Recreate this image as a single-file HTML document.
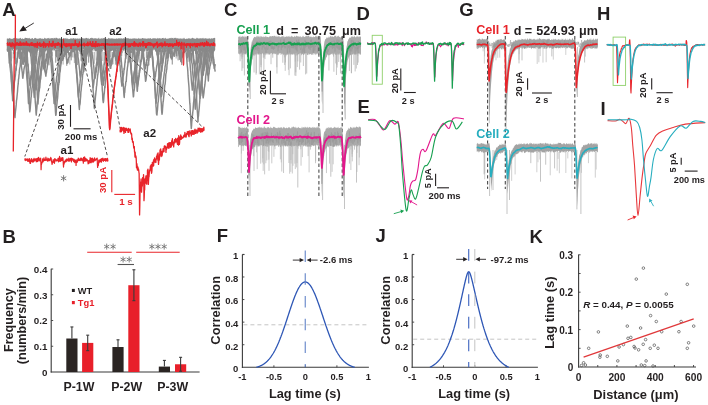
<!DOCTYPE html>
<html><head><meta charset="utf-8"><style>
html,body{margin:0;padding:0;background:#fff;}
body{width:708px;height:405px;overflow:hidden;}
svg{display:block;font-family:"Liberation Sans",sans-serif;will-change:transform;filter:blur(0.3px);}
</style></head><body>
<svg width="708" height="405" viewBox="0 0 708 405">
<rect width="708" height="405" fill="#ffffff"/>
<line x1="136.77" y1="52" x2="136.77" y2="64.77" stroke="#9a9a9a" stroke-width="0.8" />
<line x1="167.79" y1="52" x2="167.79" y2="56.7" stroke="#9a9a9a" stroke-width="0.8" />
<line x1="69.83" y1="52" x2="69.83" y2="64.48" stroke="#9a9a9a" stroke-width="0.8" />
<line x1="9.08" y1="52" x2="9.08" y2="63.85" stroke="#9a9a9a" stroke-width="0.8" />
<line x1="172.2" y1="52" x2="172.2" y2="59.62" stroke="#9a9a9a" stroke-width="0.8" />
<line x1="70.42" y1="52" x2="70.42" y2="57.34" stroke="#9a9a9a" stroke-width="0.8" />
<line x1="60.5" y1="52" x2="60.5" y2="59.34" stroke="#9a9a9a" stroke-width="0.8" />
<line x1="111.94" y1="52" x2="111.94" y2="60.64" stroke="#9a9a9a" stroke-width="0.8" />
<line x1="213.07" y1="52" x2="213.07" y2="63.51" stroke="#9a9a9a" stroke-width="0.8" />
<line x1="136.17" y1="52" x2="136.17" y2="65.87" stroke="#9a9a9a" stroke-width="0.8" />
<line x1="52.35" y1="52" x2="52.35" y2="55.92" stroke="#9a9a9a" stroke-width="0.8" />
<line x1="134.18" y1="52" x2="134.18" y2="54.53" stroke="#9a9a9a" stroke-width="0.8" />
<line x1="15.35" y1="52" x2="15.35" y2="60.18" stroke="#9a9a9a" stroke-width="0.8" />
<line x1="104.04" y1="52" x2="104.04" y2="65.01" stroke="#9a9a9a" stroke-width="0.8" />
<line x1="137.62" y1="52" x2="137.62" y2="60.17" stroke="#9a9a9a" stroke-width="0.8" />
<line x1="110.36" y1="52" x2="110.36" y2="56.97" stroke="#9a9a9a" stroke-width="0.8" />
<line x1="10.43" y1="52" x2="10.43" y2="56.31" stroke="#9a9a9a" stroke-width="0.8" />
<line x1="150.56" y1="52" x2="150.56" y2="56.41" stroke="#9a9a9a" stroke-width="0.8" />
<line x1="84.12" y1="52" x2="84.12" y2="54.04" stroke="#9a9a9a" stroke-width="0.8" />
<line x1="178.99" y1="52" x2="178.99" y2="55.85" stroke="#9a9a9a" stroke-width="0.8" />
<line x1="63.13" y1="52" x2="63.13" y2="64.56" stroke="#9a9a9a" stroke-width="0.8" />
<line x1="113.02" y1="52" x2="113.02" y2="64.17" stroke="#9a9a9a" stroke-width="0.8" />
<line x1="139.78" y1="52" x2="139.78" y2="62.9" stroke="#9a9a9a" stroke-width="0.8" />
<line x1="26.85" y1="52" x2="26.85" y2="60.49" stroke="#9a9a9a" stroke-width="0.8" />
<line x1="112.6" y1="52" x2="112.6" y2="64.46" stroke="#9a9a9a" stroke-width="0.8" />
<line x1="82.42" y1="52" x2="82.42" y2="61.18" stroke="#9a9a9a" stroke-width="0.8" />
<line x1="20.21" y1="52" x2="20.21" y2="58.65" stroke="#9a9a9a" stroke-width="0.8" />
<line x1="74.55" y1="52" x2="74.55" y2="55.8" stroke="#9a9a9a" stroke-width="0.8" />
<line x1="176.17" y1="52" x2="176.17" y2="58.55" stroke="#9a9a9a" stroke-width="0.8" />
<line x1="209.62" y1="52" x2="209.62" y2="61.08" stroke="#9a9a9a" stroke-width="0.8" />
<line x1="132.64" y1="52" x2="132.64" y2="61.66" stroke="#9a9a9a" stroke-width="0.8" />
<line x1="147.35" y1="52" x2="147.35" y2="55.81" stroke="#9a9a9a" stroke-width="0.8" />
<line x1="98.7" y1="52" x2="98.7" y2="56.87" stroke="#9a9a9a" stroke-width="0.8" />
<line x1="90.91" y1="52" x2="90.91" y2="55.16" stroke="#9a9a9a" stroke-width="0.8" />
<line x1="207.37" y1="52" x2="207.37" y2="56.58" stroke="#9a9a9a" stroke-width="0.8" />
<line x1="146.38" y1="52" x2="146.38" y2="57.61" stroke="#9a9a9a" stroke-width="0.8" />
<line x1="188.06" y1="52" x2="188.06" y2="61.95" stroke="#9a9a9a" stroke-width="0.8" />
<line x1="35.11" y1="52" x2="35.11" y2="64.14" stroke="#9a9a9a" stroke-width="0.8" />
<line x1="202.66" y1="52" x2="202.66" y2="64.85" stroke="#9a9a9a" stroke-width="0.8" />
<line x1="125.36" y1="52" x2="125.36" y2="55.75" stroke="#9a9a9a" stroke-width="0.8" />
<line x1="47.65" y1="52" x2="47.65" y2="65.13" stroke="#9a9a9a" stroke-width="0.8" />
<line x1="121.78" y1="52" x2="121.78" y2="56.17" stroke="#9a9a9a" stroke-width="0.8" />
<line x1="190.12" y1="52" x2="190.12" y2="61.7" stroke="#9a9a9a" stroke-width="0.8" />
<line x1="125.36" y1="52" x2="125.36" y2="58.52" stroke="#9a9a9a" stroke-width="0.8" />
<line x1="92.66" y1="52" x2="92.66" y2="56.87" stroke="#9a9a9a" stroke-width="0.8" />
<line x1="15.84" y1="52" x2="15.84" y2="64.51" stroke="#9a9a9a" stroke-width="0.8" />
<line x1="104.35" y1="52" x2="104.35" y2="60.57" stroke="#9a9a9a" stroke-width="0.8" />
<line x1="74.37" y1="52" x2="74.37" y2="63.02" stroke="#9a9a9a" stroke-width="0.8" />
<line x1="13.19" y1="52" x2="13.19" y2="58.47" stroke="#9a9a9a" stroke-width="0.8" />
<line x1="14.25" y1="52" x2="14.25" y2="55.47" stroke="#9a9a9a" stroke-width="0.8" />
<line x1="207.23" y1="52" x2="207.23" y2="61.89" stroke="#9a9a9a" stroke-width="0.8" />
<line x1="96.21" y1="52" x2="96.21" y2="60.28" stroke="#9a9a9a" stroke-width="0.8" />
<line x1="187.8" y1="52" x2="187.8" y2="58.13" stroke="#9a9a9a" stroke-width="0.8" />
<line x1="129.6" y1="52" x2="129.6" y2="62.2" stroke="#9a9a9a" stroke-width="0.8" />
<line x1="81.22" y1="52" x2="81.22" y2="60.23" stroke="#9a9a9a" stroke-width="0.8" />
<line x1="165.64" y1="52" x2="165.64" y2="64.91" stroke="#9a9a9a" stroke-width="0.8" />
<line x1="39.12" y1="52" x2="39.12" y2="65.2" stroke="#9a9a9a" stroke-width="0.8" />
<line x1="9.07" y1="52" x2="9.07" y2="63.04" stroke="#9a9a9a" stroke-width="0.8" />
<line x1="174.97" y1="52" x2="174.97" y2="55.64" stroke="#9a9a9a" stroke-width="0.8" />
<line x1="94.29" y1="52" x2="94.29" y2="63.78" stroke="#9a9a9a" stroke-width="0.8" />
<line x1="10.94" y1="52" x2="10.94" y2="61.54" stroke="#9a9a9a" stroke-width="0.8" />
<line x1="171.36" y1="52" x2="171.36" y2="60.16" stroke="#9a9a9a" stroke-width="0.8" />
<line x1="157.52" y1="52" x2="157.52" y2="56.72" stroke="#9a9a9a" stroke-width="0.8" />
<line x1="48.9" y1="52" x2="48.9" y2="58.36" stroke="#9a9a9a" stroke-width="0.8" />
<line x1="44.96" y1="52" x2="44.96" y2="58.15" stroke="#9a9a9a" stroke-width="0.8" />
<line x1="203.31" y1="52" x2="203.31" y2="60.88" stroke="#9a9a9a" stroke-width="0.8" />
<line x1="78.05" y1="52" x2="78.05" y2="57.26" stroke="#9a9a9a" stroke-width="0.8" />
<line x1="204.12" y1="52" x2="204.12" y2="59.33" stroke="#9a9a9a" stroke-width="0.8" />
<line x1="209.96" y1="52" x2="209.96" y2="60.19" stroke="#9a9a9a" stroke-width="0.8" />
<line x1="115.36" y1="52" x2="115.36" y2="64.76" stroke="#9a9a9a" stroke-width="0.8" />
<polygon points="6.8,38.79 7.2,38.53 7.6,38.28 8,39.01 8.4,38.26 8.8,39.08 9.2,37.71 9.6,38.29 10,38.43 10.4,39.12 10.8,38 11.2,38.89 11.6,38.68 12,38.75 12.4,38.61 12.8,39.15 13.2,38.13 13.6,38.24 14,37.92 14.4,37.68 14.8,37.94 15.2,39.06 15.6,38.94 16,37.78 16.4,38.57 16.8,38.37 17.2,38.55 17.6,38.65 18,38.09 18.4,39.14 18.8,38.35 19.2,38.6 19.6,38.62 20,37.89 20.4,37.7 20.8,38.26 21.2,38.82 21.6,38.9 22,38.77 22.4,37.78 22.8,39.06 23.2,38.88 23.6,39 24,38.44 24.4,39.07 24.8,37.67 25.2,37.65 25.6,37.63 26,38 26.4,38 26.8,37.9 27.2,38.51 27.6,37.66 28,38.54 28.4,37.87 28.8,38.68 29.2,37.63 29.6,38.1 30,39.1 30.4,38.46 30.8,38.9 31.2,38.65 31.6,38.58 32,37.91 32.4,38.52 32.8,37.66 33.2,38.88 33.6,39.14 34,38.97 34.4,37.68 34.8,38.14 35.2,38.11 35.6,37.78 36,38.6 36.4,38.88 36.8,38.1 37.2,38.98 37.6,38.88 38,37.81 38.4,38.83 38.8,39.01 39.2,37.92 39.6,38.52 40,38.62 40.4,38.57 40.8,37.75 41.2,38.66 41.6,38.61 42,38.92 42.4,38.89 42.8,38.12 43.2,38.76 43.6,38.99 44,39.03 44.4,37.86 44.8,37.64 45.2,38.64 45.6,37.94 46,38.5 46.4,39.11 46.8,38.21 47.2,38 47.6,38.33 48,38.65 48.4,37.76 48.8,38.21 49.2,37.81 49.6,38.66 50,38.93 50.4,38.2 50.8,38.19 51.2,38.46 51.6,37.94 52,38 52.4,38.13 52.8,38.33 53.2,37.73 53.6,38.8 54,38.53 54.4,38.08 54.8,37.72 55.2,38.82 55.6,37.81 56,37.81 56.4,37.81 56.8,37.73 57.2,39.05 57.6,38.03 58,38.09 58.4,38.93 58.8,38.59 59.2,37.9 59.6,38.3 60,39.01 60.4,38.2 60.8,38.74 61.2,37.75 61.6,38.76 62,38.84 62.4,38.92 62.8,38.68 63.2,38.19 63.6,37.7 64,38.43 64.4,38.81 64.8,37.91 65.2,38.03 65.6,38.46 66,38.8 66.4,39.03 66.8,37.8 67.2,37.89 67.6,38.88 68,38.63 68.4,38.75 68.8,39.19 69.2,39.1 69.6,38.95 70,38.84 70.4,38.23 70.8,38.63 71.2,37.9 71.6,38.82 72,38.81 72.4,38.75 72.8,38.31 73.2,38.21 73.6,38.27 74,37.65 74.4,38.95 74.8,38.47 75.2,38.22 75.6,38.48 76,38.75 76.4,38.21 76.8,38.93 77.2,39.07 77.6,38.22 78,37.82 78.4,38.82 78.8,39.19 79.2,37.84 79.6,38.74 80,38.92 80.4,39.07 80.8,37.8 81.2,37.75 81.6,39.18 82,37.79 82.4,37.88 82.8,38.52 83.2,38.31 83.6,38.8 84,37.9 84.4,39.06 84.8,37.95 85.2,38.83 85.6,37.71 86,38.36 86.4,37.65 86.8,38.1 87.2,38.1 87.6,38.75 88,38.33 88.4,37.69 88.8,39.19 89.2,39.02 89.6,39.07 90,37.99 90.4,38.23 90.8,37.96 91.2,37.8 91.6,37.65 92,38.41 92.4,37.8 92.8,37.88 93.2,38.98 93.6,38.37 94,37.89 94.4,38.67 94.8,38.03 95.2,38.44 95.6,38.05 96,38.43 96.4,38.61 96.8,38.46 97.2,38.23 97.6,38.87 98,39 98.4,37.89 98.8,37.82 99.2,37.78 99.6,39.17 100,39.11 100.4,37.97 100.8,39.15 101.2,37.93 101.6,38.41 102,38.4 102.4,39.06 102.8,37.66 103.2,38.1 103.6,38.56 104,37.71 104.4,37.98 104.8,38.34 105.2,39.01 105.6,38.82 106,38.93 106.4,38.82 106.8,38.73 107.2,38.96 107.6,38.69 108,38.78 108.4,38.08 108.8,37.87 109.2,38.81 109.6,37.87 110,39.07 110.4,38.55 110.8,38.13 111.2,39.1 111.6,37.85 112,38.42 112.4,37.75 112.8,39.14 113.2,38.52 113.6,38.89 114,38.05 114.4,38.88 114.8,38.72 115.2,38.63 115.6,39.12 116,38.29 116.4,38.26 116.8,38.71 117.2,38.94 117.6,38.14 118,38.67 118.4,37.93 118.8,38.48 119.2,38.83 119.6,37.7 120,38.76 120.4,37.62 120.8,39.13 121.2,38.35 121.6,38.25 122,38.75 122.4,38.44 122.8,38.77 123.2,37.74 123.6,38.5 124,38.49 124.4,39.09 124.8,37.66 125.2,38.32 125.6,38.61 126,38.48 126.4,37.72 126.8,38.55 127.2,37.96 127.6,37.91 128,39.01 128.4,37.92 128.8,38.33 129.2,38.8 129.6,38.73 130,38.49 130.4,38.89 130.8,38.35 131.2,38.59 131.6,38.91 132,38.68 132.4,38.63 132.8,38.25 133.2,38.49 133.6,38.23 134,38.79 134.4,38.21 134.8,38.35 135.2,38.81 135.6,38.41 136,38.14 136.4,38.92 136.8,38.21 137.2,38.95 137.6,38.86 138,38.32 138.4,38.74 138.8,37.66 139.2,38.22 139.6,38.98 140,38.53 140.4,38.49 140.8,38.66 141.2,38.68 141.6,38.53 142,38.27 142.4,37.89 142.8,38.07 143.2,38.07 143.6,38.29 144,39.2 144.4,38.16 144.8,38.32 145.2,38.19 145.6,38.53 146,39.12 146.4,39.02 146.8,38.2 147.2,38.03 147.6,39.02 148,38.39 148.4,38.7 148.8,37.72 149.2,38.99 149.6,38.1 150,38.39 150.4,37.92 150.8,38.27 151.2,38.92 151.6,38.92 152,38.36 152.4,38.83 152.8,38.33 153.2,38.2 153.6,38.47 154,37.92 154.4,38.11 154.8,38.73 155.2,38.83 155.6,37.69 156,38.77 156.4,38.91 156.8,38.31 157.2,37.7 157.6,38.69 158,37.99 158.4,38.63 158.8,38.2 159.2,38.62 159.6,38.01 160,38.36 160.4,38.44 160.8,38.61 161.2,37.93 161.6,39.14 162,38.06 162.4,38.09 162.8,38.01 163.2,37.71 163.6,38.28 164,38.83 164.4,38.74 164.8,37.91 165.2,37.82 165.6,38.11 166,38.83 166.4,38.38 166.8,39.08 167.2,38.65 167.6,38.59 168,38.83 168.4,38.8 168.8,38.15 169.2,38.01 169.6,38.3 170,38.38 170.4,37.83 170.8,38.31 171.2,38.62 171.6,37.82 172,37.82 172.4,37.88 172.8,38.05 173.2,39.14 173.6,37.64 174,37.89 174.4,37.86 174.8,38.36 175.2,37.62 175.6,38.33 176,37.86 176.4,38.03 176.8,38.87 177.2,37.89 177.6,38.59 178,38.25 178.4,38.27 178.8,38.91 179.2,37.86 179.6,39.08 180,39.03 180.4,38.67 180.8,37.68 181.2,38.66 181.6,38.56 182,38.84 182.4,37.94 182.8,39.13 183.2,39.02 183.6,37.78 184,38.1 184.4,37.65 184.8,38.93 185.2,39.06 185.6,39.18 186,38.58 186.4,38.67 186.8,38.69 187.2,38.51 187.6,39.12 188,38.57 188.4,38.14 188.8,38.42 189.2,37.63 189.6,38.76 190,38.71 190.4,38.27 190.8,38.96 191.2,38.81 191.6,38.14 192,37.72 192.4,37.81 192.8,37.89 193.2,38.09 193.6,38.32 194,39.08 194.4,38.05 194.8,39.04 195.2,38.69 195.6,38.97 196,38.25 196.4,37.61 196.8,38.86 197.2,37.99 197.6,37.83 198,38.88 198.4,38.7 198.8,37.94 199.2,38.03 199.6,39.1 200,38.03 200.4,38.72 200.8,37.81 201.2,38.9 201.6,37.79 202,38.43 202.4,37.66 202.8,38.48 203.2,38.95 203.6,37.74 204,38.04 204.4,38.82 204.8,38.57 205.2,38.1 205.6,38.61 206,38.33 206.4,38.98 206.8,38.07 207.2,38.81 207.6,38.62 208,38.78 208.4,38.21 208.8,38.76 209.2,38.72 209.6,38.22 210,37.64 210.4,39.14 210.8,38.74 211.2,37.93 211.6,38.77 212,38.05 212.4,38.35 212.8,38.98 213.2,38.32 213.6,38.06 214,38.09 214.4,37.72 214.8,37.95 215.2,38.03 215.2,49.88 214.8,50.58 214.4,51.06 214,50.3 213.6,51.43 213.2,50.36 212.8,49.14 212.4,51.42 212,50.89 211.6,49.17 211.2,48.9 210.8,51.6 210.4,49.44 210,51.54 209.6,50.27 209.2,49.97 208.8,49.26 208.4,50.91 208,49.31 207.6,51.42 207.2,50.95 206.8,48.91 206.4,50.34 206,49.36 205.6,50.39 205.2,49.68 204.8,49.14 204.4,49.96 204,50.58 203.6,50.79 203.2,48.95 202.8,50.04 202.4,50.05 202,50.65 201.6,50.48 201.2,51.64 200.8,50.01 200.4,49.16 200,50.41 199.6,51.54 199.2,50.93 198.8,49.83 198.4,49.52 198,50.26 197.6,50.15 197.2,49.35 196.8,50.71 196.4,51.22 196,51.76 195.6,49.01 195.2,49.92 194.8,50.03 194.4,50.83 194,51 193.6,51.21 193.2,49.65 192.8,51.63 192.4,49.19 192,49.44 191.6,49.14 191.2,50.05 190.8,49.18 190.4,51.51 190,49.49 189.6,50.42 189.2,48.85 188.8,50.02 188.4,51.62 188,49.23 187.6,49.57 187.2,50.15 186.8,50.91 186.4,50.26 186,51.36 185.6,50.45 185.2,49.55 184.8,51.44 184.4,51.55 184,49.12 183.6,50.93 183.2,49.47 182.8,50.92 182.4,49.84 182,49.19 181.6,51.44 181.2,48.92 180.8,50.68 180.4,51.78 180,50.09 179.6,50.81 179.2,48.99 178.8,49.33 178.4,49.99 178,50.89 177.6,50.7 177.2,51.24 176.8,50.15 176.4,51.65 176,50.31 175.6,51.58 175.2,49.99 174.8,48.82 174.4,51.71 174,48.96 173.6,48.99 173.2,50.57 172.8,49.71 172.4,50.85 172,49.04 171.6,50.95 171.2,50.41 170.8,50.39 170.4,49.18 170,50.25 169.6,49.64 169.2,49.88 168.8,51.27 168.4,49.46 168,50.56 167.6,50.53 167.2,49.64 166.8,48.82 166.4,51.03 166,49.61 165.6,49.5 165.2,50.11 164.8,51.46 164.4,50.27 164,50.63 163.6,49.21 163.2,50.52 162.8,49.91 162.4,50.17 162,51.39 161.6,50.11 161.2,49.39 160.8,49.37 160.4,51.47 160,50.85 159.6,50.02 159.2,50.38 158.8,51.54 158.4,51.16 158,51.32 157.6,51.75 157.2,48.92 156.8,50.9 156.4,51.71 156,48.83 155.6,51.39 155.2,51.52 154.8,49.78 154.4,49.17 154,50.28 153.6,50.62 153.2,49.12 152.8,50.87 152.4,49.64 152,51.06 151.6,49.09 151.2,50.41 150.8,50.6 150.4,50.93 150,49.81 149.6,51.18 149.2,50.51 148.8,50.53 148.4,50.05 148,51.23 147.6,51.4 147.2,51.01 146.8,51.76 146.4,51.37 146,49.03 145.6,49.4 145.2,51.42 144.8,51.42 144.4,50.93 144,50.24 143.6,51.2 143.2,50.24 142.8,49.93 142.4,49.17 142,49.19 141.6,51.19 141.2,48.89 140.8,51.27 140.4,49.38 140,49.13 139.6,48.86 139.2,48.91 138.8,49.79 138.4,51.51 138,49.93 137.6,51.02 137.2,51.59 136.8,50.75 136.4,50.66 136,50.17 135.6,49.38 135.2,51.64 134.8,49.02 134.4,49.99 134,50.8 133.6,49.64 133.2,50.94 132.8,49.39 132.4,50.93 132,49.22 131.6,50.4 131.2,50.32 130.8,48.92 130.4,49.08 130,51.28 129.6,49.83 129.2,50.91 128.8,50.29 128.4,50.66 128,50.18 127.6,51.74 127.2,51.04 126.8,51.63 126.4,49.82 126,50.51 125.6,51.63 125.2,50.18 124.8,48.87 124.4,50.39 124,51.22 123.6,49.7 123.2,51.76 122.8,49.35 122.4,51.17 122,50.07 121.6,49.61 121.2,49.93 120.8,49.3 120.4,50.58 120,51.34 119.6,51.43 119.2,48.95 118.8,48.95 118.4,50.49 118,50.29 117.6,50.27 117.2,51.64 116.8,50.06 116.4,48.83 116,51.66 115.6,51.51 115.2,50.29 114.8,48.98 114.4,50.96 114,50.85 113.6,49.11 113.2,49.19 112.8,50.29 112.4,49.66 112,51.2 111.6,50.47 111.2,51.78 110.8,50.28 110.4,50.87 110,50.59 109.6,49.2 109.2,51.07 108.8,48.87 108.4,49.25 108,51.69 107.6,51.27 107.2,50.44 106.8,49.44 106.4,49.36 106,49.72 105.6,51.41 105.2,51.6 104.8,49.13 104.4,51.75 104,50.24 103.6,49.88 103.2,49.35 102.8,48.94 102.4,50.05 102,51.02 101.6,51.5 101.2,49.95 100.8,50.16 100.4,49.77 100,49.41 99.6,51.54 99.2,50.8 98.8,50.79 98.4,49.09 98,51.33 97.6,51.5 97.2,49.9 96.8,51.42 96.4,51.72 96,51.14 95.6,51.72 95.2,50.85 94.8,51.52 94.4,49.89 94,49.11 93.6,48.92 93.2,51.06 92.8,51.77 92.4,49.67 92,51.19 91.6,50.49 91.2,49.02 90.8,51.71 90.4,51.59 90,50.8 89.6,51.19 89.2,51.57 88.8,50.15 88.4,51.69 88,51.79 87.6,50.82 87.2,50.79 86.8,49.69 86.4,50 86,50.24 85.6,51.67 85.2,48.95 84.8,48.83 84.4,49.98 84,50.94 83.6,48.83 83.2,51.2 82.8,51.04 82.4,51.19 82,48.89 81.6,51.56 81.2,49.68 80.8,51.34 80.4,50.03 80,49.97 79.6,50.76 79.2,51.04 78.8,50.07 78.4,50.59 78,51.7 77.6,49.89 77.2,50.91 76.8,49.53 76.4,49.71 76,51.48 75.6,51.24 75.2,49.89 74.8,50.83 74.4,50.68 74,49.52 73.6,50.89 73.2,50.97 72.8,51.1 72.4,51.11 72,49.39 71.6,49.78 71.2,50.11 70.8,49.54 70.4,51.62 70,51.38 69.6,50.5 69.2,50.64 68.8,50.46 68.4,50.39 68,49.53 67.6,50.68 67.2,50.58 66.8,48.98 66.4,50.68 66,48.96 65.6,48.97 65.2,50.44 64.8,51 64.4,48.82 64,49.12 63.6,49.45 63.2,50.57 62.8,49.36 62.4,51.33 62,48.81 61.6,49.76 61.2,49.59 60.8,50.11 60.4,50.42 60,50.09 59.6,51.6 59.2,49.97 58.8,49.05 58.4,51.7 58,48.99 57.6,50.81 57.2,51.52 56.8,51.49 56.4,49.08 56,51.41 55.6,49.71 55.2,48.88 54.8,51.4 54.4,50.37 54,49.66 53.6,51.36 53.2,48.99 52.8,49.99 52.4,50.49 52,51.38 51.6,51.04 51.2,49.59 50.8,50.87 50.4,49.05 50,49.14 49.6,50.58 49.2,49.54 48.8,50.59 48.4,51.03 48,49.53 47.6,50.81 47.2,51.7 46.8,50.96 46.4,50.04 46,50.73 45.6,50.41 45.2,51.41 44.8,51.15 44.4,51.64 44,50.95 43.6,51.38 43.2,51.3 42.8,50.28 42.4,49.81 42,50.43 41.6,51.31 41.2,49.19 40.8,51.76 40.4,49.46 40,50.87 39.6,49.38 39.2,51.45 38.8,49.55 38.4,48.85 38,50.74 37.6,51.38 37.2,50.49 36.8,49.56 36.4,50.23 36,50.34 35.6,51.29 35.2,51.59 34.8,49.04 34.4,50.39 34,51.22 33.6,50.8 33.2,51.67 32.8,49.07 32.4,49.25 32,51.28 31.6,51.05 31.2,51.5 30.8,49.03 30.4,49.35 30,51.48 29.6,50.12 29.2,49.74 28.8,50.17 28.4,50.68 28,50.99 27.6,50.59 27.2,49.6 26.8,50.17 26.4,51.39 26,49.35 25.6,49.94 25.2,51.3 24.8,50.33 24.4,50.05 24,51.21 23.6,50.15 23.2,49.39 22.8,50.03 22.4,49.54 22,50.09 21.6,50.83 21.2,49.86 20.8,50.06 20.4,48.94 20,50.1 19.6,51.55 19.2,51.34 18.8,50.62 18.4,51.67 18,50.84 17.6,48.89 17.2,50.44 16.8,50.39 16.4,49.36 16,51.01 15.6,51.58 15.2,49.52 14.8,50.69 14.4,50.23 14,51.78 13.6,49.2 13.2,49.2 12.8,50.02 12.4,51.6 12,49.39 11.6,50.38 11.2,49.15 10.8,51.43 10.4,51.57 10,50.28 9.6,50.08 9.2,50.98 8.8,49.03 8.4,49.58 8,51.16 7.6,50.4 7.2,51.61 6.8,51.28" fill="#8a8a8a"/>
<polyline points="8.73,51.05 8.98,49.51 9.23,49.18 9.48,48.36 9.73,49.07 9.98,51.92 10.23,53.44 10.48,54.74 10.73,57.99 10.98,61.22 11.23,64.68 11.48,66.73 11.73,70.35 11.98,72.19 12.23,76.39 12.48,82.79 12.73,82.71 12.98,88.39 13.23,92.87 13.48,96.28 13.73,99.92 13.98,104.83 14.23,109.12 14.48,113.35 14.73,115.93 14.98,117.58 15.23,114.02 15.48,111.5 15.73,109.48 15.98,107.13 16.23,104.66 16.48,100.56 16.73,99.31 16.98,96.93 17.23,94.29 17.48,91.98 17.73,87.91 17.98,85.4 18.23,83.94 18.48,79.34 18.73,78.55 18.98,75.49 19.23,73.38 19.48,69.78 19.73,68.46 19.98,67.21 20.23,66.06 20.48,64.16 20.73,61.16 20.98,59.2 21.23,56.78 21.48,56.33 21.73,54.1 21.98,53.5 22.23,53.34 22.48,50.48 22.73,48.5 22.98,49.14 23.23,48.54 23.48,48.8" fill="none" stroke="#888888" stroke-width="1.45" stroke-linejoin="round" />
<polyline points="7.39,50.23 7.64,48.48 7.89,50.65 8.14,51.26 8.39,49.64 8.64,50.56 8.89,52.72 9.14,55.46 9.39,58.16 9.64,61.23 9.89,63.95 10.14,66.74 10.39,69.87 10.64,72.23 10.89,73.21 11.14,77.87 11.39,81.67 11.64,84.41 11.89,89.22 12.14,91.55 12.39,94.65 12.64,100.76 12.89,97.83 13.14,94.95 13.39,93.25 13.64,91.02 13.89,87.96 14.14,82.85 14.39,82.36 14.64,80.34 14.89,77.62 15.14,76.64 15.39,75.51 15.64,71.75 15.89,69.07 16.14,70.24 16.39,65.82 16.64,63.15 16.89,62.79 17.14,61.21 17.39,58.37 17.64,58.23 17.89,55.39 18.14,53.49 18.39,53.23 18.64,52.59 18.89,50.13 19.14,50.35 19.39,49.91 19.64,52.82 19.89,49.29 20.14,51.38" fill="none" stroke="#888888" stroke-width="1.45" stroke-linejoin="round" />
<polyline points="7.65,50.72 7.9,50.89 8.15,51.27 8.4,50.33 8.65,49.4 8.9,50.66 9.15,53.46 9.4,55.58 9.65,58.67 9.9,60.14 10.15,63.38 10.4,66.57 10.65,68.07 10.9,69.38 11.15,72.75 11.4,75.65 11.65,81.92 11.9,82.81 12.15,88.29 12.4,91.13 12.65,95.8 12.9,94.93 13.15,91.49 13.4,89.08 13.65,87.09 13.9,84.94 14.15,82.02 14.4,80.34 14.65,79.84 14.9,74.42 15.15,74.32 15.4,71.12 15.65,70.23 15.9,68.95 16.15,66.16 16.4,65.14 16.65,60.99 16.9,61.95 17.15,58.57 17.4,58.2 17.65,56.23 17.9,52.01 18.15,52.5 18.4,52.25 18.65,52.51 18.9,50.42 19.15,50.26 19.4,48.59 19.65,51.43 19.9,51.81" fill="none" stroke="#888888" stroke-width="1.45" stroke-linejoin="round" />
<polyline points="18.38,49.78 18.63,48.38 18.88,50.88 19.13,52.7 19.38,50.72 19.63,52.24 19.88,52.96 20.13,53.1 20.38,57.28 20.63,56.71 20.88,59.86 21.13,62.58 21.38,65.52 21.63,67.47 21.88,69.95 22.13,71.38 22.38,73.5 22.63,77.57 22.88,78.27 23.13,75.83 23.38,74.07 23.63,73.07 23.88,69.96 24.13,68.75 24.38,66.78 24.63,66.95 24.88,65.57 25.13,65.59 25.38,60.56 25.63,59.89 25.88,60.04 26.13,57.52 26.38,56.08 26.63,56.84 26.88,53.59 27.13,51.65 27.38,50.46 27.63,51.21 27.88,50.47 28.13,48.63 28.38,49.01 28.63,50.53 28.88,50.58" fill="none" stroke="#888888" stroke-width="1.45" stroke-linejoin="round" />
<polyline points="19.21,50.57 19.46,48.22 19.71,49.69 19.96,50.42 20.21,49.43 20.46,48.48 20.71,51.25 20.96,53.34 21.21,55.34 21.46,52.84 21.71,58.99 21.96,56.66 22.21,60.23 22.46,62.04 22.71,63.37 22.96,64.17 23.21,62.27 23.46,62.97 23.71,60.55 23.96,57.7 24.21,62.02 24.46,58.91 24.71,59.04 24.96,55.37 25.21,56.84 25.46,56.09 25.71,55.21 25.96,52.84 26.21,50.91 26.46,51.25 26.71,48.6 26.96,48.58 27.21,50.09 27.46,49.01 27.71,49.84 27.96,49.89" fill="none" stroke="#888888" stroke-width="1.45" stroke-linejoin="round" />
<polyline points="24.01,51.3 24.26,49.96 24.51,51.21 24.76,49.22 25.01,49.66 25.26,52.25 25.51,52.06 25.76,55.31 26.01,56.8 26.26,60.98 26.51,65.39 26.76,66.06 27.01,70.23 27.26,72.42 27.51,75.59 27.76,79.03 28.01,85.34 28.26,89.97 28.51,91.89 28.76,94.58 29.01,99.96 29.26,102.96 29.51,108.21 29.76,111.88 30.01,110.63 30.26,108.24 30.51,104.36 30.76,101.87 31.01,97.92 31.26,96.6 31.51,93.06 31.76,91.8 32.01,88.49 32.26,87.09 32.51,85.02 32.76,80.76 33.01,79.02 33.26,76.59 33.51,76.02 33.76,74.76 34.01,71.74 34.26,68.43 34.51,68.18 34.76,63.19 35.01,64.26 35.26,60.23 35.51,56.3 35.76,60.01 36.01,57.3 36.26,53.15 36.51,52.94 36.76,51.3 37.01,50.57 37.26,48.52 37.51,49.32 37.76,50.47 38.01,50.22" fill="none" stroke="#888888" stroke-width="1.45" stroke-linejoin="round" />
<polyline points="23.21,50.08 23.46,52.35 23.71,49.28 23.96,50.26 24.21,48.08 24.46,50.02 24.71,54.47 24.96,54.37 25.21,58.26 25.46,60.27 25.71,62.05 25.96,65.65 26.21,68.52 26.46,71.69 26.71,76.19 26.96,79.44 27.21,81.66 27.46,84.87 27.71,89.68 27.96,92.99 28.21,97.89 28.46,103.36 28.71,103.62 28.96,100.19 29.21,97.54 29.46,94.36 29.71,91.86 29.96,89.34 30.21,87.56 30.46,85.17 30.71,84.02 30.96,80.59 31.21,78.55 31.46,75.32 31.71,76.02 31.96,72.76 32.21,71.96 32.46,68.95 32.71,67.66 32.96,64 33.21,63.1 33.46,63.29 33.71,57.63 33.96,58.37 34.21,57.32 34.46,54.57 34.71,53.55 34.96,52.84 35.21,49.86 35.46,50.42 35.71,49.11 35.96,49.31 36.21,49.37" fill="none" stroke="#888888" stroke-width="1.45" stroke-linejoin="round" />
<polyline points="25.15,50.46 25.4,48.55 25.65,52.03 25.9,51.18 26.15,50.74 26.4,50.7 26.65,52.53 26.9,55.01 27.15,56.89 27.4,56.92 27.65,61.71 27.9,66.37 28.15,64.03 28.4,69.58 28.65,71.66 28.9,73.97 29.15,78.38 29.4,78.72 29.65,83.12 29.9,85.5 30.15,81.77 30.4,79.55 30.65,78.13 30.9,75.62 31.15,75.77 31.4,71.38 31.65,71.38 31.9,67.4 32.15,67.62 32.4,65.11 32.65,60.89 32.9,61.91 33.15,59.25 33.4,58.37 33.65,58.94 33.9,54.81 34.15,53.55 34.4,54.87 34.65,52.37 34.9,52.81 35.15,50.71 35.4,49.09 35.65,49.93 35.9,51.26 36.15,50.97" fill="none" stroke="#888888" stroke-width="1.45" stroke-linejoin="round" />
<polyline points="30.27,50.05 30.52,49.88 30.77,49.41 31.02,51.99 31.27,50.01 31.52,50.2 31.77,52.85 32.02,56.41 32.27,58.89 32.52,60.86 32.77,63.26 33.02,67.07 33.27,68.55 33.52,72.29 33.77,77.92 34.02,80.18 34.27,84.73 34.52,89.37 34.77,92.64 35.02,95.93 35.27,102.11 35.52,104.7 35.77,107.82 36.02,113.17 36.27,115.12 36.52,111.03 36.77,109.23 37.02,106.25 37.27,101.69 37.52,100.87 37.77,98.11 38.02,95.35 38.27,91.53 38.52,90.32 38.77,88.14 39.02,85.82 39.27,82.12 39.52,81.55 39.77,77.31 40.02,76.03 40.27,75.35 40.52,71.08 40.77,69.11 41.02,68.64 41.27,65.1 41.52,63.2 41.77,61.81 42.02,60.81 42.27,55.7 42.52,55.43 42.77,53.66 43.02,52.11 43.27,51.02 43.52,49.9 43.77,50.31 44.02,49.09 44.27,50.13 44.52,50.41" fill="none" stroke="#888888" stroke-width="1.45" stroke-linejoin="round" />
<polyline points="29.01,50.13 29.26,51.68 29.51,50.33 29.76,49.35 30.01,49.93 30.26,50.28 30.51,53.28 30.76,55.97 31.01,56.56 31.26,59.68 31.51,63.67 31.76,64.81 32.01,68.41 32.26,70.19 32.51,73.52 32.76,77.04 33.01,83.05 33.26,83.85 33.51,87.19 33.76,90.7 34.01,94.7 34.26,97.47 34.51,94.6 34.76,94.1 35.01,89.91 35.26,88.83 35.51,85.39 35.76,83.47 36.01,79.21 36.26,78.35 36.51,76.28 36.76,74.01 37.01,70.04 37.26,71.06 37.51,67.83 37.76,65.86 38.01,64.17 38.26,62.39 38.51,61.26 38.76,57.89 39.01,56.61 39.26,56.29 39.51,54.68 39.76,52.81 40.01,51.37 40.26,50.04 40.51,50.02 40.76,51.18 41.01,48.94 41.26,51.52 41.51,50.84" fill="none" stroke="#888888" stroke-width="1.45" stroke-linejoin="round" />
<polyline points="30.97,48.53 31.22,48.27 31.47,48.71 31.72,49.59 31.97,49.67 32.22,50.64 32.47,52.95 32.72,52.69 32.97,57.51 33.22,57.95 33.47,61.22 33.72,64.1 33.97,66.11 34.22,68.76 34.47,72.08 34.72,76.11 34.97,79.84 35.22,83.03 35.47,84.75 35.72,88.31 35.97,90.09 36.22,89.22 36.47,84.52 36.72,85.61 36.97,81.74 37.22,79.32 37.47,78.36 37.72,77.01 37.97,74.3 38.22,73.04 38.47,70.19 38.72,69.39 38.97,67.56 39.22,64.42 39.47,64.21 39.72,61.24 39.97,59.52 40.22,56.94 40.47,56.07 40.72,55.71 40.97,52.28 41.22,53.01 41.47,51.62 41.72,50.65 41.97,47.79 42.22,49.9 42.47,50.65 42.72,49.24" fill="none" stroke="#888888" stroke-width="1.45" stroke-linejoin="round" />
<polyline points="32.51,47.62 32.76,50.67 33.01,49.34 33.26,50.87 33.51,48.16 33.76,51.97 34.01,52.9 34.26,56.13 34.51,56.8 34.76,59.71 35.01,65.34 35.26,65.17 35.51,68.33 35.76,71.9 36.01,74.41 36.26,79.98 36.51,83.96 36.76,85.07 37.01,87.67 37.26,94.26 37.51,97.97 37.76,101.53 38.01,103.93 38.26,99.36 38.51,97.54 38.76,93.84 39.01,91.35 39.26,91.32 39.51,87.28 39.76,87.87 40.01,83.35 40.26,80.35 40.51,79.54 40.76,78.34 41.01,74.86 41.26,71.03 41.51,70.55 41.76,69.52 42.01,65.68 42.26,63.48 42.51,63.4 42.76,60.73 43.01,57.75 43.26,56.82 43.51,54.87 43.76,54.44 44.01,52.89 44.26,52.71 44.51,51.24 44.76,48.44 45.01,50.41 45.26,50.9 45.51,50.46" fill="none" stroke="#888888" stroke-width="1.45" stroke-linejoin="round" />
<polyline points="34.27,49.05 34.52,50.93 34.77,48.93 35.02,47.84 35.27,51.03 35.52,50.37 35.77,52.38 36.02,53.15 36.27,55.28 36.52,57.68 36.77,60.84 37.02,64.05 37.27,63.98 37.52,69.72 37.77,70.57 38.02,73.56 38.27,78.25 38.52,80.52 38.77,82.15 39.02,88.04 39.27,83.25 39.52,82.3 39.77,80.23 40.02,79.44 40.27,75.61 40.52,75.14 40.77,71.5 41.02,71.5 41.27,67.8 41.52,66.42 41.77,66.94 42.02,63.67 42.27,61.82 42.52,62.35 42.77,58.94 43.02,56.28 43.27,56.43 43.52,53.18 43.77,54.25 44.02,53.19 44.27,50.41 44.52,49.56 44.77,50.18 45.02,50.01 45.27,49.02 45.52,50.57" fill="none" stroke="#888888" stroke-width="1.45" stroke-linejoin="round" />
<polyline points="41.38,49.57 41.63,49.6 41.88,49.73 42.13,50.31 42.38,48.77 42.63,51.51 42.88,52.1 43.13,53.2 43.38,54.24 43.63,56.31 43.88,59.85 44.13,60.63 44.38,63.86 44.63,67.14 44.88,69.47 45.13,72.43 45.38,73.08 45.63,74.85 45.88,76.17 46.13,73.76 46.38,72.9 46.63,70.15 46.88,69.72 47.13,67.79 47.38,66.11 47.63,64.39 47.88,62.81 48.13,61.21 48.38,59.81 48.63,59.22 48.88,56.42 49.13,57.43 49.38,54.4 49.63,54.37 49.88,52.26 50.13,51.17 50.38,52.64 50.63,49.71 50.88,48.72 51.13,49.29 51.38,49.68 51.63,52.16" fill="none" stroke="#888888" stroke-width="1.45" stroke-linejoin="round" />
<polyline points="40.63,50.93 40.88,49 41.13,50.35 41.38,50.67 41.63,51.8 41.88,50.07 42.13,52.49 42.38,53.5 42.63,53.63 42.88,56.2 43.13,57.61 43.38,57.3 43.63,62.05 43.88,63.88 44.13,64.86 44.38,65.98 44.63,70.87 44.88,68.44 45.13,67.82 45.38,66.86 45.63,63.61 45.88,63.65 46.13,61.33 46.38,60.28 46.63,59.06 46.88,57.98 47.13,57.96 47.38,55.89 47.63,54.57 47.88,53.46 48.13,53.15 48.38,51.04 48.63,50.65 48.88,50.43 49.13,49.44 49.38,49.88 49.63,49.39 49.88,52 50.13,51.33" fill="none" stroke="#888888" stroke-width="1.45" stroke-linejoin="round" />
<polyline points="39.84,52.19 40.09,50.32 40.34,49.91 40.59,50.3 40.84,50.31 41.09,52.19 41.34,51.9 41.59,55.34 41.84,53.83 42.09,56.99 42.34,56.98 42.59,61.58 42.84,61.28 43.09,63.47 43.34,66.44 43.59,68.82 43.84,68.55 44.09,68.32 44.34,65.88 44.59,66.04 44.84,64.46 45.09,62.9 45.34,61.27 45.59,60.32 45.84,58.74 46.09,58.82 46.34,58.66 46.59,54.11 46.84,54.86 47.09,53.55 47.34,53.5 47.59,51.17 47.84,51.16 48.09,49.57 48.34,50.77 48.59,50.1 48.84,49.84 49.09,50.37 49.34,49.75" fill="none" stroke="#888888" stroke-width="1.45" stroke-linejoin="round" />
<polyline points="49.77,50.6 50.02,50.29 50.27,49.85 50.52,50.98 50.77,51.22 51.02,50.27 51.27,52.58 51.52,57.24 51.77,59.69 52.02,60.31 52.27,62.83 52.52,66.48 52.77,69.86 53.02,72.15 53.27,77.24 53.52,79.52 53.77,83.28 54.02,89.19 54.27,91.46 54.52,96.03 54.77,100.76 55.02,105.06 55.27,108.09 55.52,112.73 55.77,115.34 56.02,115.1 56.27,111.22 56.52,106.71 56.77,105.09 57.02,103.11 57.27,100.21 57.52,98.93 57.77,95.87 58.02,91.4 58.27,89.32 58.52,85.64 58.77,84.72 59.02,82.2 59.27,82.38 59.52,77.45 59.77,72.98 60.02,72.16 60.27,70.76 60.52,67.25 60.77,65.56 61.02,64.04 61.27,62.8 61.52,60.4 61.77,57.86 62.02,57.81 62.27,54.85 62.52,53.36 62.77,51.08 63.02,50.44 63.27,50.9 63.52,48.38 63.77,49.93 64.02,50.72 64.27,49.62" fill="none" stroke="#888888" stroke-width="1.45" stroke-linejoin="round" />
<polyline points="48.53,48.88 48.78,51.31 49.03,51.1 49.28,50.24 49.53,48.24 49.78,50.23 50.03,54.12 50.28,57.03 50.53,58.03 50.78,61.58 51.03,62.49 51.28,65.81 51.53,69.03 51.78,72.6 52.03,73.91 52.28,79.73 52.53,83.56 52.78,84.63 53.03,88.04 53.28,93.44 53.53,96.21 53.78,98.33 54.03,103.58 54.28,100.38 54.53,97.23 54.78,97.33 55.03,92.9 55.28,89.59 55.53,88.05 55.78,84.55 56.03,82.51 56.28,81.38 56.53,78.19 56.78,76.09 57.03,76.04 57.28,73.11 57.53,70.98 57.78,68.68 58.03,66.66 58.28,65.71 58.53,62.37 58.78,62.44 59.03,57.9 59.28,56.94 59.53,54.24 59.78,53.8 60.03,53.3 60.28,53.01 60.53,49.87 60.78,50.01 61.03,49.64 61.28,49.26 61.53,48.81" fill="none" stroke="#888888" stroke-width="1.45" stroke-linejoin="round" />
<polyline points="49.98,50.11 50.23,50.02 50.48,49.34 50.73,48.99 50.98,48.62 51.23,53.17 51.48,51.84 51.73,56.95 51.98,58.44 52.23,60.12 52.48,62.13 52.73,67.28 52.98,71.04 53.23,71.58 53.48,75.52 53.73,80.27 53.98,83.06 54.23,88.31 54.48,89.41 54.73,94.27 54.98,96.31 55.23,103.55 55.48,104.7 55.73,101.36 55.98,100.86 56.23,98.3 56.48,97.83 56.73,93.09 56.98,90.96 57.23,89.14 57.48,87.74 57.73,83.74 57.98,82.52 58.23,79.72 58.48,76.67 58.73,74.85 58.98,72.65 59.23,69.6 59.48,69.68 59.73,65.07 59.98,65.68 60.23,63.57 60.48,60.7 60.73,58.26 60.98,57.12 61.23,56.22 61.48,54.99 61.73,53.15 61.98,52.61 62.23,50.02 62.48,50.23 62.73,48.43 62.98,50.76 63.23,50.15" fill="none" stroke="#888888" stroke-width="1.45" stroke-linejoin="round" />
<polyline points="63.61,51.16 63.86,50.69 64.11,47.18 64.36,50.04 64.61,48.54 64.86,51.66 65.11,53.95 65.36,51.96 65.61,53.68 65.86,54.56 66.11,56.45 66.36,58.1 66.61,60.16 66.86,59.35 67.11,63.43 67.36,62.49 67.61,62.77 67.86,62.61 68.11,61.15 68.36,58.5 68.61,57.76 68.86,57.05 69.11,56.54 69.36,56.85 69.61,53.55 69.86,54.48 70.11,53.83 70.36,53.04 70.61,52.25 70.86,52.66 71.11,51.06 71.36,50.98 71.61,50.56 71.86,51.79 72.11,48.1 72.36,51.28" fill="none" stroke="#888888" stroke-width="1.45" stroke-linejoin="round" />
<polyline points="65.92,49.03 66.17,48.13 66.42,49.62 66.67,49.31 66.92,50.49 67.17,48.84 67.42,52.21 67.67,51.6 67.92,51.68 68.17,51.86 68.42,52.47 68.67,52.85 68.92,54.19 69.17,55.53 69.42,55.92 69.67,54.13 69.92,54.75 70.17,53.6 70.42,54.14 70.67,55.35 70.92,53.63 71.17,52.23 71.42,50.47 71.67,50.26 71.92,49.59 72.17,51.63 72.42,49.8 72.67,50.33 72.92,49.42 73.17,50.09 73.42,51.4 73.67,49.32 73.92,49.66" fill="none" stroke="#888888" stroke-width="1.45" stroke-linejoin="round" />
<polyline points="73.63,50.87 73.88,48.97 74.13,48.87 74.38,48.61 74.63,48.59 74.88,51.79 75.13,55.82 75.38,54.51 75.63,58.96 75.88,60.95 76.13,62.46 76.38,66.29 76.63,69.47 76.88,72.28 77.13,78.27 77.38,77.91 77.63,83.77 77.88,87.38 78.13,90.21 78.38,94.77 78.63,99.4 78.88,102.66 79.13,106.97 79.38,109.43 79.63,104.03 79.88,104.89 80.13,103.08 80.38,99.19 80.63,96.67 80.88,91.73 81.13,90.53 81.38,87.38 81.63,85.19 81.88,84.36 82.13,80.25 82.38,78.62 82.63,74.58 82.88,74.12 83.13,72.19 83.38,69.28 83.63,67.19 83.88,67.78 84.13,62.72 84.38,60.98 84.63,59.39 84.88,59.64 85.13,58.87 85.38,55.51 85.63,52.98 85.88,51.92 86.13,52.22 86.38,49.31 86.63,51.45 86.88,51.42 87.13,50.07 87.38,50.65" fill="none" stroke="#888888" stroke-width="1.45" stroke-linejoin="round" />
<polyline points="73.13,51.55 73.38,48.95 73.63,51.18 73.88,49.62 74.13,49.23 74.38,51.33 74.63,52.82 74.88,54.14 75.13,55.86 75.38,59.03 75.63,64.09 75.88,67.4 76.13,69.02 76.38,72.59 76.63,74.03 76.88,77.71 77.13,81.4 77.38,83.45 77.63,87.03 77.88,91.68 78.13,94.91 78.38,97.15 78.63,96.17 78.88,93.12 79.13,92.03 79.38,88.66 79.63,86.06 79.88,84.21 80.13,81.67 80.38,78.97 80.63,77.06 80.88,76.09 81.13,73.9 81.38,72.49 81.63,67.51 81.88,66.85 82.13,64.93 82.38,63.66 82.63,61.24 82.88,59.45 83.13,59.08 83.38,56.88 83.63,54.03 83.88,55.12 84.13,53.48 84.38,50.75 84.63,51.21 84.88,49.26 85.13,51.13 85.38,49.78 85.63,49.2" fill="none" stroke="#888888" stroke-width="1.45" stroke-linejoin="round" />
<polyline points="75.91,50.19 76.16,50.18 76.41,50.04 76.66,49.44 76.91,46.34 77.16,51.04 77.41,50.44 77.66,54.2 77.91,56.89 78.16,57.97 78.41,59.36 78.66,61.73 78.91,64.04 79.16,65.97 79.41,68.36 79.66,70.52 79.91,75.2 80.16,76.63 80.41,77.75 80.66,74.79 80.91,73.38 81.16,71.43 81.41,70.4 81.66,69.12 81.91,66.93 82.16,64.44 82.41,62.8 82.66,63.74 82.91,60.35 83.16,58.93 83.41,59.33 83.66,57.64 83.91,55.83 84.16,53.72 84.41,55.36 84.66,52.37 84.91,51.62 85.16,50.15 85.41,48.59 85.66,48.67 85.91,50.41 86.16,50.39" fill="none" stroke="#888888" stroke-width="1.45" stroke-linejoin="round" />
<polyline points="88.72,48.83 88.97,48.56 89.22,49.67 89.47,48.54 89.72,50.9 89.97,52.47 90.22,56.06 90.47,56.36 90.72,57.37 90.97,59.77 91.22,60.03 91.47,65.88 91.72,69.43 91.97,73.81 92.22,76.81 92.47,80.24 92.72,83.42 92.97,87.51 93.22,92.02 93.47,93.32 93.72,97.81 93.97,100.84 94.22,107.87 94.47,108.59 94.72,105.4 94.97,100.83 95.22,99.61 95.47,96.64 95.72,94.43 95.97,91.66 96.22,89.91 96.47,86.57 96.72,85.43 96.97,82.46 97.22,79.61 97.47,77.52 97.72,74.96 97.97,74.03 98.22,70.8 98.47,69.28 98.72,66.55 98.97,63.48 99.22,63.94 99.47,60.12 99.72,60.06 99.97,58.09 100.22,54.38 100.47,53.56 100.72,52.57 100.97,50.98 101.22,49.52 101.47,50.74 101.72,49.76 101.97,50.39 102.22,49.57" fill="none" stroke="#888888" stroke-width="1.45" stroke-linejoin="round" />
<polyline points="88.39,49.25 88.64,49.97 88.89,50.58 89.14,50.05 89.39,49.54 89.64,50.03 89.89,52.92 90.14,55.01 90.39,56.52 90.64,58.29 90.89,62.03 91.14,66.51 91.39,66.39 91.64,69.79 91.89,72.68 92.14,72.68 92.39,78.4 92.64,80.67 92.89,85.93 93.14,87.53 93.39,86.03 93.64,84.46 93.89,82.74 94.14,79.94 94.39,78.41 94.64,75.1 94.89,74.26 95.14,73.32 95.39,72.62 95.64,69.49 95.89,67.24 96.14,66.38 96.39,64.49 96.64,63.46 96.89,61.25 97.14,58.48 97.39,57.36 97.64,55.85 97.89,54.62 98.14,53.25 98.39,51.12 98.64,48.8 98.89,49.45 99.14,47.97 99.39,50.07 99.64,50 99.89,48.32" fill="none" stroke="#888888" stroke-width="1.45" stroke-linejoin="round" />
<polyline points="90.45,50.1 90.7,51.67 90.95,51.87 91.2,48.79 91.45,51.04 91.7,51.44 91.95,52.88 92.2,55.1 92.45,55.34 92.7,57.5 92.95,59.43 93.2,61.78 93.45,64.81 93.7,65.93 93.95,68.89 94.2,73.14 94.45,75.19 94.7,78.42 94.95,78.48 95.2,77.7 95.45,76.08 95.7,74.84 95.95,72.43 96.2,72.19 96.45,69.47 96.7,67.85 96.95,66.19 97.2,65.27 97.45,62.51 97.7,62.57 97.95,60.42 98.2,58.68 98.45,57.18 98.7,56.33 98.95,55.57 99.2,54.32 99.45,52.66 99.7,52.18 99.95,50.59 100.2,51.25 100.45,49.97 100.7,47.92 100.95,51.34" fill="none" stroke="#888888" stroke-width="1.45" stroke-linejoin="round" />
<polyline points="97.8,48.83 98.05,49.8 98.3,49.12 98.55,52.1 98.8,50.5 99.05,49.71 99.3,53.69 99.55,54.92 99.8,59.65 100.05,59.28 100.3,60.85 100.55,66.06 100.8,68.68 101.05,71.76 101.3,73.3 101.55,79.22 101.8,83.91 102.05,83.87 102.3,90.56 102.55,92.52 102.8,99.21 103.05,101.14 103.3,102.59 103.55,101.33 103.8,98.23 104.05,94.63 104.3,93.48 104.55,89.83 104.8,86.16 105.05,87.63 105.3,82.92 105.55,80.38 105.8,79.08 106.05,74.98 106.3,73.02 106.55,71.75 106.8,69.66 107.05,68.22 107.3,67.29 107.55,63.78 107.8,62.88 108.05,61.19 108.3,57.77 108.55,57.42 108.8,54.68 109.05,55.21 109.3,53.24 109.55,51.58 109.8,49.2 110.05,50.12 110.3,49.23 110.55,50.71 110.8,49.88" fill="none" stroke="#888888" stroke-width="1.45" stroke-linejoin="round" />
<polyline points="98.8,50.93 99.05,50.72 99.3,49.41 99.55,51.16 99.8,49.7 100.05,50.75 100.3,52.74 100.55,53.68 100.8,56 101.05,58.44 101.3,62.44 101.55,64.83 101.8,65.59 102.05,70.09 102.3,71.15 102.55,74.36 102.8,77.74 103.05,80.09 103.3,85.23 103.55,83.83 103.8,80.38 104.05,80.9 104.3,77.23 104.55,75.41 104.8,70.84 105.05,72.98 105.3,70.97 105.55,69.17 105.8,67.61 106.05,66.62 106.3,63.22 106.55,62.6 106.8,59.35 107.05,58.24 107.3,58.2 107.55,56.15 107.8,53.11 108.05,53.58 108.3,51.91 108.55,50.28 108.8,50.72 109.05,49.6 109.3,48.43 109.55,48.89 109.8,51.77" fill="none" stroke="#888888" stroke-width="1.45" stroke-linejoin="round" />
<polyline points="96.92,50.61 97.17,50.64 97.42,48.77 97.67,49.68 97.92,50.14 98.17,51.87 98.42,51.99 98.67,53.31 98.92,57.5 99.17,59.79 99.42,61.37 99.67,62.84 99.92,66.4 100.17,68.75 100.42,72.21 100.67,72.95 100.92,77.21 101.17,79.9 101.42,81.99 101.67,84.64 101.92,82.42 102.17,79.97 102.42,78.8 102.67,75.04 102.92,74.49 103.17,73.1 103.42,71.11 103.67,70.09 103.92,66.05 104.17,64.01 104.42,64.07 104.67,62.65 104.92,62.73 105.17,59.69 105.42,56.72 105.67,56.99 105.92,53.99 106.17,52.09 106.42,55.02 106.67,51.69 106.92,51.2 107.17,50.56 107.42,51.81 107.67,50.28 107.92,51.22" fill="none" stroke="#888888" stroke-width="1.45" stroke-linejoin="round" />
<polyline points="118.99,48.61 119.24,51.43 119.49,51.47 119.74,50.51 119.99,50.23 120.24,51.39 120.49,52.32 120.74,56.63 120.99,58.06 121.24,60.4 121.49,62.91 121.74,66.37 121.99,68.73 122.24,71.98 122.49,73.19 122.74,78.08 122.99,83.06 123.24,83.74 123.49,87.59 123.74,92.15 123.99,95.83 124.24,97.44 124.49,92.79 124.74,92.54 124.99,88.51 125.24,86.56 125.49,85.66 125.74,82.57 125.99,81.46 126.24,81.63 126.49,77.12 126.74,74.97 126.99,71.3 127.24,69.54 127.49,67.15 127.74,65.76 127.99,63.34 128.24,61.95 128.49,60.65 128.74,58.16 128.99,56.12 129.24,54.64 129.49,54.99 129.74,53.24 129.99,52.97 130.24,51.92 130.49,49.74 130.74,50.67 130.99,48.56 131.24,52.28 131.49,51.2" fill="none" stroke="#888888" stroke-width="1.45" stroke-linejoin="round" />
<polyline points="117.08,50.38 117.33,48.13 117.58,49.22 117.83,50.75 118.08,50.08 118.33,50.62 118.58,53.68 118.83,53.59 119.08,57.01 119.33,58.49 119.58,60.54 119.83,64.38 120.08,65.56 120.33,71.19 120.58,71.54 120.83,77.03 121.08,76.95 121.33,81.72 121.58,83.06 121.83,86.14 122.08,86.05 122.33,84.46 122.58,80.43 122.83,80.84 123.08,76.84 123.33,75.79 123.58,74.09 123.83,72.4 124.08,68.13 124.33,69.72 124.58,66.87 124.83,64.13 125.08,61.84 125.33,59.52 125.58,58.26 125.83,58.63 126.08,56.27 126.33,54.08 126.58,53.37 126.83,54.24 127.08,51.24 127.33,50.05 127.58,51.35 127.83,50.46 128.08,50.04 128.33,49.39" fill="none" stroke="#888888" stroke-width="1.45" stroke-linejoin="round" />
<polyline points="128.1,48.83 128.35,49.52 128.6,49.78 128.85,50.36 129.1,50.55 129.35,51.44 129.6,53.23 129.85,54.08 130.1,55.25 130.35,59.37 130.6,61.58 130.85,64.67 131.1,67.95 131.35,69.99 131.6,73.25 131.85,77.47 132.1,80.99 132.35,83.6 132.6,88.22 132.85,91.04 133.1,93.85 133.35,96.85 133.6,96.29 133.85,91.36 134.1,90.86 134.35,88.76 134.6,86.61 134.85,82.04 135.1,82.67 135.35,78.6 135.6,76.09 135.85,74.02 136.1,72.8 136.35,70.23 136.6,68.04 136.85,67.58 137.1,63.7 137.35,61.57 137.6,61.65 137.85,59.87 138.1,58.64 138.35,54.92 138.6,55.62 138.85,53.66 139.1,53.71 139.35,49.63 139.6,50.3 139.85,49.72 140.1,48.41 140.35,49.29 140.6,51.13" fill="none" stroke="#888888" stroke-width="1.45" stroke-linejoin="round" />
<polyline points="127.92,49.28 128.17,50.87 128.42,50.99 128.67,50.99 128.92,49.21 129.17,51.05 129.42,53.75 129.67,53.95 129.92,55.95 130.17,59.78 130.42,62.91 130.67,62.71 130.92,63.89 131.17,67.77 131.42,71.03 131.67,74.81 131.92,78.55 132.17,80.85 132.42,83.43 132.67,87.49 132.92,84.52 133.17,83.34 133.42,80.68 133.67,81.96 133.92,78.1 134.17,74.48 134.42,72.38 134.67,71.04 134.92,67.97 135.17,67.06 135.42,65.28 135.67,65.17 135.92,62.17 136.17,60.17 136.42,58.04 136.67,56.68 136.92,56.33 137.17,54.8 137.42,54.85 137.67,51.88 137.92,52.49 138.17,50.78 138.42,50 138.67,47.99 138.92,48.71 139.17,50.74" fill="none" stroke="#888888" stroke-width="1.45" stroke-linejoin="round" />
<polyline points="127.87,50.76 128.12,49.59 128.37,49.63 128.62,49.34 128.87,50.97 129.12,51.43 129.37,52.43 129.62,54.19 129.87,57.12 130.12,59.1 130.37,60.29 130.62,65.31 130.87,66.43 131.12,68.86 131.37,73.09 131.62,75.49 131.87,77.31 132.12,80.93 132.37,82.4 132.62,84.89 132.87,81.2 133.12,82.64 133.37,77.51 133.62,78.12 133.87,74.66 134.12,72.6 134.37,71.51 134.62,70.13 134.87,68.67 135.12,68.07 135.37,64.94 135.62,63.79 135.87,60.69 136.12,60.43 136.37,58.35 136.62,56.29 136.87,55.27 137.12,54 137.37,53.04 137.62,52.14 137.87,50.28 138.12,49.33 138.37,50.75 138.62,48.3 138.87,49.38 139.12,51.55" fill="none" stroke="#888888" stroke-width="1.45" stroke-linejoin="round" />
<polyline points="132.33,49.31 132.58,50.69 132.83,48.35 133.08,52.6 133.33,47.41 133.58,52.59 133.83,54.4 134.08,55.74 134.33,56.78 134.58,59.72 134.83,60.97 135.08,65.31 135.33,66.13 135.58,69.83 135.83,74.05 136.08,74.98 136.33,78.86 136.58,82.59 136.83,84.36 137.08,90.22 137.33,91.2 137.58,87.11 137.83,86.37 138.08,83.46 138.33,81.43 138.58,80.05 138.83,77.19 139.08,76.82 139.33,73.14 139.58,72.86 139.83,69.9 140.08,68.91 140.33,65.67 140.58,63.91 140.83,61.52 141.08,61.56 141.33,60.29 141.58,59.9 141.83,57.57 142.08,55.11 142.33,53.32 142.58,52.69 142.83,51.19 143.08,51.8 143.33,50.94 143.58,49.16 143.83,49.31 144.08,51.37" fill="none" stroke="#888888" stroke-width="1.45" stroke-linejoin="round" />
<polyline points="133.16,51.19 133.41,49.61 133.66,49.72 133.91,49.54 134.16,48.04 134.41,51.92 134.66,51.39 134.91,53.83 135.16,55.65 135.41,59.27 135.66,60.76 135.91,63.25 136.16,64.07 136.41,68.26 136.66,69.57 136.91,74.13 137.16,77.04 137.41,79.58 137.66,84.63 137.91,83.48 138.16,81.56 138.41,79.14 138.66,76.87 138.91,76.13 139.16,74.39 139.41,70.16 139.66,70.71 139.91,68.41 140.16,67.13 140.41,64.96 140.66,61.61 140.91,60.09 141.16,61.54 141.41,58.49 141.66,55.39 141.91,55.79 142.16,53.8 142.41,51.12 142.66,49.57 142.91,49.3 143.16,50.43 143.41,49.95 143.66,49.75 143.91,50.28 144.16,50.6" fill="none" stroke="#888888" stroke-width="1.45" stroke-linejoin="round" />
<polyline points="141.01,49.7 141.26,49.17 141.51,48.77 141.76,49.45 142.01,49.88 142.26,50.76 142.51,51.08 142.76,53.82 143.01,58.27 143.26,57.3 143.51,58.9 143.76,63.21 144.01,65.99 144.26,68.4 144.51,69.45 144.76,74.28 145.01,75.29 145.26,77.8 145.51,81.25 145.76,80.86 146.01,79.75 146.26,77.76 146.51,75.24 146.76,74.35 147.01,71.69 147.26,70.73 147.51,66.69 147.76,64.82 148.01,65.51 148.26,61.73 148.51,61.24 148.76,59.92 149.01,58.06 149.26,56.68 149.51,57.17 149.76,51.96 150.01,54.17 150.26,54.47 150.51,51.21 150.76,50.35 151.01,50.73 151.26,51.83 151.51,48.81 151.76,50.09" fill="none" stroke="#888888" stroke-width="1.45" stroke-linejoin="round" />
<polyline points="141.34,50.16 141.59,50.66 141.84,49.58 142.09,50.05 142.34,49.33 142.59,50.08 142.84,51.69 143.09,52.97 143.34,53.34 143.59,57.61 143.84,57.52 144.09,57.96 144.34,62.22 144.59,62.21 144.84,65.37 145.09,66.81 145.34,68.78 145.59,67.35 145.84,65.28 146.09,64.59 146.34,65.31 146.59,59.79 146.84,60.88 147.09,60.06 147.34,57.42 147.59,55.98 147.84,58.43 148.09,54.86 148.34,56.31 148.59,53.83 148.84,52.49 149.09,52.07 149.34,51.51 149.59,51.45 149.84,50.44 150.09,50.14 150.34,50.18 150.59,51.35" fill="none" stroke="#888888" stroke-width="1.45" stroke-linejoin="round" />
<polyline points="150.72,49 150.97,49.36 151.22,50.33 151.47,49.38 151.72,49.62 151.97,50.41 152.22,53.11 152.47,56.14 152.72,59.3 152.97,61.11 153.22,66.14 153.47,67.11 153.72,73.64 153.97,74.83 154.22,77.82 154.47,80.43 154.72,81.81 154.97,88.28 155.22,92.5 155.47,98.21 155.72,98.96 155.97,106.37 156.22,108.42 156.47,113.67 156.72,114.74 156.97,114.95 157.22,111.65 157.47,109.9 157.72,106.56 157.97,102.61 158.22,102.01 158.47,99.1 158.72,96.38 158.97,94.21 159.22,91.75 159.47,88.11 159.72,84.3 159.97,81.83 160.22,82.17 160.47,79.17 160.72,76.25 160.97,73.45 161.22,71.7 161.47,69.52 161.72,67.05 161.97,64.63 162.22,65.51 162.47,61.64 162.72,58.96 162.97,56.49 163.22,55.38 163.47,55.24 163.72,53.82 163.97,51.53 164.22,50.69 164.47,49.69 164.72,48.89 164.97,51.3 165.22,50.37" fill="none" stroke="#888888" stroke-width="1.45" stroke-linejoin="round" />
<polyline points="150.54,49.24 150.79,49.86 151.04,50.88 151.29,49.75 151.54,48.61 151.79,50.33 152.04,53.24 152.29,55.66 152.54,57.63 152.79,61.33 153.04,64.09 153.29,66.32 153.54,69.06 153.79,71.93 154.04,75.99 154.29,79.71 154.54,82.3 154.79,86.23 155.04,89.07 155.29,91.68 155.54,95.86 155.79,101.47 156.04,103.22 156.29,101.82 156.54,97.76 156.79,96.09 157.04,94.09 157.29,91.34 157.54,87.34 157.79,85.41 158.04,83.4 158.29,80 158.54,79.22 158.79,77.56 159.04,73.89 159.29,74.22 159.54,69.88 159.79,67.95 160.04,65.93 160.29,63.54 160.54,62.8 160.79,60.61 161.04,60.51 161.29,57.8 161.54,56.16 161.79,53.92 162.04,51.37 162.29,51.47 162.54,49.68 162.79,50.95 163.04,49.97 163.29,51.67 163.54,50.74" fill="none" stroke="#888888" stroke-width="1.45" stroke-linejoin="round" />
<polyline points="150.15,50.21 150.4,50.65 150.65,50.92 150.9,49.29 151.15,50.49 151.4,53.62 151.65,52.38 151.9,53.92 152.15,55.38 152.4,56.67 152.65,61.47 152.9,62.63 153.15,65.25 153.4,69.27 153.65,72.49 153.9,71.72 154.15,76.38 154.4,78.72 154.65,80.94 154.9,79.14 155.15,76.78 155.4,76.56 155.65,73.79 155.9,71.76 156.15,70.92 156.4,68.88 156.65,66.78 156.9,65.02 157.15,64.87 157.4,62.08 157.65,59.98 157.9,57.77 158.15,56.89 158.4,54.86 158.65,54.75 158.9,53.71 159.15,50.3 159.4,51.38 159.65,51.17 159.9,50.17 160.15,49.05 160.4,51.27 160.65,49.31" fill="none" stroke="#888888" stroke-width="1.45" stroke-linejoin="round" />
<polyline points="156.06,48.92 156.31,49.99 156.56,50.99 156.81,51.17 157.06,50.21 157.31,50.17 157.56,52.69 157.81,54.77 158.06,58.06 158.31,59.23 158.56,64.06 158.81,67.69 159.06,70.13 159.31,74.09 159.56,76.16 159.81,79.22 160.06,83.71 160.31,89.27 160.56,93 160.81,95.45 161.06,101.13 161.31,103.69 161.56,109.7 161.81,112.91 162.06,114.25 162.31,112.71 162.56,108.38 162.81,105.48 163.06,102.26 163.31,101.3 163.56,98.35 163.81,95.72 164.06,92.81 164.31,92.12 164.56,87.76 164.81,84.99 165.06,84.54 165.31,82.33 165.56,78.9 165.81,74.52 166.06,73.4 166.31,72.41 166.56,69.66 166.81,69.09 167.06,64.12 167.31,64.18 167.56,60.96 167.81,61.06 168.06,57.89 168.31,57.31 168.56,54.04 168.81,51.81 169.06,50.78 169.31,50.15 169.56,48.98 169.81,51.2 170.06,51.34 170.31,50.27" fill="none" stroke="#888888" stroke-width="1.45" stroke-linejoin="round" />
<polyline points="156.39,49.88 156.64,49.31 156.89,51.45 157.14,50.32 157.39,50.49 157.64,50.82 157.89,50.99 158.14,54.32 158.39,56.28 158.64,60.26 158.89,62.63 159.14,64.52 159.39,67.83 159.64,72.8 159.89,73.4 160.14,76.65 160.39,80.64 160.64,83.56 160.89,87.29 161.14,91.79 161.39,96.6 161.64,95.03 161.89,94.39 162.14,92.08 162.39,89.61 162.64,87.2 162.89,84.77 163.14,83.87 163.39,80.19 163.64,78.35 163.89,76.35 164.14,74.36 164.39,72.02 164.64,71.18 164.89,68.21 165.14,66.47 165.39,64.38 165.64,61.61 165.89,60.03 166.14,58.12 166.39,57.74 166.64,55.28 166.89,53.48 167.14,53.42 167.39,52.47 167.64,49.12 167.89,51.77 168.14,50.03 168.39,49.89 168.64,51.07 168.89,50.07" fill="none" stroke="#888888" stroke-width="1.45" stroke-linejoin="round" />
<polyline points="155.48,48.93 155.73,49.9 155.98,50.85 156.23,48.93 156.48,49.9 156.73,51.42 156.98,54.95 157.23,53.42 157.48,56.22 157.73,59.04 157.98,60.71 158.23,61.78 158.48,65.85 158.73,68.11 158.98,71.09 159.23,74.5 159.48,77.18 159.73,79.44 159.98,82.28 160.23,80.16 160.48,79.18 160.73,77.63 160.98,75.12 161.23,73.77 161.48,71.03 161.73,71.61 161.98,70.48 162.23,66.23 162.48,65.35 162.73,63.08 162.98,63 163.23,60.63 163.48,58.79 163.73,57.07 163.98,56.05 164.23,53.63 164.48,54.09 164.73,51.57 164.98,51.82 165.23,50.57 165.48,51.09 165.73,49.98 165.98,51.02 166.23,49.08" fill="none" stroke="#888888" stroke-width="1.45" stroke-linejoin="round" />
<polyline points="167.85,49.78 168.1,50.19 168.35,50.07 168.6,50.94 168.85,47.98 169.1,50.78 169.35,49.62 169.6,53.1 169.85,50.78 170.1,52.67 170.35,52.98 170.6,57.33 170.85,55.48 171.1,58 171.35,58.51 171.6,57.21 171.85,57.88 172.1,58.11 172.35,56.51 172.6,56.9 172.85,54.89 173.1,54.57 173.35,53.51 173.6,53.59 173.85,54.53 174.1,52.41 174.35,51.7 174.6,50.38 174.85,49.8 175.1,51.64 175.35,48.89 175.6,49.09 175.85,49.9 176.1,49.57" fill="none" stroke="#888888" stroke-width="1.45" stroke-linejoin="round" />
<polyline points="169.26,50.36 169.51,50.71 169.76,48.88 170.01,49.36 170.26,50.43 170.51,51.9 170.76,49.75 171.01,49.55 171.26,52.62 171.51,53.72 171.76,52.45 172.01,51.19 172.26,55.51 172.51,54.53 172.76,56.15 173.01,54.51 173.26,53.73 173.51,53.21 173.76,54.7 174.01,54.24 174.26,50.26 174.51,51.08 174.76,53.42 175.01,50.92 175.26,49.59 175.51,50.65 175.76,50.26 176.01,50.04 176.26,49.52 176.51,49.69 176.76,49.54 177.01,50.33" fill="none" stroke="#888888" stroke-width="1.45" stroke-linejoin="round" />
<polyline points="184.79,49.71 185.04,49.86 185.29,51.31 185.54,50.37 185.79,49.89 186.04,51.96 186.29,53.92 186.54,57.03 186.79,59.15 187.04,63.34 187.29,65.98 187.54,67.85 187.79,70.86 188.04,75.68 188.29,78.96 188.54,82.1 188.79,84.57 189.04,88.17 189.29,94.39 189.54,98.95 189.79,103.2 190.04,105.4 190.29,112.1 190.54,114.98 190.79,120.42 191.04,125.03 191.29,128.46 191.54,126.03 191.79,121.55 192.04,119.74 192.29,115.91 192.54,115.23 192.79,111.97 193.04,109.97 193.29,106.59 193.54,102.81 193.79,101.03 194.04,97.57 194.29,95.89 194.54,92.94 194.79,89.02 195.04,87.44 195.29,84.96 195.54,82.1 195.79,80.86 196.04,79.27 196.29,74.83 196.54,72.54 196.79,68.39 197.04,68.31 197.29,65.87 197.54,62.06 197.79,62.51 198.04,60.87 198.29,57.69 198.54,56.29 198.79,54.04 199.04,54.22 199.29,50.55 199.54,50.55 199.79,51.97 200.04,50.05 200.29,50.47 200.54,49.85 200.79,48.83" fill="none" stroke="#888888" stroke-width="1.45" stroke-linejoin="round" />
<polyline points="187.29,48.98 187.54,50.34 187.79,51.24 188.04,51.07 188.29,48.42 188.54,50.18 188.79,51.22 189.04,55.87 189.29,57.59 189.54,60.03 189.79,60.95 190.04,63.28 190.29,67.27 190.54,70.13 190.79,72.12 191.04,76.15 191.29,79.76 191.54,82.54 191.79,84.54 192.04,86.81 192.29,90.14 192.54,88.33 192.79,85.71 193.04,83.38 193.29,80.98 193.54,80.28 193.79,77.45 194.04,75.59 194.29,72.5 194.54,70.89 194.79,69.76 195.04,66.72 195.29,64.63 195.54,63.78 195.79,63.58 196.04,60.89 196.29,60.54 196.54,57.4 196.79,55.73 197.04,53.25 197.29,52.75 197.54,53.56 197.79,51.4 198.04,50.96 198.29,50.71 198.54,49.99 198.79,49.8 199.04,50.12" fill="none" stroke="#888888" stroke-width="1.45" stroke-linejoin="round" />
<polyline points="189.57,50.46 189.82,50.49 190.07,50.15 190.32,49.23 190.57,49.74 190.82,50.38 191.07,54.26 191.32,53.4 191.57,57.79 191.82,63.08 192.07,63.22 192.32,65.43 192.57,69.69 192.82,74.26 193.07,76.18 193.32,80.43 193.57,83.49 193.82,86.67 194.07,93.94 194.32,94.69 194.57,97.99 194.82,102.02 195.07,106.94 195.32,109.15 195.57,106.83 195.82,103.56 196.07,99.37 196.32,98.74 196.57,95.35 196.82,92.85 197.07,89.16 197.32,87.62 197.57,85.05 197.82,83.36 198.07,79.6 198.32,78.8 198.57,76.61 198.82,73.15 199.07,71.48 199.32,69.12 199.57,68.82 199.82,63.36 200.07,63.59 200.32,60.37 200.57,59.77 200.82,59.29 201.07,56.13 201.32,55.32 201.57,52.85 201.82,54.29 202.07,52.07 202.32,51.35 202.57,48.67 202.82,48.9 203.07,51.08 203.32,49.81" fill="none" stroke="#888888" stroke-width="1.45" stroke-linejoin="round" />
<polyline points="191.11,48.74 191.36,50.77 191.61,50.02 191.86,50.48 192.11,49.33 192.36,51.48 192.61,51.68 192.86,55 193.11,57.01 193.36,58.77 193.61,60.48 193.86,62.81 194.11,61.77 194.36,67.71 194.61,69.08 194.86,72 195.11,74.25 195.36,75.83 195.61,77.68 195.86,77.07 196.11,76.05 196.36,72.26 196.61,70.26 196.86,70.92 197.11,66.93 197.36,68.27 197.61,64.66 197.86,62.18 198.11,62.54 198.36,61.79 198.61,57.25 198.86,58.88 199.11,55.73 199.36,56.26 199.61,53.22 199.86,50.93 200.11,52.02 200.36,51.59 200.61,52.14 200.86,51.72 201.11,50.7 201.36,49.76 201.61,49.48" fill="none" stroke="#888888" stroke-width="1.45" stroke-linejoin="round" />
<polyline points="191.73,49.17 191.98,49.73 192.23,47.46 192.48,50.18 192.73,49.97 192.98,53.96 193.23,54.18 193.48,55.32 193.73,58.99 193.98,60.04 194.23,63.68 194.48,65.58 194.73,72.19 194.98,74.78 195.23,76.56 195.48,81.34 195.73,86.11 195.98,89.51 196.23,93.34 196.48,96.13 196.73,100.47 196.98,105.39 197.23,110.48 197.48,113.07 197.73,117.18 197.98,121.82 198.23,116.85 198.48,115.99 198.73,112.32 198.98,110.15 199.23,108.23 199.48,104.43 199.73,101.8 199.98,97.43 200.23,95 200.48,93.73 200.73,92.04 200.98,89.36 201.23,87.78 201.48,83.32 201.73,80.79 201.98,79.22 202.23,75.9 202.48,73.54 202.73,70.32 202.98,70.18 203.23,65.99 203.48,65.51 203.73,61.57 203.98,62.16 204.23,58.17 204.48,58.27 204.73,54.16 204.98,53.73 205.23,53.91 205.48,50.64 205.73,50.46 205.98,49.52 206.23,47.69 206.48,50.31 206.73,50.43" fill="none" stroke="#888888" stroke-width="1.45" stroke-linejoin="round" />
<polyline points="194.55,50.57 194.8,49.2 195.05,49 195.3,50.01 195.55,49.32 195.8,53.49 196.05,51.4 196.3,55.75 196.55,58.27 196.8,57.75 197.05,60.6 197.3,65.63 197.55,67.44 197.8,71.27 198.05,75.09 198.3,76.74 198.55,79.29 198.8,80.95 199.05,87.29 199.3,89.64 199.55,94.43 199.8,94.27 200.05,90.32 200.3,91.12 200.55,88.2 200.8,85.71 201.05,81.47 201.3,80.06 201.55,77.78 201.8,75.8 202.05,73.03 202.3,72.55 202.55,70.36 202.8,68.56 203.05,65.79 203.3,65.74 203.55,62.84 203.8,58.18 204.05,58.6 204.3,57.58 204.55,57.07 204.8,54.35 205.05,53.05 205.3,51.41 205.55,51.66 205.8,49.71 206.05,49.4 206.3,49.26 206.55,50.56 206.8,49.47" fill="none" stroke="#888888" stroke-width="1.45" stroke-linejoin="round" />
<polyline points="194.89,49.3 195.14,50.36 195.39,50.37 195.64,51.2 195.89,51.04 196.14,50.66 196.39,52.87 196.64,53.86 196.89,59.16 197.14,60.44 197.39,64.07 197.64,65.17 197.89,66.38 198.14,73 198.39,74.72 198.64,78.01 198.89,81.27 199.14,85.28 199.39,88.67 199.64,90.13 199.89,96.45 200.14,98.24 200.39,95.86 200.64,95.64 200.89,92.45 201.14,88.84 201.39,85 201.64,84.73 201.89,82.85 202.14,80.02 202.39,76.67 202.64,74.98 202.89,72.42 203.14,71.83 203.39,70.42 203.64,68.65 203.89,64.98 204.14,64.08 204.39,62.59 204.64,59.77 204.89,58.45 205.14,59.12 205.39,55.67 205.64,54.91 205.89,52.27 206.14,51.56 206.39,48.81 206.64,49.97 206.89,51.19 207.14,52.1 207.39,51.2" fill="none" stroke="#888888" stroke-width="1.45" stroke-linejoin="round" />
<polyline points="197.93,50.05 198.18,49.4 198.43,49.84 198.68,50.61 198.93,49.21 199.18,52.17 199.43,52.07 199.68,53.39 199.93,56.5 200.18,58.38 200.43,61.36 200.68,66.69 200.93,68.31 201.18,71.79 201.43,75.9 201.68,79.26 201.93,80.85 202.18,86.12 202.43,88.7 202.68,91.91 202.93,96.02 203.18,97.89 203.43,96.38 203.68,94.62 203.93,92.94 204.18,89.58 204.43,87.49 204.68,86.28 204.93,84.45 205.18,81.57 205.43,79.87 205.68,76.04 205.93,74.01 206.18,72.56 206.43,69.9 206.68,67.71 206.93,67.93 207.18,64.19 207.43,61.59 207.68,61.27 207.93,60.91 208.18,57.52 208.43,57.11 208.68,53.98 208.93,52.56 209.18,51.13 209.43,50.62 209.68,51.85 209.93,48.84 210.18,51.64 210.43,48.99 210.68,49.77" fill="none" stroke="#888888" stroke-width="1.45" stroke-linejoin="round" />
<polyline points="198.8,50.28 199.05,48.35 199.3,50.36 199.55,48.98 199.8,52.57 200.05,50.7 200.3,52.44 200.55,52.67 200.8,55.06 201.05,56.12 201.3,60.37 201.55,61.21 201.8,64.21 202.05,65.22 202.3,67.74 202.55,71.93 202.8,72.15 203.05,73.85 203.3,74.93 203.55,71.7 203.8,70.76 204.05,70.49 204.3,67.17 204.55,67.31 204.8,64.23 205.05,64.91 205.3,63.29 205.55,60.08 205.8,58.97 206.05,57.03 206.3,56.79 206.55,56.52 206.8,52.76 207.05,54.04 207.3,50.79 207.55,50.35 207.8,48.66 208.05,52.1 208.3,50.06 208.55,50.24 208.8,49.32" fill="none" stroke="#888888" stroke-width="1.45" stroke-linejoin="round" />
<polyline points="211.19,47.9 211.44,50.03 211.69,52.21 211.94,49.62 212.19,50.02 212.44,51.53 212.69,51.31 212.94,53.62 213.19,56.19 213.44,57.18 213.69,59.22 213.94,60.47 214.19,63.18 214.44,65.05 214.69,68.65 214.94,70.19 215.19,71.55" fill="none" stroke="#888888" stroke-width="1.45" stroke-linejoin="round" />
<polyline points="210.2,50.76 210.45,49.08 210.7,48 210.95,48.86 211.2,50.93 211.45,49.69 211.7,51.41 211.95,53.39 212.2,55.83 212.45,56.13 212.7,57.7 212.95,58.98 213.2,62.96 213.45,64.27 213.7,65.05 213.95,65.75 214.2,68.41 214.45,68.4 214.7,65.74 214.95,66.02 215.2,64.19" fill="none" stroke="#888888" stroke-width="1.45" stroke-linejoin="round" />
<polyline points="106.45,50.65 106.7,50.5 106.95,49.14 107.2,49.67 107.45,52.34 107.7,49.56 107.95,51.41 108.2,54.26 108.45,54.49 108.7,55.4 108.95,56.55 109.2,60.16 109.45,62.47 109.7,64.74 109.95,65.36 110.2,68.37 110.45,68.36 110.7,68.34 110.95,66.12 111.2,65.63 111.45,64.88 111.7,63.91 111.95,60.58 112.2,61.61 112.45,58.67 112.7,56.95 112.95,56.68 113.2,54.3 113.45,54.73 113.7,54.03 113.95,52.6 114.2,52.48 114.45,50.84 114.7,50.49 114.95,48.57 115.2,50.04 115.45,49.15 115.7,49.55 115.95,49.91" fill="none" stroke="#888888" stroke-width="1.45" stroke-linejoin="round" />
<polyline points="107.04,48.44 107.29,49.7 107.54,50.47 107.79,50.36 108.04,50.89 108.29,51.92 108.54,52.03 108.79,52.58 109.04,52.75 109.29,54.11 109.54,55.94 109.79,58.09 110.04,59.53 110.29,60.85 110.54,62.29 110.79,64.71 111.04,63.74 111.29,62.73 111.54,61.67 111.79,59.76 112.04,58.24 112.29,58.76 112.54,57.71 112.79,56.13 113.04,55.01 113.29,56.83 113.54,52.95 113.79,52.69 114.04,52.42 114.29,50.3 114.54,50.95 114.79,52.1 115.04,50.93 115.29,50.63 115.54,50.59 115.79,50.11" fill="none" stroke="#888888" stroke-width="1.45" stroke-linejoin="round" />
<polyline points="113.04,49.84 113.29,49.58 113.54,50.1 113.79,50.91 114.04,50.33 114.29,51.33 114.54,49.59 114.79,53.93 115.04,56.32 115.29,56.65 115.54,56.42 115.79,57.39 116.04,60.08 116.29,60.43 116.54,63.82 116.79,64.3 117.04,65.73 117.29,64.97 117.54,60.43 117.79,61.63 118.04,59.55 118.29,57.77 118.54,57.52 118.79,56.91 119.04,57.18 119.29,53.69 119.54,55.35 119.79,55.46 120.04,53.22 120.29,52.41 120.54,51.15 120.79,49.39 121.04,50.62 121.29,50.38 121.54,50.73 121.79,52.57 122.04,50.73" fill="none" stroke="#888888" stroke-width="1.45" stroke-linejoin="round" />
<polyline points="112.35,48.65 112.6,48.86 112.85,49.62 113.1,49.35 113.35,50.69 113.6,50.15 113.85,52.9 114.1,53.49 114.35,53.63 114.6,53.43 114.85,55.45 115.1,56.72 115.35,55.96 115.6,58.54 115.85,60.1 116.1,59.73 116.35,60.27 116.6,59.1 116.85,56.28 117.1,56.47 117.35,54.76 117.6,55.45 117.85,53.31 118.1,54.43 118.35,53.25 118.6,53.22 118.85,51.53 119.1,49.68 119.35,52.43 119.6,50.08 119.85,51.38 120.1,50.43 120.35,50.67 120.6,51.83" fill="none" stroke="#888888" stroke-width="1.45" stroke-linejoin="round" />
<polyline points="79.72,51.4 79.97,48.52 80.22,50.87 80.47,49.76 80.72,49.87 80.97,50.82 81.22,52.36 81.47,55.06 81.72,53.09 81.97,56.66 82.22,57.67 82.47,61.41 82.72,61.76 82.97,64.66 83.22,65.89 83.47,69.1 83.72,71.65 83.97,70.18 84.22,69.14 84.47,66.22 84.72,66.52 84.97,65.67 85.22,62.89 85.47,63.23 85.72,58.73 85.97,57.68 86.22,56.92 86.47,56.63 86.72,55.99 86.97,54.79 87.22,53.76 87.47,53.57 87.72,51.47 87.97,49.86 88.22,49.19 88.47,52.11 88.72,47.65 88.97,49.82 89.22,51.46" fill="none" stroke="#888888" stroke-width="1.45" stroke-linejoin="round" />
<polyline points="79.99,50 80.24,50.86 80.49,51.21 80.74,49.1 80.99,50.76 81.24,50.87 81.49,52.63 81.74,53.97 81.99,53.4 82.24,53.56 82.49,56.74 82.74,59.53 82.99,59.91 83.24,60.98 83.49,64.73 83.74,62.92 83.99,64.23 84.24,61.67 84.49,61.22 84.74,60.22 84.99,60.63 85.24,57.18 85.49,56.62 85.74,54.62 85.99,55.8 86.24,53.98 86.49,54.03 86.74,51.74 86.99,51.72 87.24,52.43 87.49,50.6 87.74,50.89 87.99,50.53 88.24,49.65 88.49,48.44 88.74,50.99" fill="none" stroke="#888888" stroke-width="1.45" stroke-linejoin="round" />
<polyline points="58.86,50.98 59.11,47.99 59.36,48.35 59.61,47.86 59.86,49.12 60.11,51.5 60.36,51.68 60.61,51.86 60.86,52.88 61.11,54.43 61.36,54.35 61.61,56.09 61.86,56.91 62.11,55.7 62.36,58.66 62.61,60.37 62.86,57.82 63.11,57.31 63.36,56.09 63.61,55.48 63.86,56.37 64.11,54.29 64.36,52.87 64.61,50.14 64.86,52.06 65.11,50.08 65.36,49.68 65.61,51.8 65.86,51.26 66.11,48.26 66.36,50.85 66.61,50.46 66.86,49.22 67.11,50.73" fill="none" stroke="#888888" stroke-width="1.45" stroke-linejoin="round" />
<polyline points="59.67,48.56 59.92,48.89 60.17,50.88 60.42,48.67 60.67,48.85 60.92,49.42 61.17,51.12 61.42,51.22 61.67,53.13 61.92,52.32 62.17,52.55 62.42,54.19 62.67,55.62 62.92,55.57 63.17,57.73 63.42,58.7 63.67,55.66 63.92,55.66 64.17,56.36 64.42,53.77 64.67,52.99 64.92,52.19 65.17,53.15 65.42,52.75 65.67,51.6 65.92,51.33 66.17,52.14 66.42,51.35 66.67,48.76 66.92,49.97 67.17,50.08 67.42,50.7 67.67,49.75" fill="none" stroke="#888888" stroke-width="1.45" stroke-linejoin="round" />
<polyline points="176.97,49.52 177.22,48.2 177.47,49.95 177.72,49.38 177.97,50.44 178.22,49.47 178.47,50.83 178.72,51.19 178.97,52.1 179.22,54.94 179.47,54.91 179.72,57.02 179.97,56.71 180.22,59.23 180.47,58.79 180.72,60.72 180.97,59.77 181.22,59.94 181.47,58.65 181.72,57.42 181.97,57.59 182.22,56.12 182.47,55.67 182.72,55.13 182.97,53.56 183.22,52.62 183.47,52.57 183.72,51.2 183.97,51.43 184.22,51.64 184.47,50.97 184.72,49.57 184.97,48.67 185.22,49.9 185.47,49.83" fill="none" stroke="#888888" stroke-width="1.45" stroke-linejoin="round" />
<polyline points="178,51.06 178.25,49.57 178.5,49.75 178.75,50.69 179,49.48 179.25,50.18 179.5,52.6 179.75,53.03 180,52.9 180.25,53.31 180.5,52.9 180.75,55.3 181,55.71 181.25,56.81 181.5,57.05 181.75,57.02 182,56.2 182.25,56.06 182.5,56.55 182.75,54.88 183,52.27 183.25,52.39 183.5,51.23 183.75,51.5 184,52.35 184.25,51.72 184.5,50.29 184.75,50.76 185,49.41 185.25,48.53 185.5,48.55 185.75,49.09 186,51.37" fill="none" stroke="#888888" stroke-width="1.45" stroke-linejoin="round" />
<polyline points="203.84,51.19 204.09,51.28 204.34,49.77 204.59,49.9 204.84,49.34 205.09,50.91 205.34,53.02 205.59,54.05 205.84,56.89 206.09,59.08 206.34,60.36 206.59,62.58 206.84,64.52 207.09,67.35 207.34,68.4 207.59,72.49 207.84,74.95 208.09,76.6 208.34,81.07 208.59,76.12 208.84,74.42 209.09,73.78 209.34,69.83 209.59,69.26 209.84,66.84 210.09,65.75 210.34,64.97 210.59,63.85 210.84,63.1 211.09,61.32 211.34,60.26 211.59,58.27 211.84,55.88 212.09,56.19 212.34,53.39 212.59,52.14 212.84,53.25 213.09,51.61 213.34,50.33 213.59,50.7 213.84,50.82 214.09,48.58 214.34,49.85" fill="none" stroke="#888888" stroke-width="1.45" stroke-linejoin="round" />
<polyline points="202.98,48.77 203.23,50.07 203.48,49.27 203.73,51.3 203.98,50.46 204.23,50.02 204.48,52.1 204.73,52.42 204.98,55.34 205.23,57.64 205.48,59.27 205.73,59.09 205.98,62.78 206.23,65.81 206.48,67.86 206.73,71.03 206.98,70.98 207.23,74.73 207.48,71.92 207.73,71.17 207.98,69.8 208.23,68.54 208.48,65.76 208.73,65.03 208.98,62.23 209.23,60.57 209.48,61.16 209.73,59.21 209.98,56.35 210.23,55.87 210.48,55.54 210.73,55.94 210.98,54.35 211.23,53.1 211.48,49.61 211.73,50.5 211.98,50.48 212.23,50.34 212.48,50.36 212.73,49.71 212.98,51.7" fill="none" stroke="#888888" stroke-width="1.45" stroke-linejoin="round" />
<line x1="180.85" y1="50" x2="180.85" y2="62.27" stroke="#8a8a8a" stroke-width="1.0" />
<line x1="44.03" y1="50" x2="44.03" y2="57.08" stroke="#8a8a8a" stroke-width="1.0" />
<line x1="77.25" y1="50" x2="77.25" y2="65.09" stroke="#8a8a8a" stroke-width="1.0" />
<line x1="101.96" y1="50" x2="101.96" y2="61.01" stroke="#8a8a8a" stroke-width="1.0" />
<line x1="199.73" y1="50" x2="199.73" y2="58.16" stroke="#8a8a8a" stroke-width="1.0" />
<line x1="202.91" y1="50" x2="202.91" y2="56.8" stroke="#8a8a8a" stroke-width="1.0" />
<line x1="10.62" y1="50" x2="10.62" y2="54.33" stroke="#8a8a8a" stroke-width="1.0" />
<line x1="150.62" y1="50" x2="150.62" y2="57.96" stroke="#8a8a8a" stroke-width="1.0" />
<line x1="179.71" y1="50" x2="179.71" y2="59.93" stroke="#8a8a8a" stroke-width="1.0" />
<line x1="149.24" y1="50" x2="149.24" y2="57.58" stroke="#8a8a8a" stroke-width="1.0" />
<line x1="128.98" y1="50" x2="128.98" y2="62.07" stroke="#8a8a8a" stroke-width="1.0" />
<line x1="85.62" y1="50" x2="85.62" y2="59.38" stroke="#8a8a8a" stroke-width="1.0" />
<line x1="181.78" y1="50" x2="181.78" y2="65.08" stroke="#8a8a8a" stroke-width="1.0" />
<line x1="80.17" y1="50" x2="80.17" y2="53.87" stroke="#8a8a8a" stroke-width="1.0" />
<line x1="181.48" y1="50" x2="181.48" y2="58.81" stroke="#8a8a8a" stroke-width="1.0" />
<line x1="207.67" y1="50" x2="207.67" y2="62.92" stroke="#8a8a8a" stroke-width="1.0" />
<line x1="83.82" y1="50" x2="83.82" y2="64.05" stroke="#8a8a8a" stroke-width="1.0" />
<line x1="120.85" y1="50" x2="120.85" y2="62.27" stroke="#8a8a8a" stroke-width="1.0" />
<line x1="190.3" y1="50" x2="190.3" y2="60.54" stroke="#8a8a8a" stroke-width="1.0" />
<line x1="203.16" y1="50" x2="203.16" y2="58.18" stroke="#8a8a8a" stroke-width="1.0" />
<line x1="86.02" y1="50" x2="86.02" y2="61.32" stroke="#8a8a8a" stroke-width="1.0" />
<line x1="91.42" y1="50" x2="91.42" y2="62.2" stroke="#8a8a8a" stroke-width="1.0" />
<line x1="117.44" y1="50" x2="117.44" y2="62.65" stroke="#8a8a8a" stroke-width="1.0" />
<line x1="178.11" y1="50" x2="178.11" y2="60.38" stroke="#8a8a8a" stroke-width="1.0" />
<line x1="196.37" y1="50" x2="196.37" y2="63.15" stroke="#8a8a8a" stroke-width="1.0" />
<line x1="184.55" y1="50" x2="184.55" y2="53.25" stroke="#8a8a8a" stroke-width="1.0" />
<line x1="11.18" y1="50" x2="11.18" y2="61.25" stroke="#8a8a8a" stroke-width="1.0" />
<line x1="76.59" y1="50" x2="76.59" y2="64.35" stroke="#8a8a8a" stroke-width="1.0" />
<line x1="88.7" y1="50" x2="88.7" y2="62.67" stroke="#8a8a8a" stroke-width="1.0" />
<line x1="58.69" y1="50" x2="58.69" y2="61.18" stroke="#8a8a8a" stroke-width="1.0" />
<line x1="193.53" y1="50" x2="193.53" y2="64.21" stroke="#8a8a8a" stroke-width="1.0" />
<line x1="83.49" y1="50" x2="83.49" y2="59.26" stroke="#8a8a8a" stroke-width="1.0" />
<line x1="118.29" y1="50" x2="118.29" y2="57.48" stroke="#8a8a8a" stroke-width="1.0" />
<line x1="107.69" y1="50" x2="107.69" y2="65.54" stroke="#8a8a8a" stroke-width="1.0" />
<line x1="189.24" y1="50" x2="189.24" y2="57.09" stroke="#8a8a8a" stroke-width="1.0" />
<line x1="148.89" y1="50" x2="148.89" y2="65.33" stroke="#8a8a8a" stroke-width="1.0" />
<line x1="82.6" y1="50" x2="82.6" y2="64.03" stroke="#8a8a8a" stroke-width="1.0" />
<line x1="172.26" y1="50" x2="172.26" y2="64.53" stroke="#8a8a8a" stroke-width="1.0" />
<line x1="25.38" y1="50" x2="25.38" y2="65" stroke="#8a8a8a" stroke-width="1.0" />
<line x1="210.09" y1="50" x2="210.09" y2="56.14" stroke="#8a8a8a" stroke-width="1.0" />
<line x1="138.41" y1="50" x2="138.41" y2="54.17" stroke="#8a8a8a" stroke-width="1.0" />
<line x1="132.08" y1="50" x2="132.08" y2="62.21" stroke="#8a8a8a" stroke-width="1.0" />
<line x1="161.59" y1="50" x2="161.59" y2="64.14" stroke="#8a8a8a" stroke-width="1.0" />
<line x1="68.45" y1="50" x2="68.45" y2="54.51" stroke="#8a8a8a" stroke-width="1.0" />
<line x1="176.3" y1="50" x2="176.3" y2="53.33" stroke="#8a8a8a" stroke-width="1.0" />
<line x1="56.02" y1="50" x2="56.02" y2="56.08" stroke="#8a8a8a" stroke-width="1.0" />
<line x1="167.68" y1="50" x2="167.68" y2="58.75" stroke="#8a8a8a" stroke-width="1.0" />
<line x1="180.58" y1="50" x2="180.58" y2="61.68" stroke="#8a8a8a" stroke-width="1.0" />
<line x1="181.64" y1="50" x2="181.64" y2="63.22" stroke="#8a8a8a" stroke-width="1.0" />
<line x1="189.29" y1="50" x2="189.29" y2="56.59" stroke="#8a8a8a" stroke-width="1.0" />
<line x1="81.22" y1="50" x2="81.22" y2="61.17" stroke="#8a8a8a" stroke-width="1.0" />
<line x1="128.08" y1="50" x2="128.08" y2="63.11" stroke="#8a8a8a" stroke-width="1.0" />
<line x1="174.57" y1="50" x2="174.57" y2="56.96" stroke="#8a8a8a" stroke-width="1.0" />
<line x1="32.92" y1="50" x2="32.92" y2="62.64" stroke="#8a8a8a" stroke-width="1.0" />
<line x1="149.56" y1="50" x2="149.56" y2="56.6" stroke="#8a8a8a" stroke-width="1.0" />
<line x1="19.73" y1="50" x2="19.73" y2="53.3" stroke="#8a8a8a" stroke-width="1.0" />
<line x1="59.14" y1="50" x2="59.14" y2="56.56" stroke="#8a8a8a" stroke-width="1.0" />
<line x1="50.72" y1="50" x2="50.72" y2="53.66" stroke="#8a8a8a" stroke-width="1.0" />
<line x1="43.1" y1="50" x2="43.1" y2="57.55" stroke="#8a8a8a" stroke-width="1.0" />
<line x1="27.01" y1="50" x2="27.01" y2="55.69" stroke="#8a8a8a" stroke-width="1.0" />
<line x1="98.24" y1="50" x2="98.24" y2="64.03" stroke="#8a8a8a" stroke-width="1.0" />
<line x1="187.54" y1="50" x2="187.54" y2="58.27" stroke="#8a8a8a" stroke-width="1.0" />
<line x1="33.94" y1="50" x2="33.94" y2="56.5" stroke="#8a8a8a" stroke-width="1.0" />
<line x1="147.01" y1="50" x2="147.01" y2="58.3" stroke="#8a8a8a" stroke-width="1.0" />
<line x1="125.49" y1="50" x2="125.49" y2="62.58" stroke="#8a8a8a" stroke-width="1.0" />
<line x1="143.71" y1="50" x2="143.71" y2="64.17" stroke="#8a8a8a" stroke-width="1.0" />
<line x1="25.64" y1="50" x2="25.64" y2="56.86" stroke="#8a8a8a" stroke-width="1.0" />
<line x1="15.02" y1="50" x2="15.02" y2="59.77" stroke="#8a8a8a" stroke-width="1.0" />
<line x1="134.63" y1="50" x2="134.63" y2="56.3" stroke="#8a8a8a" stroke-width="1.0" />
<line x1="19.43" y1="50" x2="19.43" y2="59.03" stroke="#8a8a8a" stroke-width="1.0" />
<line x1="42.55" y1="50" x2="42.55" y2="55.53" stroke="#8a8a8a" stroke-width="1.0" />
<line x1="86.55" y1="50" x2="86.55" y2="65.29" stroke="#8a8a8a" stroke-width="1.0" />
<line x1="82.17" y1="50" x2="82.17" y2="62.22" stroke="#8a8a8a" stroke-width="1.0" />
<line x1="84.73" y1="50" x2="84.73" y2="58.27" stroke="#8a8a8a" stroke-width="1.0" />
<line x1="36.86" y1="50" x2="36.86" y2="55.4" stroke="#8a8a8a" stroke-width="1.0" />
<line x1="166.75" y1="50" x2="166.75" y2="58.58" stroke="#8a8a8a" stroke-width="1.0" />
<line x1="66.77" y1="50" x2="66.77" y2="65.83" stroke="#8a8a8a" stroke-width="1.0" />
<line x1="188.9" y1="50" x2="188.9" y2="56.44" stroke="#8a8a8a" stroke-width="1.0" />
<line x1="97.46" y1="50" x2="97.46" y2="60.37" stroke="#8a8a8a" stroke-width="1.0" />
<line x1="42.23" y1="50" x2="42.23" y2="58.55" stroke="#8a8a8a" stroke-width="1.0" />
<line x1="66.51" y1="50" x2="66.51" y2="63.53" stroke="#8a8a8a" stroke-width="1.0" />
<line x1="27.48" y1="50" x2="27.48" y2="65.89" stroke="#8a8a8a" stroke-width="1.0" />
<line x1="56.52" y1="50" x2="56.52" y2="57.3" stroke="#8a8a8a" stroke-width="1.0" />
<line x1="23.58" y1="50" x2="23.58" y2="64.87" stroke="#8a8a8a" stroke-width="1.0" />
<line x1="178.59" y1="50" x2="178.59" y2="53.88" stroke="#8a8a8a" stroke-width="1.0" />
<line x1="116.8" y1="50" x2="116.8" y2="58.08" stroke="#8a8a8a" stroke-width="1.0" />
<line x1="132.85" y1="50" x2="132.85" y2="57.37" stroke="#8a8a8a" stroke-width="1.0" />
<line x1="204.99" y1="50" x2="204.99" y2="55.83" stroke="#8a8a8a" stroke-width="1.0" />
<line x1="176.96" y1="50" x2="176.96" y2="56.48" stroke="#8a8a8a" stroke-width="1.0" />
<line x1="141.79" y1="50" x2="141.79" y2="58.56" stroke="#8a8a8a" stroke-width="1.0" />
<line x1="116.33" y1="50" x2="116.33" y2="59.79" stroke="#8a8a8a" stroke-width="1.0" />
<line x1="136.95" y1="50" x2="136.95" y2="53.88" stroke="#8a8a8a" stroke-width="1.0" />
<line x1="20.25" y1="50" x2="20.25" y2="65.62" stroke="#8a8a8a" stroke-width="1.0" />
<line x1="60.13" y1="50" x2="60.13" y2="57.64" stroke="#8a8a8a" stroke-width="1.0" />
<line x1="57.38" y1="50" x2="57.38" y2="61.39" stroke="#8a8a8a" stroke-width="1.0" />
<line x1="210.69" y1="50" x2="210.69" y2="58.24" stroke="#8a8a8a" stroke-width="1.0" />
<line x1="74.19" y1="50" x2="74.19" y2="57.54" stroke="#8a8a8a" stroke-width="1.0" />
<line x1="13.58" y1="50" x2="13.58" y2="54.17" stroke="#8a8a8a" stroke-width="1.0" />
<line x1="17.9" y1="50" x2="17.9" y2="57.21" stroke="#8a8a8a" stroke-width="1.0" />
<line x1="210.78" y1="50" x2="210.78" y2="54.84" stroke="#8a8a8a" stroke-width="1.0" />
<line x1="121.07" y1="50" x2="121.07" y2="55.69" stroke="#8a8a8a" stroke-width="1.0" />
<line x1="15.58" y1="50" x2="15.58" y2="63.88" stroke="#8a8a8a" stroke-width="1.0" />
<line x1="34.21" y1="50" x2="34.21" y2="54.76" stroke="#8a8a8a" stroke-width="1.0" />
<line x1="176.35" y1="50" x2="176.35" y2="56.17" stroke="#8a8a8a" stroke-width="1.0" />
<line x1="48.98" y1="50" x2="48.98" y2="65.26" stroke="#8a8a8a" stroke-width="1.0" />
<line x1="48.03" y1="50" x2="48.03" y2="63.81" stroke="#8a8a8a" stroke-width="1.0" />
<line x1="71.19" y1="50" x2="71.19" y2="60.35" stroke="#8a8a8a" stroke-width="1.0" />
<line x1="72.07" y1="50" x2="72.07" y2="57.41" stroke="#8a8a8a" stroke-width="1.0" />
<line x1="200.05" y1="50" x2="200.05" y2="64.8" stroke="#8a8a8a" stroke-width="1.0" />
<line x1="44.02" y1="50" x2="44.02" y2="62.42" stroke="#8a8a8a" stroke-width="1.0" />
<line x1="36.75" y1="50" x2="36.75" y2="56.89" stroke="#8a8a8a" stroke-width="1.0" />
<line x1="22.59" y1="50" x2="22.59" y2="61.42" stroke="#8a8a8a" stroke-width="1.0" />
<line x1="157.66" y1="50" x2="157.66" y2="62.7" stroke="#8a8a8a" stroke-width="1.0" />
<line x1="167.52" y1="50" x2="167.52" y2="58.13" stroke="#8a8a8a" stroke-width="1.0" />
<line x1="44.5" y1="50" x2="44.5" y2="53.06" stroke="#8a8a8a" stroke-width="1.0" />
<line x1="98.69" y1="50" x2="98.69" y2="65.13" stroke="#8a8a8a" stroke-width="1.0" />
<line x1="100.44" y1="50" x2="100.44" y2="61.01" stroke="#8a8a8a" stroke-width="1.0" />
<line x1="196.85" y1="50" x2="196.85" y2="64.21" stroke="#8a8a8a" stroke-width="1.0" />
<line x1="160.4" y1="50" x2="160.4" y2="60.7" stroke="#8a8a8a" stroke-width="1.0" />
<line x1="55.75" y1="50" x2="55.75" y2="62.73" stroke="#8a8a8a" stroke-width="1.0" />
<polygon points="6.8,43.75 7.2,43.44 7.6,43.17 8,43.4 8.4,43.23 8.8,43.25 9.2,43.25 9.6,43.16 10,43.03 10.4,43.6 10.8,43.01 11.2,43.46 11.6,43.29 12,43.52 12.4,43.46 12.8,43.38 13.2,43.62 13.6,43.46 14,43.72 14.4,43.47 14.8,43.7 15.2,43.69 15.6,43.57 16,43.26 16.4,43.39 16.8,43.06 17.2,43.58 17.6,43.52 18,43.65 18.4,43.07 18.8,43.1 19.2,43.52 19.6,43.59 20,43.06 20.4,43.02 20.8,43.26 21.2,43.27 21.6,43.04 22,43.08 22.4,43.16 22.8,43.01 23.2,43.12 23.6,43.02 24,43.3 24.4,43.6 24.8,43.53 25.2,43.48 25.6,43.37 26,43.15 26.4,43.04 26.8,43.15 27.2,43.76 27.6,43.65 28,43.46 28.4,43.49 28.8,43.6 29.2,43.66 29.6,43.19 30,43.64 30.4,43.52 30.8,43.22 31.2,43.23 31.6,43.14 32,43.44 32.4,43.77 32.8,43.63 33.2,43.13 33.6,43.1 34,43.23 34.4,43.13 34.8,43.11 35.2,43.59 35.6,43.25 36,43.45 36.4,43.25 36.8,43.79 37.2,43.47 37.6,43.11 38,43.62 38.4,43.23 38.8,43.36 39.2,43.23 39.6,43.39 40,43.25 40.4,43.26 40.8,43.13 41.2,43.77 41.6,43.17 42,43.23 42.4,43.33 42.8,43.09 43.2,43.18 43.6,43.33 44,43.47 44.4,43.43 44.8,43.29 45.2,43.54 45.6,43.6 46,43.21 46.4,43.19 46.8,43.5 47.2,43.33 47.6,43.66 48,43.01 48.4,43.43 48.8,43.28 49.2,43.17 49.6,43.69 50,43.17 50.4,43.63 50.8,43.68 51.2,43.77 51.6,43.09 52,43.12 52.4,43.07 52.8,43.26 53.2,43.73 53.6,43.51 54,43.12 54.4,43.08 54.8,43.6 55.2,43.5 55.6,43 56,43.47 56.4,43.15 56.8,43.23 57.2,43.08 57.6,43.79 58,43.37 58.4,43.49 58.8,43.16 59.2,43.3 59.6,43.52 60,43.6 60.4,43.73 60.8,43.2 61.2,43.19 61.6,43.32 62,43.25 62.4,43.66 62.8,43.3 63.2,43.3 63.6,43.4 64,43.45 64.4,43.28 64.8,43.01 65.2,43.59 65.6,43.09 66,43.68 66.4,43.2 66.8,43.2 67.2,43.43 67.6,43.73 68,43.3 68.4,43.38 68.8,43.33 69.2,43.09 69.6,43.23 70,43.73 70.4,43.75 70.8,43.2 71.2,43.74 71.6,43.01 72,43.57 72.4,43.02 72.8,43.34 73.2,43.33 73.6,43.35 74,43.75 74.4,43.28 74.8,43.01 75.2,43.09 75.6,43.6 76,43.1 76.4,43.05 76.8,43.16 77.2,43.78 77.6,43.36 78,43.12 78.4,43.53 78.8,43.3 79.2,43.44 79.6,43.8 80,43.56 80.4,43.43 80.8,43.8 81.2,43.4 81.6,43.36 82,43.68 82.4,43.77 82.8,43.58 83.2,43.29 83.6,43.32 84,43.01 84.4,43.19 84.8,43.62 85.2,43.39 85.6,43.69 86,43.54 86.4,43.45 86.8,43.64 87.2,43.4 87.6,43.53 88,43.39 88.4,43.28 88.8,43.61 89.2,43.06 89.6,43.78 90,43.77 90.4,43.66 90.8,43.37 91.2,43.36 91.6,43.32 92,43.37 92.4,43.18 92.8,43.64 93.2,43.7 93.6,43.4 94,43.68 94.4,43.23 94.8,43.69 95.2,43.78 95.6,43.54 96,43.77 96.4,43.58 96.8,43.55 97.2,43.38 97.6,43.05 98,43.1 98.4,43.66 98.8,43.15 99.2,43.55 99.6,43.13 100,43.6 100.4,43.76 100.8,43.49 101.2,43.03 101.6,43.59 102,43.38 102.4,43.69 102.8,43.12 103.2,43.22 103.6,43.74 104,43.67 104.4,43.73 104.8,43.42 105.2,43.54 105.6,43.75 106,43.53 106.4,43.07 106.8,43.12 107.2,43 107.6,43.09 108,43.02 108.4,43.31 108.8,43.49 109.2,43.69 109.6,43.33 110,43.13 110.4,43.73 110.8,43.73 111.2,43.78 111.6,43.02 112,43.47 112.4,43.5 112.8,43.43 113.2,43.15 113.6,43.74 114,43.43 114.4,43.03 114.8,43.28 115.2,43.58 115.6,43.16 116,43.62 116.4,43.17 116.8,43.35 117.2,43.23 117.6,43.1 118,43.71 118.4,43.27 118.8,43.6 119.2,43.71 119.6,43.23 120,43 120.4,43.42 120.8,43.19 121.2,43.7 121.6,43.13 122,43.58 122.4,43.02 122.8,43.22 123.2,43.16 123.6,43.68 124,43.48 124.4,43.53 124.8,43.07 125.2,43.25 125.6,43.71 126,43.49 126.4,43.61 126.8,43.4 127.2,43.16 127.6,43.73 128,43.21 128.4,43.14 128.8,43.52 129.2,43.07 129.6,43.61 130,43.57 130.4,43.31 130.8,43.41 131.2,43.39 131.6,43.06 132,43.06 132.4,43.28 132.8,43.01 133.2,43.15 133.6,43.29 134,43.5 134.4,43.41 134.8,43.14 135.2,43.61 135.6,43.64 136,43.53 136.4,43.55 136.8,43.2 137.2,43.67 137.6,43.47 138,43.14 138.4,43.55 138.8,43.5 139.2,43.45 139.6,43.38 140,43.61 140.4,43.58 140.8,43.47 141.2,43.05 141.6,43.19 142,43.78 142.4,43.32 142.8,43.51 143.2,43.11 143.6,43.46 144,43.49 144.4,43.61 144.8,43.78 145.2,43.36 145.6,43.25 146,43.13 146.4,43.27 146.8,43.35 147.2,43.77 147.6,43.41 148,43.54 148.4,43.59 148.8,43.01 149.2,43.19 149.6,43.43 150,43.05 150.4,43.12 150.8,43.6 151.2,43.54 151.6,43.11 152,43.09 152.4,43.67 152.8,43.38 153.2,43.25 153.6,43.58 154,43.54 154.4,43.8 154.8,43.08 155.2,43.61 155.6,43.37 156,43.2 156.4,43.4 156.8,43.02 157.2,43.1 157.6,43.09 158,43.55 158.4,43.57 158.8,43.2 159.2,43.25 159.6,43.62 160,43.31 160.4,43.28 160.8,43.76 161.2,43.44 161.6,43.43 162,43.49 162.4,43.03 162.8,43.32 163.2,43.63 163.6,43.52 164,43.71 164.4,43.25 164.8,43.38 165.2,43.19 165.6,43.15 166,43.07 166.4,43.16 166.8,43.13 167.2,43.35 167.6,43.33 168,43.61 168.4,43.62 168.8,43.43 169.2,43.53 169.6,43.37 170,43.25 170.4,43.4 170.8,43.5 171.2,43.76 171.6,43.65 172,43.05 172.4,43.51 172.8,43.07 173.2,43.5 173.6,43.68 174,43.56 174.4,43.1 174.8,43.34 175.2,43.16 175.6,43.53 176,43.57 176.4,43.59 176.8,43.29 177.2,43.48 177.6,43.17 178,43.74 178.4,43.75 178.8,43.02 179.2,43.45 179.6,43.57 180,43.18 180.4,43.03 180.8,43 181.2,43.57 181.6,43.01 182,43.31 182.4,43.64 182.8,43.04 183.2,43.57 183.6,43.34 184,43.31 184.4,43.39 184.8,43.28 185.2,43.69 185.6,43.54 186,43.31 186.4,43.1 186.8,43.4 187.2,43.8 187.6,43.71 188,43.05 188.4,43.28 188.8,43.38 189.2,43.32 189.6,43.09 190,43.15 190.4,43.43 190.8,43.58 191.2,43.57 191.6,43.54 192,43.54 192.4,43.01 192.8,43.17 193.2,43.27 193.6,43.2 194,43.31 194.4,43.32 194.8,43.27 195.2,43.01 195.6,43.69 196,43.77 196.4,43.49 196.8,43.22 197.2,43.36 197.6,43.73 198,43.48 198.4,43.56 198.8,43.56 199.2,43.78 199.6,43.52 200,43.09 200.4,43.4 200.8,43.74 201.2,43.1 201.6,43.04 202,43.04 202.4,43.06 202.8,43.13 203.2,43.62 203.6,43.48 204,43.59 204.4,43.45 204.8,43.28 205.2,43.63 205.6,43.14 206,43.29 206.4,43.33 206.8,43.54 207.2,43.61 207.6,43.45 208,43.49 208.4,43.22 208.8,43.47 209.2,43.67 209.6,43.35 210,43.6 210.4,43.41 210.8,43.41 211.2,43.49 211.6,43.11 212,43.17 212.4,43.14 212.8,43.43 213.2,43.54 213.6,43.57 214,43.17 214.4,43.27 214.8,43.12 215.2,43.52 215.2,45.51 214.8,45.41 214.4,45.45 214,45.72 213.6,45.42 213.2,45.97 212.8,45.55 212.4,45.69 212,45.78 211.6,45.55 211.2,45.58 210.8,45.22 210.4,45.82 210,45.32 209.6,45.26 209.2,45.42 208.8,45.45 208.4,45.37 208,45.77 207.6,45.79 207.2,45.45 206.8,45.84 206.4,45.63 206,45.55 205.6,45.62 205.2,45.65 204.8,45.93 204.4,45.84 204,45.43 203.6,45.86 203.2,45.22 202.8,45.51 202.4,45.22 202,45.92 201.6,45.5 201.2,45.73 200.8,45.78 200.4,45.36 200,45.65 199.6,45.45 199.2,45.79 198.8,45.48 198.4,45.69 198,45.27 197.6,45.94 197.2,45.21 196.8,45.47 196.4,45.94 196,45.82 195.6,45.49 195.2,45.61 194.8,45.41 194.4,45.59 194,45.59 193.6,45.71 193.2,45.42 192.8,45.99 192.4,45.4 192,45.31 191.6,45.91 191.2,45.27 190.8,45.63 190.4,45.51 190,45.63 189.6,45.51 189.2,45.58 188.8,45.47 188.4,45.48 188,45.74 187.6,45.36 187.2,45.58 186.8,45.67 186.4,46 186,45.64 185.6,45.88 185.2,45.44 184.8,45.24 184.4,45.72 184,45.21 183.6,45.34 183.2,45.64 182.8,45.7 182.4,45.25 182,45.21 181.6,45.42 181.2,45.97 180.8,45.89 180.4,45.55 180,45.67 179.6,45.85 179.2,45.71 178.8,45.24 178.4,45.46 178,45.55 177.6,45.36 177.2,45.65 176.8,45.81 176.4,45.96 176,45.24 175.6,45.8 175.2,45.43 174.8,45.39 174.4,45.75 174,45.83 173.6,45.65 173.2,45.48 172.8,45.56 172.4,45.8 172,45.99 171.6,45.45 171.2,45.55 170.8,45.44 170.4,45.75 170,45.9 169.6,45.98 169.2,45.59 168.8,45.22 168.4,45.55 168,45.39 167.6,45.25 167.2,45.81 166.8,45.21 166.4,45.34 166,45.52 165.6,45.45 165.2,45.86 164.8,45.81 164.4,45.76 164,45.86 163.6,45.67 163.2,45.97 162.8,45.73 162.4,45.35 162,45.47 161.6,45.32 161.2,45.48 160.8,45.93 160.4,45.77 160,45.97 159.6,45.52 159.2,45.51 158.8,45.55 158.4,45.27 158,45.99 157.6,45.62 157.2,45.31 156.8,45.53 156.4,45.42 156,45.44 155.6,45.78 155.2,45.49 154.8,45.61 154.4,45.24 154,45.81 153.6,45.27 153.2,45.51 152.8,45.71 152.4,45.33 152,45.77 151.6,45.6 151.2,45.81 150.8,45.49 150.4,45.44 150,45.83 149.6,45.8 149.2,45.69 148.8,45.2 148.4,45.73 148,45.71 147.6,45.28 147.2,45.9 146.8,45.25 146.4,45.63 146,45.76 145.6,45.22 145.2,45.52 144.8,45.54 144.4,45.92 144,45.4 143.6,45.43 143.2,45.84 142.8,45.39 142.4,45.75 142,45.59 141.6,45.38 141.2,45.68 140.8,45.82 140.4,45.83 140,45.34 139.6,45.27 139.2,45.89 138.8,45.48 138.4,45.59 138,45.68 137.6,45.51 137.2,45.51 136.8,45.67 136.4,45.35 136,45.83 135.6,45.35 135.2,45.87 134.8,45.29 134.4,45.86 134,45.84 133.6,45.24 133.2,45.63 132.8,45.53 132.4,45.3 132,45.9 131.6,45.54 131.2,45.4 130.8,45.98 130.4,45.49 130,45.38 129.6,46 129.2,45.31 128.8,45.97 128.4,45.33 128,46 127.6,45.44 127.2,45.33 126.8,45.37 126.4,45.5 126,45.49 125.6,45.59 125.2,45.28 124.8,45.88 124.4,45.8 124,45.23 123.6,45.53 123.2,45.49 122.8,45.68 122.4,45.21 122,45.8 121.6,45.65 121.2,45.59 120.8,45.55 120.4,45.38 120,45.55 119.6,45.9 119.2,45.24 118.8,45.91 118.4,45.33 118,45.78 117.6,45.83 117.2,45.94 116.8,45.31 116.4,45.78 116,45.97 115.6,45.28 115.2,45.9 114.8,45.93 114.4,45.72 114,45.45 113.6,45.86 113.2,45.43 112.8,45.72 112.4,45.76 112,45.7 111.6,45.78 111.2,45.68 110.8,45.78 110.4,45.43 110,45.9 109.6,45.78 109.2,45.86 108.8,45.8 108.4,45.44 108,45.8 107.6,45.62 107.2,45.87 106.8,45.27 106.4,45.24 106,45.5 105.6,45.84 105.2,45.22 104.8,45.72 104.4,45.71 104,45.24 103.6,45.86 103.2,45.87 102.8,45.98 102.4,45.61 102,45.27 101.6,45.64 101.2,45.48 100.8,45.86 100.4,45.58 100,45.26 99.6,45.69 99.2,45.95 98.8,45.53 98.4,45.51 98,45.84 97.6,45.61 97.2,45.34 96.8,45.24 96.4,45.51 96,45.72 95.6,45.23 95.2,45.8 94.8,45.31 94.4,45.87 94,45.42 93.6,45.48 93.2,45.84 92.8,45.35 92.4,45.67 92,45.99 91.6,45.51 91.2,45.74 90.8,45.52 90.4,45.44 90,45.48 89.6,45.24 89.2,45.57 88.8,45.83 88.4,45.94 88,45.55 87.6,45.35 87.2,45.51 86.8,45.9 86.4,45.4 86,45.9 85.6,45.93 85.2,45.36 84.8,45.68 84.4,45.69 84,45.21 83.6,45.65 83.2,45.89 82.8,45.7 82.4,45.82 82,45.48 81.6,45.32 81.2,45.83 80.8,45.47 80.4,45.43 80,45.51 79.6,45.22 79.2,45.75 78.8,45.39 78.4,45.21 78,45.25 77.6,45.27 77.2,45.92 76.8,45.43 76.4,45.56 76,45.49 75.6,45.95 75.2,45.43 74.8,45.92 74.4,45.51 74,45.3 73.6,45.96 73.2,45.89 72.8,45.38 72.4,45.46 72,45.48 71.6,45.89 71.2,45.73 70.8,45.54 70.4,45.35 70,45.44 69.6,45.71 69.2,45.45 68.8,45.96 68.4,45.78 68,45.83 67.6,45.75 67.2,45.56 66.8,45.92 66.4,45.27 66,45.23 65.6,45.99 65.2,45.63 64.8,45.66 64.4,45.92 64,45.49 63.6,45.26 63.2,45.65 62.8,45.81 62.4,45.65 62,45.34 61.6,45.71 61.2,45.68 60.8,45.68 60.4,45.59 60,45.59 59.6,45.27 59.2,45.72 58.8,45.41 58.4,45.46 58,45.83 57.6,45.99 57.2,45.8 56.8,45.59 56.4,45.33 56,45.83 55.6,45.84 55.2,45.24 54.8,45.33 54.4,45.31 54,46 53.6,45.43 53.2,45.61 52.8,45.76 52.4,45.92 52,45.36 51.6,45.26 51.2,45.58 50.8,45.77 50.4,45.46 50,45.94 49.6,45.31 49.2,45.97 48.8,45.28 48.4,45.76 48,45.72 47.6,45.55 47.2,45.95 46.8,45.31 46.4,45.64 46,45.32 45.6,45.21 45.2,45.9 44.8,45.27 44.4,45.88 44,45.76 43.6,45.55 43.2,45.69 42.8,45.76 42.4,45.47 42,45.62 41.6,45.72 41.2,45.38 40.8,45.46 40.4,45.87 40,45.82 39.6,45.28 39.2,45.72 38.8,45.38 38.4,45.85 38,45.36 37.6,45.91 37.2,45.48 36.8,45.9 36.4,45.79 36,45.55 35.6,45.5 35.2,45.57 34.8,45.82 34.4,45.47 34,45.57 33.6,45.43 33.2,45.47 32.8,45.54 32.4,45.42 32,45.39 31.6,45.39 31.2,45.99 30.8,45.81 30.4,45.51 30,45.29 29.6,45.32 29.2,45.39 28.8,45.24 28.4,45.22 28,45.3 27.6,45.61 27.2,45.76 26.8,45.4 26.4,45.68 26,45.26 25.6,45.39 25.2,45.48 24.8,45.33 24.4,45.49 24,45.47 23.6,45.28 23.2,45.55 22.8,45.33 22.4,45.36 22,45.39 21.6,45.37 21.2,45.81 20.8,45.79 20.4,45.6 20,45.26 19.6,45.25 19.2,45.4 18.8,45.54 18.4,45.54 18,45.8 17.6,45.49 17.2,45.84 16.8,45.58 16.4,45.62 16,45.91 15.6,45.4 15.2,45.61 14.8,45.8 14.4,45.65 14,45.64 13.6,45.86 13.2,45.25 12.8,45.66 12.4,45.24 12,45.28 11.6,45.53 11.2,45.31 10.8,45.87 10.4,45.27 10,45.43 9.6,45.83 9.2,45.74 8.8,45.21 8.4,45.61 8,45.24 7.6,45.82 7.2,45.78 6.8,45.66" fill="#e8242a"/>
<polyline points="6.8,43.68 7.1,43.7 7.4,42.55 7.7,42.42 8,45.2 8.3,45.47 8.6,45.06 8.9,44.93 9.2,43.69 9.5,45.07 9.8,42.32 10.1,44.54 10.4,46.75 10.7,46.52 11,43.83 11.3,44.03 11.6,46.6 11.9,47.22 12.2,42.28 12.5,43.89 12.8,44.88 13.1,46.37 13.4,43.27 13.7,45.5 14,44.08 14.3,48.11 14.6,45.18 14.9,44.33 15.2,44.03 15.5,46.12 15.8,45.55 16.1,42.9 16.4,44.86 16.7,42.52 17,43.39 17.3,42.58 17.6,42.54 17.9,43.5 18.2,43.06 18.5,45.33 18.8,45.73 19.1,44.17 19.4,42.85 19.7,45.74 20,41.48 20.3,41.62 20.6,45.63 20.9,45.52 21.2,46 21.5,44.21 21.8,42.63 22.1,43.77 22.4,45.39 22.7,43.38 23,43.48 23.3,42.43 23.6,42.78 23.9,45.8 24.2,45.22 24.5,42.78 24.8,42.91 25.1,43.69 25.4,45.36 25.7,42.77 26,44.28 26.3,41.3 26.6,42.64 26.9,45.17 27.2,45.89 27.5,42.79 27.8,43.37 28.1,45.73 28.4,43.95 28.7,43.72 29,45.32 29.3,44.83 29.6,46.21 29.9,45.73 30.2,43.67 30.5,44.35 30.8,44.44 31.1,42.49 31.4,43.07 31.7,46 32,42.14 32.3,46.03 32.6,44.96 32.9,44.33 33.2,45.35 33.5,45.25 33.8,46.36 34.1,43.93 34.4,44.19 34.7,44.17 35,47.37 35.3,45.96 35.6,43.15 35.9,44.03 36.2,43.47 36.5,44.56 36.8,44.86 37.1,47.99 37.4,41.79 37.7,46.09 38,45.2 38.3,43.48 38.6,44.31 38.9,43.79 39.2,44.62 39.5,46.06 39.8,42.26 40.1,46.52 40.4,43.98 40.7,46.8 41,45.16 41.3,46.4 41.6,45.39 41.9,46.18 42.2,44.63 42.5,43.29 42.8,45.56 43.1,45.62 43.4,47.7 43.7,41.53 44,44.25 44.3,46.14 44.6,42.66 44.9,44.21 45.2,47.73 45.5,46.68 45.8,43.23 46.1,46.69 46.4,46.33 46.7,45.72 47,45.12 47.3,44.91 47.6,43.24 47.9,43.78 48.2,45.65 48.5,44.76 48.8,47.33 49.1,44.05 49.4,40.95 49.7,44.05 50,44.97 50.3,45.13 50.6,44.66 50.9,43.32 51.2,46.8 51.5,43.56 51.8,45.63 52.1,44.13 52.4,42.76 52.7,46.68 53,40.79 53.3,43.28 53.6,45.21 53.9,44.03 54.2,45.69 54.5,44.41 54.8,43.88 55.1,47.81 55.4,44.23 55.7,44.33 56,42.94 56.3,43.44 56.6,45.54 56.9,45.41 57.2,44.57 57.5,43.52 57.8,45.6 58.1,42.01 58.4,44.06 58.7,44.19 59,43.3 59.3,44.8 59.6,43.57 59.9,43.37 60.2,47.28 60.5,45.69 60.8,46.38 61.1,44.65 61.4,46.03 61.7,45.75 62,46.4 62.3,48.13 62.6,44.24 62.9,44.97 63.2,44.51 63.5,39.31 63.8,42.49 64.1,44.61 64.4,45.54 64.7,43.72 65,46.29 65.3,46.51 65.6,43.97 65.9,46.73 66.2,47.22 66.5,45.29 66.8,43.12 67.1,46.8 67.4,44.35 67.7,44.03 68,44.77 68.3,43.79 68.6,46.21 68.9,45.76 69.2,46.43 69.5,45.47 69.8,43.41 70.1,44.36 70.4,45.91 70.7,43.99 71,48.98 71.3,44.24 71.6,43.72 71.9,46.32 72.2,45.72 72.5,44.56 72.8,44.25 73.1,45.24 73.4,45.85 73.7,45.74 74,44.15 74.3,45.25 74.6,45.87 74.9,45.75 75.2,39.97 75.5,43.26 75.8,43.44 76.1,44.25 76.4,44.87 76.7,45.98 77,45.53 77.3,44.41 77.6,44.63 77.9,47.24 78.2,43.68 78.5,45.06 78.8,46.95 79.1,45.12 79.4,41.53 79.7,45.16 80,44.02 80.3,44.43 80.6,46.18 80.9,45.3 81.2,44.2 81.5,45.94 81.8,45.25 82.1,44.76 82.4,45.05 82.7,44.98 83,44.09 83.3,43.91 83.6,44.64 83.9,43.17 84.2,42.71 84.5,46.55 84.8,44.24 85.1,44.56 85.4,44.4 85.7,44.64 86,44.63 86.3,44.7 86.6,43.39 86.9,46 87.2,43.56 87.5,46.15 87.8,41.72 88.1,43.01 88.4,46.09 88.7,44.38 89,43.59 89.3,45.16 89.6,43.03 89.9,44.72 90.2,41.28 90.5,43.92 90.8,43.63 91.1,45.41 91.4,45.91 91.7,43.32 92,47.01 92.3,43.71 92.6,41.52 92.9,41.03 93.2,46.91 93.5,44.47 93.8,43.63 94.1,43.48 94.4,42.96 94.7,46.63 95,44.47 95.3,47.29 95.6,44.3 95.9,41.07 96.2,45.87 96.5,44.05 96.8,44.24 97.1,46.95 97.4,44.2 97.7,46.34 98,44.59 98.3,43.47 98.6,45.36 98.9,43.7 99.2,46.44 99.5,46.04 99.8,44.69 100.1,45.51 100.4,45.45 100.7,44.19 101,45.94 101.3,44.26 101.6,45.52 101.9,43.17 102.2,44.75 102.5,45.22 102.8,43.42 103.1,43.98 103.4,43.8 103.7,45.7 104,43.52 104.3,45.26 104.6,46.89 104.9,46.1 105.2,45.08 105.5,50.33 105.8,54.94 106.1,56.71 106.4,63.05 106.7,67 107,71.82 107.3,76.31 107.6,81.82 107.9,88.46 108.2,95.55 108.5,103.19 108.8,110.31 109.1,116.82 109.4,125.28 109.7,130.18 110,124.14 110.3,122.44 110.6,119.46 110.9,117.45 111.2,114.49 111.5,111.7 111.8,108.01 112.1,107.6 112.4,104.33 112.7,98.81 113,98.7 113.3,94.45 113.6,96.19 113.9,90.5 114.2,88.19 114.5,86.55 114.8,83.81 115.1,81.77 115.4,81.97 115.7,77.83 116,76.64 116.3,75.02 116.6,69.87 116.9,71.92 117.2,68.53 117.5,67.1 117.8,62.6 118.1,63.4 118.4,61.14 118.7,58.13 119,60.83 119.3,56.79 119.6,54.19 119.9,53.51 120.2,53.33 120.5,52.49 120.8,50.57 121.1,50.51 121.4,49.96 121.7,45.07 122,45.46 122.3,44.15 122.6,45.22 122.9,46.9 123.2,45.61 123.5,43.06 123.8,44.19 124.1,46.17 124.4,43.83 124.7,44.48 125,45.09 125.3,41.9 125.6,45.8 125.9,45.14 126.2,45.48 126.5,43.16 126.8,43.48 127.1,43.73 127.4,45.01 127.7,44.74 128,44.82 128.3,47.32 128.6,46.59 128.9,43.55 129.2,43.65 129.5,47.2 129.8,44.15 130.1,46.7 130.4,47.03 130.7,43.82 131,44.23 131.3,44.75 131.6,43.33 131.9,43.16 132.2,44.03 132.5,45.91 132.8,43.96 133.1,44.32 133.4,43.93 133.7,42.58 134,46.86 134.3,41.12 134.6,43.65 134.9,45.47 135.2,42.54 135.5,45.54 135.8,46.51 136.1,43.34 136.4,44.94 136.7,42.96 137,45.39 137.3,44.76 137.6,44.95 137.9,46.68 138.2,45.34 138.5,46.65 138.8,45.58 139.1,42.83 139.4,45.02 139.7,45.36 140,42.46 140.3,46.63 140.6,44.73 140.9,45.18 141.2,43.28 141.5,44.74 141.8,45.08 142.1,44.14 142.4,44.75 142.7,41.45 143,46.67 143.3,42.96 143.6,41.36 143.9,43.19 144.2,43.38 144.5,45.44 144.8,43.26 145.1,45.05 145.4,43.19 145.7,47.94 146,45.45 146.3,47.56 146.6,43.11 146.9,45.62 147.2,43.19 147.5,45.49 147.8,45.64 148.1,42.23 148.4,42.92 148.7,42.88 149,42.37 149.3,43.53 149.6,43.18 149.9,42.46 150.2,44.77 150.5,45.44 150.8,42.65 151.1,43.79 151.4,44.63 151.7,44.27 152,43.57 152.3,45.84 152.6,45.89 152.9,45.64 153.2,44.31 153.5,47.6 153.8,47.23 154.1,44.02 154.4,44.44 154.7,46.4 155,43.42 155.3,45.21 155.6,44.69 155.9,43.56 156.2,44.27 156.5,42.26 156.8,43.8 157.1,41.62 157.4,48.03 157.7,46.87 158,46.46 158.3,45.07 158.6,46.11 158.9,46.52 159.2,46.14 159.5,45.99 159.8,43.24 160.1,45.25 160.4,43.81 160.7,42.84 161,42.9 161.3,45.25 161.6,46.19 161.9,42.56 162.2,47.23 162.5,46.81 162.8,44.04 163.1,43.91 163.4,44.5 163.7,46.08 164,44.03 164.3,42.95 164.6,45.12 164.9,41.51 165.2,44.81 165.5,46.34 165.8,45.06 166.1,45.77 166.4,45.34 166.7,45.69 167,44.82 167.3,43.36 167.6,44.26 167.9,44.49 168.2,46.49 168.5,47.04 168.8,45.23 169.1,43.47 169.4,43.51 169.7,44.32 170,46.68 170.3,45.1 170.6,44.52 170.9,43.45 171.2,45.92 171.5,45.03 171.8,44.52 172.1,44.76 172.4,47.13 172.7,44.36 173,47.13 173.3,46.46 173.6,44.68 173.9,45.93 174.2,44.41 174.5,43.36 174.8,44.2 175.1,43.24 175.4,45.37 175.7,44.62 176,45.45 176.3,45.84 176.6,39.92 176.9,45.07 177.2,41.9 177.5,44.85 177.8,43.28 178.1,44.76 178.4,46.65 178.7,42.04 179,44.89 179.3,44.48 179.6,41.76 179.9,45.57 180.2,44.65 180.5,43.84 180.8,43.52 181.1,49.42 181.4,44.01 181.7,41.9 182,43.2 182.3,44.05 182.6,44.02 182.9,44.48 183.2,63.03 183.5,65.41 183.8,63.87 184.1,42.56 184.4,43.38 184.7,44.02 185,45.87 185.3,45.33 185.6,44.09 185.9,44.63 186.2,44.92 186.5,47.66 186.8,43.67 187.1,45.3 187.4,45.69 187.7,43.17 188,44.88 188.3,44.85 188.6,43.9 188.9,45.45 189.2,46.14 189.5,46.3 189.8,44.31 190.1,44.88 190.4,48.13 190.7,42.94 191,44.93 191.3,45.93 191.6,44.83 191.9,45.58 192.2,44.86 192.5,45.73 192.8,46.52 193.1,44.27 193.4,44.9 193.7,44.52 194,43.99 194.3,44.57 194.6,42.9 194.9,45.72 195.2,47.15 195.5,47.16 195.8,46.51 196.1,43.15 196.4,46.88 196.7,43.53 197,44.52 197.3,47.37 197.6,42.99 197.9,45.86 198.2,45.02 198.5,44.37 198.8,43.29 199.1,45.23 199.4,43.9 199.7,46.17 200,46.44 200.3,42.53 200.6,43.84 200.9,44.12 201.2,42.83 201.5,42.92 201.8,44.73 202.1,44.29 202.4,42.12 202.7,43.79 203,45.38 203.3,42.79 203.6,43.21 203.9,46.98 204.2,46.58 204.5,42.17 204.8,42.57 205.1,45.17 205.4,42.81 205.7,44.22 206,43.92 206.3,45.44 206.6,40.81 206.9,41.3 207.2,42.76 207.5,46.12 207.8,44.37 208.1,42.04 208.4,45.34 208.7,45.66 209,44.23 209.3,44.1 209.6,45.26 209.9,46.41 210.2,44.83 210.5,45.4 210.8,44.53 211.1,44.03 211.4,43.23 211.7,44.98 212,44.15 212.3,44.23 212.6,45.99 212.9,45.33 213.2,45.91 213.5,42.24 213.8,45.44 214.1,43.72 214.4,43.39 214.7,43.32 215,46.42" fill="none" stroke="#e8242a" stroke-width="1.0" stroke-linejoin="round" />
<polyline points="103.5,43.82 103.8,43.95 104.1,44.77 104.4,44.85 104.7,44.33 105,46.13 105.3,47.31 105.6,50.94 105.9,55.07 106.2,59.43 106.5,62.75 106.8,67.53 107.1,73.21 107.4,79.24 107.7,84.88 108,90.52 108.3,97.9 108.6,105.32 108.9,111.7 109.2,119.03 109.5,128.14 109.8,128.76 110.1,126.11 110.4,122.61 110.7,119.25 111,116.49 111.3,113.29 111.6,110.54 111.9,108.02 112.2,105.35 112.5,103.64 112.8,99.62 113.1,97.75 113.4,94.89 113.7,93.65 114,90.48 114.3,87.71 114.6,86.08 114.9,83.34 115.2,80.78 115.5,79.78 115.8,77.15 116.1,75.67 116.4,73.3 116.7,71.09 117,68.78 117.3,66.18 117.6,65.44 117.9,63.3 118.2,61.97 118.5,59.93 118.8,57.95 119.1,56.25 119.4,55.83 119.7,54.81 120,52.57 120.3,51.79 120.6,51.19 120.9,48.79 121.2,48.1 121.5,46.74 121.8,47.31 122.1,46.07 122.4,45.05 122.7,43.9 123,44.5 123.3,45.17 123.6,44.4 123.9,44.32 124.2,44.96" fill="none" stroke="#e8242a" stroke-width="1.5" stroke-linejoin="round" />
<polyline points="15.4,14.6 15.3,40 14.2,60 13.3,151.5" fill="none" stroke="#e8242a" stroke-width="1.3"/>
<line x1="61.5" y1="37" x2="61.5" y2="52.5" stroke="#231f20" stroke-width="0.8" />
<line x1="81.5" y1="37" x2="81.5" y2="52.5" stroke="#231f20" stroke-width="0.8" />
<line x1="105.4" y1="37" x2="105.4" y2="52.5" stroke="#231f20" stroke-width="0.8" />
<line x1="125.4" y1="37" x2="125.4" y2="52.5" stroke="#231f20" stroke-width="0.8" />
<text x="65.2" y="35.3" font-size="11.2" fill="#231f20" font-weight="bold" text-anchor="start" >a1</text>
<text x="109.3" y="35.1" font-size="11.2" fill="#231f20" font-weight="bold" text-anchor="start" >a2</text>
<line x1="61.5" y1="52.5" x2="24.8" y2="156.5" stroke="#231f20" stroke-width="0.8" stroke-dasharray="3.2,2.2"/>
<line x1="81.5" y1="52.5" x2="107.5" y2="156.5" stroke="#231f20" stroke-width="0.8" stroke-dasharray="3.2,2.2"/>
<line x1="105.4" y1="52.5" x2="120.2" y2="128.5" stroke="#231f20" stroke-width="0.8" stroke-dasharray="3.2,2.2"/>
<line x1="125.4" y1="52.5" x2="203" y2="127.5" stroke="#231f20" stroke-width="0.8" stroke-dasharray="3.2,2.2"/>
<line x1="33.8" y1="23" x2="25" y2="28.4" stroke="#231f20" stroke-width="0.9" />
<polygon points="19.3,31.4 23.3,25.6 26.9,30.5" fill="#231f20"/>
<line x1="70.5" y1="105" x2="70.5" y2="126.8" stroke="#231f20" stroke-width="1.1" />
<line x1="73.5" y1="128.8" x2="90.6" y2="128.8" stroke="#231f20" stroke-width="1.1" />
<text x="0" y="0" font-size="9.6" fill="#231f20" font-weight="bold" text-anchor="middle" dominant-baseline="central" transform="translate(60.9,116.8) rotate(-90)">30 pA</text>
<text x="64.8" y="139.9" font-size="9.6" fill="#231f20" font-weight="bold" text-anchor="start" >200 ms</text>
<polyline points="24.8,158.38 25.02,159.91 25.24,160.56 25.46,158.92 25.68,158.86 25.9,160.15 26.12,159.73 26.34,159.57 26.56,160.1 26.78,160.12 27,158.75 27.22,159.06 27.44,160.39 27.66,161.19 27.88,161.47 28.1,158.85 28.32,161.16 28.54,160.76 28.76,159.82 28.98,160.44 29.2,160.84 29.42,161.99 29.64,158.6 29.86,161.71 30.08,163.31 30.3,162.36 30.52,163.31 30.74,162.42 30.96,159.86 31.18,160.44 31.4,160.83 31.62,158.71 31.84,161.29 32.06,160.08 32.28,160.29 32.5,160.44 32.72,162.14 32.94,160.01 33.16,159.51 33.38,161.99 33.6,159.31 33.82,159.27 34.04,158.24 34.26,161.17 34.48,160.2 34.7,160.43 34.92,160.07 35.14,159.71 35.36,158.94 35.58,158.94 35.8,160.38 36.02,160.01 36.24,161.8 36.46,158.96 36.68,159.29 36.9,158.65 37.12,161.5 37.34,158.4 37.56,160.78 37.78,161.57 38,159.7 38.22,160.73 38.44,157.34 38.66,159.41 38.88,157.9 39.1,160.07 39.32,159.88 39.54,158.95 39.76,160.99 39.98,160.29 40.2,159.25 40.42,159.26 40.64,158.12 40.86,161.92 41.08,169.62 41.3,164.52 41.52,164.54 41.74,162.39 41.96,163.23 42.18,162.22 42.4,160.98 42.62,158.81 42.84,160.06 43.06,161.9 43.28,160.04 43.5,160.97 43.72,159.57 43.94,157.86 44.16,160.53 44.38,160.37 44.6,159.27 44.82,159.5 45.04,160.27 45.26,159.21 45.48,160.31 45.7,159.65 45.92,157.09 46.14,159.71 46.36,159.17 46.58,158.89 46.8,160.35 47.02,159.3 47.24,160.52 47.46,161.17 47.68,160.04 47.9,158.04 48.12,159.01 48.34,160.96 48.56,159.57 48.78,158.92 49,159.77 49.22,160.47 49.44,160.18 49.66,160.64 49.88,158.9 50.1,159.55 50.32,159.58 50.54,159.85 50.76,157.39 50.98,159.59 51.2,158.28 51.42,161.52 51.64,161.72 51.86,163.01 52.08,164.46 52.3,162.05 52.52,163.1 52.74,161.22 52.96,161.81 53.18,159.72 53.4,159.88 53.62,160.96 53.84,162.38 54.06,160.15 54.28,162.78 54.5,163.32 54.72,158.49 54.94,159.95 55.16,158.83 55.38,159.77 55.6,159.29 55.82,159.83 56.04,161.05 56.26,161.01 56.48,160.2 56.7,159.89 56.92,160.03 57.14,160.04 57.36,160.57 57.58,159.89 57.8,160.48 58.02,158.33 58.24,160.82 58.46,161.96 58.68,160.1 58.9,158.21 59.12,161.49 59.34,159.49 59.56,156.34 59.78,159.62 60,160.6 60.22,160.34 60.44,161.36 60.66,160.62 60.88,160.03 61.1,157.54 61.32,158.56 61.54,160.1 61.76,160.69 61.98,158.66 62.2,159.16 62.42,160.44 62.64,157.62 62.86,157.57 63.08,159.61 63.3,164.18 63.52,167.06 63.74,163.05 63.96,164.38 64.18,161.7 64.4,163.24 64.62,161.72 64.84,161.69 65.06,161.78 65.28,160.12 65.5,161.52 65.72,161.86 65.94,160.73 66.16,161.75 66.38,159.36 66.6,161.14 66.82,160.33 67.04,158.81 67.26,159.86 67.48,159.31 67.7,159.27 67.92,160.02 68.14,161.17 68.36,159.53 68.58,160.05 68.8,158.15 69.02,160.02 69.24,161.26 69.46,160.85 69.68,160.45 69.9,159.26 70.12,158.73 70.34,159.78 70.56,158.3 70.78,158.42 71,161.01 71.22,158.8 71.44,162.02 71.66,158.19 71.88,160.4 72.1,158.49 72.32,160.09 72.54,158.65 72.76,159.93 72.98,159.7 73.2,159.35 73.42,160.49 73.64,161.68 73.86,159.18 74.08,160.94 74.3,159.99 74.52,159.85 74.74,162.56 74.96,160.31 75.18,162.27 75.4,160.16 75.62,161.36 75.84,161.01 76.06,165.48 76.28,161.11 76.5,162.63 76.72,161.9 76.94,159.72 77.16,160.72 77.38,162.07 77.6,160.25 77.82,160.25 78.04,160.57 78.26,158.17 78.48,158.97 78.7,160.33 78.92,160.56 79.14,158.82 79.36,159.52 79.58,159.75 79.8,159.72 80.02,160.72 80.24,160.02 80.46,160.09 80.68,158.21 80.9,158.63 81.12,160.27 81.34,157.99 81.56,160.21 81.78,159.1 82,158.92 82.22,160.65 82.44,159.08 82.66,158.86 82.88,159.08 83.1,159.95 83.32,163.15 83.54,157.36 83.76,159.86 83.98,159.59 84.2,161.01 84.42,159.44 84.64,156.94 84.86,161.46 85.08,158.58 85.3,159.8 85.52,158.25 85.74,158.57 85.96,159.28 86.18,160.9 86.4,160.88 86.62,159.16 86.84,160.47 87.06,159.43 87.28,160.01 87.5,160.06 87.72,160.63 87.94,162.34 88.16,163.81 88.38,163.24 88.6,162.34 88.82,160.71 89.04,163.28 89.26,160.35 89.48,161.56 89.7,160.71 89.92,161.78 90.14,157.61 90.36,162.57 90.58,159.81 90.8,158.55 91.02,160.13 91.24,162.64 91.46,160.54 91.68,158.45 91.9,159.35 92.12,161.49 92.34,158.21 92.56,159.67 92.78,159.53 93,162.46 93.22,159.52 93.44,161.44 93.66,159.06 93.88,158.91 94.1,161.06 94.32,160.61 94.54,157.8 94.76,160.63 94.98,160.63 95.2,159.13 95.42,160.13 95.64,160.18 95.86,159.28 96.08,159.17 96.3,159.06 96.52,159.54 96.74,158.28 96.96,159.81 97.18,158.08 97.4,163.95 97.62,167.51 97.84,164.51 98.06,165.35 98.28,165.56 98.5,164.02 98.72,160.19 98.94,162.87 99.16,161.25 99.38,160.66 99.6,159.8 99.82,160.35 100.04,161.89 100.26,160.79 100.48,159.58 100.7,159.23 100.92,159.49 101.14,160.65 101.36,162.15 101.58,158.65 101.8,159.9 102.02,159.43 102.24,158.99 102.46,160.35 102.68,160.53 102.9,158.18 103.12,158.63 103.34,161.29 103.56,160.24 103.78,160.48 104,159.26 104.22,159.41 104.44,160.41 104.66,159.27 104.88,158.54 105.1,159.86 105.32,160.94 105.54,158.63 105.76,161.12 105.98,160.69 106.2,158.83 106.42,159.87 106.64,159.81 106.86,160.61 107.08,160.65 107.3,158.31 107.52,158.26 107.74,161.08 107.96,159.99 108.18,160.35" fill="none" stroke="#e8242a" stroke-width="1.2" stroke-linejoin="round" />
<text x="60.6" y="153.7" font-size="11.5" fill="#231f20" font-weight="bold" text-anchor="start" >a1</text>
<line x1="63.6" y1="175.2" x2="63.6" y2="181.4" stroke="#6e6e6e" stroke-width="0.9" />
<line x1="60.92" y1="176.75" x2="66.28" y2="179.85" stroke="#6e6e6e" stroke-width="0.9" />
<line x1="66.28" y1="176.75" x2="60.92" y2="179.85" stroke="#6e6e6e" stroke-width="0.9" />
<polyline points="120,130.07 120.22,131.97 120.44,127.63 120.66,131.27 120.88,128.29 121.1,130.75 121.32,131.73 121.54,127.43 121.76,130.27 121.98,129.2 122.2,129.19 122.42,129.73 122.64,128.01 122.86,128.16 123.08,130.73 123.3,131.04 123.52,128.81 123.74,127.42 123.96,133.4 124.18,131.48 124.4,130.32 124.62,128.13 124.84,128.85 125.06,130.17 125.28,128.28 125.5,132.34 125.72,130.03 125.94,130.45 126.16,128.21 126.38,128.41 126.6,128.61 126.82,130.3 127.04,129.46 127.26,129.43 127.48,130.4 127.7,130.26 127.92,132.26 128.14,129.62 128.36,128.34 128.58,129.93 128.8,132.27 129.02,129.1 129.24,130.06 129.46,129.43 129.68,130.64 129.9,130.42 130.12,128.87 130.34,130.06 130.56,132.33 130.78,133.15 131,133.59 131.22,134.37 131.44,133.5 131.66,134.49 131.88,139.58 132.1,137.79 132.32,138.73 132.54,142.16 132.76,142.07 132.98,141.57 133.2,141.64 133.42,144.46 133.64,146.99 133.86,148.02 134.08,147.18 134.3,146.67 134.52,152.08 134.74,152.35 134.96,157 135.18,152.23 135.4,157.1 135.62,155.3 135.84,157.8 136.06,156.63 136.28,160.32 136.5,167.85 136.72,163.46 136.94,164.3 137.16,166.57 137.38,170.07 137.6,168.28 137.82,166.87 138.04,167.84 138.26,170.09 138.48,168.95 138.7,170.11 138.92,172.26 139.14,173.59 139.36,191.68 139.58,214.96 139.8,206.55 140.02,193.8 140.24,189.9 140.46,189.78 140.68,181.96 140.9,181.52 141.12,179.01 141.34,187.27 141.56,192.14 141.78,187.65 142,186.24 142.22,186.3 142.44,185.11 142.66,177.64 142.88,182.69 143.1,179.11 143.32,180.76 143.54,174.54 143.76,179.72 143.98,200.71 144.2,197.3 144.42,189.92 144.64,189.92 144.86,181.17 145.08,178.96 145.3,178.6 145.52,179.29 145.74,178.08 145.96,175.89 146.18,183.46 146.4,182.99 146.62,180.62 146.84,184.25 147.06,175.34 147.28,180.03 147.5,170.07 147.72,170.35 147.94,169.26 148.16,175.93 148.38,184.35 148.6,179.81 148.82,176.85 149.04,176.69 149.26,173.44 149.48,170.13 149.7,171.24 149.92,170.89 150.14,169.95 150.36,166.15 150.58,167.37 150.8,165.45 151.02,167.63 151.24,164.61 151.46,173.34 151.68,172.71 151.9,170.85 152.12,167.18 152.34,162.51 152.56,164.37 152.78,163.08 153,164.11 153.22,166.14 153.44,160.75 153.66,165.54 153.88,159.36 154.1,162.31 154.32,161.39 154.54,158 154.76,162.03 154.98,158.86 155.2,159.23 155.42,160.43 155.64,161.27 155.86,162.47 156.08,159.43 156.3,159.44 156.52,156.27 156.74,156.99 156.96,158.2 157.18,155.01 157.4,153.8 157.62,156.62 157.84,160.2 158.06,152.84 158.28,160.39 158.5,164.47 158.72,161.83 158.94,155.98 159.16,157.57 159.38,159.98 159.6,154.06 159.82,155.13 160.04,149.91 160.26,154.04 160.48,152.45 160.7,148.95 160.92,154.1 161.14,156.56 161.36,151.89 161.58,152.98 161.8,151.4 162.02,155.81 162.24,154.65 162.46,151.2 162.68,152.64 162.9,151.61 163.12,148.66 163.34,149.74 163.56,149.7 163.78,151.14 164,151.64 164.22,146.76 164.44,145.87 164.66,145.84 164.88,145.88 165.1,147.79 165.32,147.22 165.54,146.45 165.76,148.81 165.98,152.42 166.2,148.74 166.42,149.45 166.64,148.91 166.86,147 167.08,147.48 167.3,147.98 167.52,143.76 167.74,145.54 167.96,143.81 168.18,146.37 168.4,147.46 168.62,143.1 168.84,148.37 169.06,142.71 169.28,145.91 169.5,144.73 169.72,142.88 169.94,147.22 170.16,142.77 170.38,142.6 170.6,142.99 170.82,147.35 171.04,144.73 171.26,146.57 171.48,145.87 171.7,140.63 171.92,143.93 172.14,141.93 172.36,138.58 172.58,142.46 172.8,141.72 173.02,145.11 173.24,142.26 173.46,144.54 173.68,146.9 173.9,143.65 174.12,143.38 174.34,142.8 174.56,139.61 174.78,142.21 175,142.72 175.22,140.61 175.44,140.81 175.66,138.52 175.88,140.69 176.1,141.57 176.32,139.21 176.54,140.58 176.76,142.08 176.98,142.54 177.2,142.78 177.42,144.28 177.64,138.12 177.86,139.7 178.08,140.61 178.3,144.01 178.52,145.02 178.74,135.73 178.96,138.8 179.18,139.08 179.4,144.46 179.62,142.64 179.84,137.54 180.06,138.71 180.28,136.54 180.5,139.25 180.72,134.94 180.94,139.12 181.16,139.32 181.38,138.69 181.6,136.45 181.82,137.47 182.04,137.91 182.26,138.04 182.48,137.94 182.7,138.02 182.92,137.74 183.14,137.26 183.36,137.43 183.58,136.59 183.8,135.48 184.02,135.16 184.24,136.44 184.46,134.92 184.68,136.76 184.9,132.37 185.12,136.88 185.34,134.64 185.56,136.62 185.78,134.89 186,136.04 186.22,136.98 186.44,133.67 186.66,134.6 186.88,134.13 187.1,134.66 187.32,131.69 187.54,133.91 187.76,133.71 187.98,132.79 188.2,133.66 188.42,131.45 188.64,136.03 188.86,134.45 189.08,136.65 189.3,132.22 189.52,131.68 189.74,133.9 189.96,130.74 190.18,133.67 190.4,132.12 190.62,132.63 190.84,133.49 191.06,133.09 191.28,135.89 191.5,133.87 191.72,130.76 191.94,134.27 192.16,130.54 192.38,132.72 192.6,130.53 192.82,131.12 193.04,134.44 193.26,131.41 193.48,131.2 193.7,131.26 193.92,131.59 194.14,134.3 194.36,130.09 194.58,129.95 194.8,132.76 195.02,129.27 195.24,131.16 195.46,133.47 195.68,131.63 195.9,130.81 196.12,130.4 196.34,130.01 196.56,130.47 196.78,131.57 197,133.27 197.22,132.77 197.44,130.3 197.66,129.98 197.88,132.18 198.1,128.16 198.32,130.28 198.54,130.4 198.76,129.1 198.98,129.23 199.2,131.3 199.42,128.08 199.64,129.19 199.86,129.56 200.08,130.66 200.3,128.31 200.52,132.13 200.74,129.88 200.96,129.9 201.18,129.68 201.4,129.13 201.62,128.59 201.84,131.9 202.06,130.35 202.28,129.8 202.5,131.49 202.72,128.74 202.94,130.8 203.16,129.79 203.38,128.09 203.6,130.7 203.82,127.14 204.04,130.52" fill="none" stroke="#e8242a" stroke-width="1.3" stroke-linejoin="round" />
<text x="143.3" y="137" font-size="11.5" fill="#231f20" font-weight="bold" text-anchor="start" >a2</text>
<line x1="111.8" y1="170" x2="111.8" y2="192.3" stroke="#e8242a" stroke-width="1.1" />
<line x1="114.3" y1="194.4" x2="135.1" y2="194.4" stroke="#e8242a" stroke-width="1.1" />
<text x="0" y="0" font-size="9.6" fill="#e8242a" font-weight="bold" text-anchor="middle" dominant-baseline="central" transform="translate(102.2,180) rotate(-90)">30 pA</text>
<text x="119.2" y="204.8" font-size="9.8" fill="#e8242a" font-weight="bold" text-anchor="start" >1 s</text>
<line x1="51.2" y1="268.8" x2="51.2" y2="372.4" stroke="#3a3a3a" stroke-width="1.1" />
<line x1="50.7" y1="372" x2="199.6" y2="372" stroke="#3a3a3a" stroke-width="1.1" />
<line x1="51.2" y1="269" x2="53.2" y2="269" stroke="#3a3a3a" stroke-width="0.9" />
<text x="47.4" y="272.9" font-size="9.8" fill="#231f20" font-weight="bold" text-anchor="end" >0.4</text>
<line x1="51.2" y1="294.75" x2="53.2" y2="294.75" stroke="#3a3a3a" stroke-width="0.9" />
<text x="47.4" y="298.65" font-size="9.8" fill="#231f20" font-weight="bold" text-anchor="end" >0.3</text>
<line x1="51.2" y1="320.5" x2="53.2" y2="320.5" stroke="#3a3a3a" stroke-width="0.9" />
<text x="47.4" y="324.4" font-size="9.8" fill="#231f20" font-weight="bold" text-anchor="end" >0.2</text>
<line x1="51.2" y1="346.25" x2="53.2" y2="346.25" stroke="#3a3a3a" stroke-width="0.9" />
<text x="47.4" y="350.15" font-size="9.8" fill="#231f20" font-weight="bold" text-anchor="end" >0.1</text>
<text x="47.4" y="375.9" font-size="9.8" fill="#231f20" font-weight="bold" text-anchor="end" >0</text>
<rect x="66.3" y="338.52" width="11.2" height="33.48" fill="#2b2523"/>
<line x1="71.9" y1="326.94" x2="71.9" y2="338.52" stroke="#3b3b3b" stroke-width="1.1" />
<line x1="70.4" y1="326.94" x2="73.4" y2="326.94" stroke="#3b3b3b" stroke-width="1.1" />
<rect x="82.1" y="342.9" width="11.2" height="29.1" fill="#e8202a"/>
<line x1="87.7" y1="335.18" x2="87.7" y2="350.63" stroke="#3b3b3b" stroke-width="1.1" />
<line x1="86.2" y1="335.18" x2="89.2" y2="335.18" stroke="#3b3b3b" stroke-width="1.1" />
<line x1="86.2" y1="350.63" x2="89.2" y2="350.63" stroke="#3b3b3b" stroke-width="1.1" />
<rect x="112.4" y="347.02" width="11.2" height="24.98" fill="#2b2523"/>
<line x1="118" y1="339.81" x2="118" y2="347.02" stroke="#3b3b3b" stroke-width="1.1" />
<line x1="116.5" y1="339.81" x2="119.5" y2="339.81" stroke="#3b3b3b" stroke-width="1.1" />
<rect x="128.3" y="285.22" width="11.2" height="86.78" fill="#e8202a"/>
<line x1="133.9" y1="269.77" x2="133.9" y2="300.67" stroke="#3b3b3b" stroke-width="1.1" />
<line x1="132.4" y1="269.77" x2="135.4" y2="269.77" stroke="#3b3b3b" stroke-width="1.1" />
<line x1="132.4" y1="300.67" x2="135.4" y2="300.67" stroke="#3b3b3b" stroke-width="1.1" />
<rect x="158.8" y="366.59" width="11.2" height="5.41" fill="#2b2523"/>
<line x1="164.4" y1="360.41" x2="164.4" y2="366.59" stroke="#3b3b3b" stroke-width="1.1" />
<line x1="162.9" y1="360.41" x2="165.9" y2="360.41" stroke="#3b3b3b" stroke-width="1.1" />
<rect x="175" y="364.27" width="11.2" height="7.73" fill="#e8202a"/>
<line x1="180.6" y1="357.32" x2="180.6" y2="371.23" stroke="#3b3b3b" stroke-width="1.1" />
<line x1="179.1" y1="357.32" x2="182.1" y2="357.32" stroke="#3b3b3b" stroke-width="1.1" />
<line x1="179.1" y1="371.23" x2="182.1" y2="371.23" stroke="#3b3b3b" stroke-width="1.1" />
<text x="63.4" y="390.8" font-size="12.4" fill="#231f20" font-weight="bold" text-anchor="start" >P-1W</text>
<text x="111.2" y="390.8" font-size="12.4" fill="#231f20" font-weight="bold" text-anchor="start" >P-2W</text>
<text x="157.2" y="390.8" font-size="12.4" fill="#231f20" font-weight="bold" text-anchor="start" >P-3W</text>
<rect x="71.9" y="288.9" width="2.9" height="3.1" fill="#231f20"/>
<text x="77.8" y="293.8" font-size="9.3" fill="#231f20" font-weight="bold" text-anchor="start" >WT</text>
<rect x="71.9" y="301.0" width="2.9" height="3.2" fill="#e8202a"/>
<text x="77.8" y="306.2" font-size="9.3" fill="#e8202a" font-weight="bold" text-anchor="start" >Tg1</text>
<line x1="87.2" y1="252.2" x2="131.7" y2="252.2" stroke="#e8242a" stroke-width="1.1" />
<line x1="136.2" y1="252.2" x2="179.7" y2="252.2" stroke="#e8242a" stroke-width="1.1" />
<line x1="117.6" y1="264.5" x2="134" y2="264.5" stroke="#555555" stroke-width="1.1" />
<line x1="106.7" y1="243.6" x2="106.7" y2="249.6" stroke="#6e6e6e" stroke-width="0.85" />
<line x1="104.1" y1="245.1" x2="109.3" y2="248.1" stroke="#6e6e6e" stroke-width="0.85" />
<line x1="109.3" y1="245.1" x2="104.1" y2="248.1" stroke="#6e6e6e" stroke-width="0.85" />
<line x1="113.1" y1="243.6" x2="113.1" y2="249.6" stroke="#6e6e6e" stroke-width="0.85" />
<line x1="110.5" y1="245.1" x2="115.7" y2="248.1" stroke="#6e6e6e" stroke-width="0.85" />
<line x1="115.7" y1="245.1" x2="110.5" y2="248.1" stroke="#6e6e6e" stroke-width="0.85" />
<line x1="151.9" y1="243.6" x2="151.9" y2="249.6" stroke="#6e6e6e" stroke-width="0.85" />
<line x1="149.3" y1="245.1" x2="154.5" y2="248.1" stroke="#6e6e6e" stroke-width="0.85" />
<line x1="154.5" y1="245.1" x2="149.3" y2="248.1" stroke="#6e6e6e" stroke-width="0.85" />
<line x1="158" y1="243.6" x2="158" y2="249.6" stroke="#6e6e6e" stroke-width="0.85" />
<line x1="155.4" y1="245.1" x2="160.6" y2="248.1" stroke="#6e6e6e" stroke-width="0.85" />
<line x1="160.6" y1="245.1" x2="155.4" y2="248.1" stroke="#6e6e6e" stroke-width="0.85" />
<line x1="164.2" y1="243.6" x2="164.2" y2="249.6" stroke="#6e6e6e" stroke-width="0.85" />
<line x1="161.6" y1="245.1" x2="166.8" y2="248.1" stroke="#6e6e6e" stroke-width="0.85" />
<line x1="166.8" y1="245.1" x2="161.6" y2="248.1" stroke="#6e6e6e" stroke-width="0.85" />
<line x1="123.1" y1="256.5" x2="123.1" y2="262.5" stroke="#6e6e6e" stroke-width="0.85" />
<line x1="120.5" y1="258" x2="125.7" y2="261" stroke="#6e6e6e" stroke-width="0.85" />
<line x1="125.7" y1="258" x2="120.5" y2="261" stroke="#6e6e6e" stroke-width="0.85" />
<line x1="129.2" y1="256.5" x2="129.2" y2="262.5" stroke="#6e6e6e" stroke-width="0.85" />
<line x1="126.6" y1="258" x2="131.8" y2="261" stroke="#6e6e6e" stroke-width="0.85" />
<line x1="131.8" y1="258" x2="126.6" y2="261" stroke="#6e6e6e" stroke-width="0.85" />
<text x="0" y="0" font-size="12.6" fill="#231f20" font-weight="bold" text-anchor="middle" dominant-baseline="central" transform="translate(9.1,320.2) rotate(-90)">Frequency</text>
<text x="0" y="0" font-size="12.6" fill="#231f20" font-weight="bold" text-anchor="middle" dominant-baseline="central" transform="translate(22.2,320.5) rotate(-90)">(numbers/min)</text>
<line x1="241.15" y1="52" x2="241.15" y2="56.48" stroke="#b2b2b2" stroke-width="0.75" />
<line x1="284.41" y1="52" x2="284.41" y2="57.38" stroke="#b2b2b2" stroke-width="0.75" />
<line x1="356.3" y1="52" x2="356.3" y2="68.53" stroke="#b2b2b2" stroke-width="0.75" />
<line x1="276.85" y1="52" x2="276.85" y2="67.28" stroke="#b2b2b2" stroke-width="0.75" />
<line x1="259.35" y1="52" x2="259.35" y2="74.26" stroke="#b2b2b2" stroke-width="0.75" />
<line x1="299.59" y1="52" x2="299.59" y2="69.69" stroke="#b2b2b2" stroke-width="0.75" />
<line x1="261.03" y1="52" x2="261.03" y2="64.95" stroke="#b2b2b2" stroke-width="0.75" />
<line x1="285.88" y1="52" x2="285.88" y2="56.37" stroke="#b2b2b2" stroke-width="0.75" />
<line x1="295.77" y1="52" x2="295.77" y2="72.3" stroke="#b2b2b2" stroke-width="0.75" />
<line x1="294.91" y1="52" x2="294.91" y2="75.57" stroke="#b2b2b2" stroke-width="0.75" />
<line x1="306.71" y1="52" x2="306.71" y2="73.54" stroke="#b2b2b2" stroke-width="0.75" />
<line x1="242.94" y1="52" x2="242.94" y2="68.26" stroke="#b2b2b2" stroke-width="0.75" />
<line x1="300.75" y1="52" x2="300.75" y2="62.51" stroke="#b2b2b2" stroke-width="0.75" />
<line x1="297.81" y1="52" x2="297.81" y2="61.44" stroke="#b2b2b2" stroke-width="0.75" />
<line x1="355.16" y1="52" x2="355.16" y2="71.41" stroke="#b2b2b2" stroke-width="0.75" />
<line x1="263.29" y1="52" x2="263.29" y2="57.68" stroke="#b2b2b2" stroke-width="0.75" />
<line x1="241.88" y1="52" x2="241.88" y2="58.77" stroke="#b2b2b2" stroke-width="0.75" />
<line x1="351.41" y1="52" x2="351.41" y2="73.33" stroke="#b2b2b2" stroke-width="0.75" />
<line x1="335.79" y1="52" x2="335.79" y2="63.41" stroke="#b2b2b2" stroke-width="0.75" />
<line x1="297.3" y1="52" x2="297.3" y2="67.08" stroke="#b2b2b2" stroke-width="0.75" />
<line x1="337.04" y1="52" x2="337.04" y2="55.09" stroke="#b2b2b2" stroke-width="0.75" />
<line x1="260.94" y1="52" x2="260.94" y2="67.21" stroke="#b2b2b2" stroke-width="0.75" />
<line x1="256.1" y1="52" x2="256.1" y2="74.7" stroke="#b2b2b2" stroke-width="0.75" />
<line x1="244.4" y1="52" x2="244.4" y2="75.45" stroke="#b2b2b2" stroke-width="0.75" />
<line x1="264.96" y1="52" x2="264.96" y2="59.07" stroke="#b2b2b2" stroke-width="0.75" />
<line x1="290.36" y1="52" x2="290.36" y2="68.39" stroke="#b2b2b2" stroke-width="0.75" />
<line x1="357.53" y1="52" x2="357.53" y2="65" stroke="#b2b2b2" stroke-width="0.75" />
<line x1="358.12" y1="52" x2="358.12" y2="62.56" stroke="#b2b2b2" stroke-width="0.75" />
<line x1="296.42" y1="52" x2="296.42" y2="55.45" stroke="#b2b2b2" stroke-width="0.75" />
<line x1="285.44" y1="52" x2="285.44" y2="62.43" stroke="#b2b2b2" stroke-width="0.75" />
<line x1="254.05" y1="52" x2="254.05" y2="72.48" stroke="#b2b2b2" stroke-width="0.75" />
<line x1="272.78" y1="52" x2="272.78" y2="57.75" stroke="#b2b2b2" stroke-width="0.75" />
<line x1="241.96" y1="52" x2="241.96" y2="70.86" stroke="#b2b2b2" stroke-width="0.75" />
<line x1="303.37" y1="52" x2="303.37" y2="66" stroke="#b2b2b2" stroke-width="0.75" />
<line x1="289.06" y1="52" x2="289.06" y2="75.24" stroke="#b2b2b2" stroke-width="0.75" />
<line x1="284.74" y1="52" x2="284.74" y2="64.97" stroke="#b2b2b2" stroke-width="0.75" />
<line x1="351.42" y1="52" x2="351.42" y2="73.03" stroke="#b2b2b2" stroke-width="0.75" />
<line x1="261.17" y1="52" x2="261.17" y2="74.84" stroke="#b2b2b2" stroke-width="0.75" />
<line x1="338.69" y1="52" x2="338.69" y2="61.93" stroke="#b2b2b2" stroke-width="0.75" />
<line x1="336.45" y1="52" x2="336.45" y2="75.01" stroke="#b2b2b2" stroke-width="0.75" />
<line x1="328.94" y1="52" x2="328.94" y2="70.51" stroke="#b2b2b2" stroke-width="0.75" />
<line x1="340.46" y1="52" x2="340.46" y2="73.45" stroke="#b2b2b2" stroke-width="0.75" />
<line x1="333.52" y1="52" x2="333.52" y2="56.63" stroke="#b2b2b2" stroke-width="0.75" />
<line x1="264.25" y1="52" x2="264.25" y2="57.54" stroke="#b2b2b2" stroke-width="0.75" />
<line x1="295.38" y1="52" x2="295.38" y2="56.38" stroke="#b2b2b2" stroke-width="0.75" />
<line x1="305.62" y1="52" x2="305.62" y2="74.41" stroke="#b2b2b2" stroke-width="0.75" />
<line x1="357.77" y1="52" x2="357.77" y2="55.79" stroke="#b2b2b2" stroke-width="0.75" />
<line x1="256.3" y1="52" x2="256.3" y2="73.1" stroke="#b2b2b2" stroke-width="0.75" />
<line x1="242.77" y1="52" x2="242.77" y2="57.17" stroke="#b2b2b2" stroke-width="0.75" />
<line x1="278.16" y1="52" x2="278.16" y2="55.11" stroke="#b2b2b2" stroke-width="0.75" />
<line x1="263.89" y1="52" x2="263.89" y2="70.12" stroke="#b2b2b2" stroke-width="0.75" />
<line x1="353.89" y1="52" x2="353.89" y2="64.88" stroke="#b2b2b2" stroke-width="0.75" />
<line x1="295.89" y1="52" x2="295.89" y2="75.93" stroke="#b2b2b2" stroke-width="0.75" />
<line x1="276.96" y1="52" x2="276.96" y2="73.6" stroke="#b2b2b2" stroke-width="0.75" />
<line x1="240.1" y1="52" x2="240.1" y2="61.25" stroke="#b2b2b2" stroke-width="0.75" />
<line x1="326.24" y1="52" x2="326.24" y2="55.95" stroke="#b2b2b2" stroke-width="0.75" />
<line x1="349.39" y1="52" x2="349.39" y2="70.95" stroke="#b2b2b2" stroke-width="0.75" />
<line x1="337.14" y1="52" x2="337.14" y2="67.55" stroke="#b2b2b2" stroke-width="0.75" />
<line x1="336.82" y1="52" x2="336.82" y2="64.82" stroke="#b2b2b2" stroke-width="0.75" />
<line x1="288.41" y1="52" x2="288.41" y2="69.76" stroke="#b2b2b2" stroke-width="0.75" />
<line x1="295.3" y1="52" x2="295.3" y2="61.52" stroke="#b2b2b2" stroke-width="0.75" />
<line x1="271.03" y1="52" x2="271.03" y2="64.18" stroke="#b2b2b2" stroke-width="0.75" />
<line x1="285.22" y1="52" x2="285.22" y2="70.84" stroke="#b2b2b2" stroke-width="0.75" />
<line x1="333.88" y1="52" x2="333.88" y2="71.76" stroke="#b2b2b2" stroke-width="0.75" />
<line x1="282.83" y1="52" x2="282.83" y2="62.76" stroke="#b2b2b2" stroke-width="0.75" />
<line x1="340.41" y1="52" x2="340.41" y2="58.78" stroke="#b2b2b2" stroke-width="0.75" />
<line x1="250.2" y1="60" x2="250.2" y2="99" stroke="#b0b0b0" stroke-width="0.8" />
<line x1="323" y1="60" x2="323" y2="113" stroke="#b0b0b0" stroke-width="0.8" />
<line x1="345.3" y1="60" x2="345.3" y2="119.4" stroke="#b0b0b0" stroke-width="0.8" />
<polygon points="238.2,36.55 238.6,36.87 239,36.93 239.4,36.87 239.8,35.92 240.2,35.45 240.6,37.5 241,37.37 241.4,36.51 241.8,36.85 242.2,35.6 242.6,36.41 243,36.69 243.4,36.94 243.8,35.88 244.2,35.6 244.6,37.51 245,37.27 245.4,35.79 245.8,37.21 246.2,37.19 246.6,35.8 247,37.17 247.4,36.24 247.8,36.7 248.2,40.82 248.6,50.76 249,64.31 249.4,67.73 249.8,59.07 250.2,54.77 250.6,49.34 251,45.93 251.4,44.29 251.8,41.43 252.2,41.63 252.6,40 253,39.52 253.4,37.94 253.8,37.69 254.2,36.97 254.6,36.71 255,36.88 255.4,37.56 255.8,36.83 256.2,37.48 256.6,35.83 257,36.17 257.4,35.58 257.8,37.49 258.2,35.6 258.6,36.64 259,36.91 259.4,35.87 259.8,37.57 260.2,37.57 260.6,35.93 261,35.71 261.4,36.84 261.8,36.54 262.2,36.73 262.6,36.76 263,37.51 263.4,37.09 263.8,36.09 264.2,37.05 264.6,36.39 265,37.55 265.4,36.45 265.8,35.42 266.2,37.42 266.6,36.01 267,37.21 267.4,36.75 267.8,37.04 268.2,37.03 268.6,37.39 269,37.23 269.4,36.82 269.8,36.12 270.2,36.49 270.6,36.01 271,36.14 271.4,36.41 271.8,36.33 272.2,36.04 272.6,36.07 273,36.09 273.4,35.82 273.8,36.68 274.2,35.6 274.6,35.95 275,35.78 275.4,36.95 275.8,36.02 276.2,35.62 276.6,37.21 277,36.36 277.4,37.17 277.8,36.11 278.2,36.16 278.6,36.63 279,35.55 279.4,37.55 279.8,35.69 280.2,37.41 280.6,36.85 281,37.08 281.4,35.86 281.8,37.36 282.2,36.58 282.6,36.31 283,35.82 283.4,35.78 283.8,37.3 284.2,37.53 284.6,36.32 285,36.99 285.4,36.94 285.8,36.49 286.2,36.46 286.6,36.62 287,36.16 287.4,37.04 287.8,36.32 288.2,36.51 288.6,35.8 289,37.55 289.4,35.57 289.8,36.98 290.2,36.85 290.6,36.16 291,37.55 291.4,35.48 291.8,36 292.2,36.14 292.6,36.81 293,36.7 293.4,36.97 293.8,37.29 294.2,35.44 294.6,36.63 295,36.28 295.4,36.92 295.8,36.56 296.2,36.17 296.6,35.42 297,36.08 297.4,36.38 297.8,36.14 298.2,36.23 298.6,36.83 299,36.14 299.4,37.27 299.8,36.19 300.2,36.36 300.6,36.35 301,37.39 301.4,36.73 301.8,37.52 302.2,35.41 302.6,37.5 303,35.83 303.4,37.37 303.8,35.5 304.2,37.28 304.6,36.79 305,36.91 305.4,36.26 305.8,36.25 306.2,35.74 306.6,35.71 307,36.77 307.4,36.15 307.8,35.46 308.2,35.77 308.6,35.77 309,35.83 309.4,36.4 309.8,37.4 310.2,36.68 310.6,37.03 311,35.63 311.4,36.92 311.8,37.3 312.2,37.59 312.6,36.97 313,36.74 313.4,37.52 313.8,35.68 314.2,37.14 314.6,36.98 315,37 315.4,36.18 315.8,35.58 316.2,35.71 316.6,36.89 317,36.09 317.4,37.49 317.8,35.67 318.2,37.19 318.6,36.45 319,36.05 319.4,35.96 319.8,36.18 320.2,36.21 320.6,36.46 321,40.94 321.4,51.6 321.8,63.89 322.2,67.98 322.6,60.4 323,53.75 323.4,50.7 323.8,46 324.2,43.3 324.6,41.12 325,40.2 325.4,38.71 325.8,39.17 326.2,38.46 326.6,36.8 327,38.5 327.4,37.76 327.8,37.18 328.2,37.91 328.6,36.89 329,36.03 329.4,37.3 329.8,37.64 330.2,35.63 330.6,36.59 331,35.96 331.4,37.43 331.8,35.64 332.2,37.2 332.6,35.87 333,36.82 333.4,36.93 333.8,37.08 334.2,35.52 334.6,36.47 335,35.68 335.4,35.68 335.8,35.76 336.2,35.73 336.6,37.46 337,36.63 337.4,35.96 337.8,36.47 338.2,35.52 338.6,35.88 339,36.78 339.4,36.93 339.8,36.75 340.2,37.57 340.6,37.56 341,37.23 341.4,36.42 341.8,37.07 342.2,35.95 342.6,37.3 343,35.94 343.4,40.08 343.8,45.43 344.2,59.65 344.6,76.5 345,67.25 345.4,59.14 345.8,54.21 346.2,49.71 346.6,46.39 347,44.7 347.4,41.07 347.8,41.51 348.2,39.6 348.6,39.25 349,38.6 349.4,37.56 349.8,37.53 350.2,38.27 350.6,37.02 351,37.83 351.4,35.73 351.8,36.9 352.2,37.09 352.6,36.4 353,35.68 353.4,37.22 353.8,37.11 354.2,36.28 354.6,35.65 355,37.27 355.4,37.13 355.8,37.25 356.2,37.21 356.6,35.99 357,36.78 357.4,36.43 357.8,36.26 358.2,36.31 358.6,36.88 359,37.6 359.4,36.44 359.8,36.21 360.2,36.78 360.6,36.78 361,36.3 361,53.42 360.6,54.72 360.2,55 359.8,53.16 359.4,54.97 359,53.11 358.6,53.17 358.2,53.49 357.8,53.52 357.4,53.16 357,53.34 356.6,54.56 356.2,54.51 355.8,54.32 355.4,55.06 355,54.52 354.6,55.2 354.2,54.12 353.8,53.35 353.4,54.54 353,53.69 352.6,54.52 352.2,55.08 351.8,53.62 351.4,54.82 351,54.98 350.6,55.44 350.2,54.38 349.8,55.6 349.4,56.51 349,56.82 348.6,57.91 348.2,59.03 347.8,60.18 347.4,62.32 347,65.7 346.6,70.82 346.2,74.19 345.8,81.16 345.4,91.35 345,103.46 344.6,121.14 344.2,92.44 343.8,70.5 343.4,59.33 343,52.98 342.6,53.06 342.2,54.44 341.8,54.85 341.4,55.3 341,54.68 340.6,54.4 340.2,53.1 339.8,55.15 339.4,52.91 339,54.98 338.6,53.44 338.2,55.36 337.8,53.01 337.4,54.67 337,53.66 336.6,54.28 336.2,55.12 335.8,54.92 335.4,54.76 335,53.67 334.6,53.36 334.2,54.51 333.8,53.23 333.4,54.53 333,55.06 332.6,54.57 332.2,53.17 331.8,54.3 331.4,53.52 331,54.71 330.6,54.47 330.2,54.6 329.8,54.66 329.4,55.4 329,54.74 328.6,55.89 328.2,54.66 327.8,54.79 327.4,54.49 327,56.31 326.6,57.54 326.2,57.16 325.8,58.7 325.4,60.61 325,59.96 324.6,64.49 324.2,67.01 323.8,69.88 323.4,75.74 323,83.1 322.6,92.65 322.2,105 321.8,100.85 321.4,77.38 321,62.23 320.6,53.93 320.2,53.15 319.8,53.35 319.4,55.22 319,54.29 318.6,53.88 318.2,55.07 317.8,54.14 317.4,52.94 317,54.05 316.6,53.13 316.2,54.91 315.8,53.24 315.4,55 315,55.2 314.6,53.56 314.2,53.29 313.8,55.36 313.4,52.99 313,53.32 312.6,54.59 312.2,55.05 311.8,54.68 311.4,54.9 311,53.6 310.6,54.31 310.2,54.05 309.8,54.69 309.4,53.82 309,54.88 308.6,53.07 308.2,55.36 307.8,54.8 307.4,54.91 307,54.76 306.6,53.09 306.2,53.46 305.8,53.04 305.4,53.25 305,54.56 304.6,53.24 304.2,54.83 303.8,55.08 303.4,55.12 303,54.44 302.6,53.19 302.2,54.27 301.8,55.34 301.4,55.17 301,53.21 300.6,53.71 300.2,53.07 299.8,53.43 299.4,53.44 299,53.91 298.6,54.38 298.2,54.35 297.8,54.4 297.4,55.33 297,55.22 296.6,53.19 296.2,53.19 295.8,53.09 295.4,52.9 295,54.79 294.6,53.48 294.2,55.31 293.8,54.47 293.4,53.29 293,55.17 292.6,53.65 292.2,54.99 291.8,55.36 291.4,53.71 291,54.26 290.6,54.44 290.2,54.45 289.8,55 289.4,53.76 289,53.47 288.6,55.12 288.2,53.42 287.8,54.88 287.4,54.19 287,54.89 286.6,54.22 286.2,55.28 285.8,54.96 285.4,54.71 285,55.16 284.6,53.78 284.2,54.56 283.8,54.63 283.4,55.39 283,53.59 282.6,53.75 282.2,53.73 281.8,53.74 281.4,55.18 281,53 280.6,52.95 280.2,55.13 279.8,53.89 279.4,52.97 279,53.14 278.6,54.12 278.2,54.62 277.8,54.77 277.4,55.03 277,53.65 276.6,53.28 276.2,55.37 275.8,53.46 275.4,54.46 275,53.56 274.6,54.62 274.2,53.36 273.8,53.28 273.4,53.7 273,54.03 272.6,54.42 272.2,54.38 271.8,53.23 271.4,52.93 271,53.09 270.6,54.05 270.2,53.16 269.8,54.47 269.4,54.42 269,54.99 268.6,54.5 268.2,53.44 267.8,52.96 267.4,54.43 267,54.62 266.6,53.03 266.2,54.66 265.8,55.38 265.4,54.36 265,52.99 264.6,55.07 264.2,53.98 263.8,54.67 263.4,54.14 263,54.31 262.6,53.21 262.2,53.13 261.8,54.29 261.4,54.14 261,54.71 260.6,53.93 260.2,53.96 259.8,53.57 259.4,54.41 259,55.17 258.6,54.41 258.2,53.96 257.8,55.37 257.4,53.29 257,54.05 256.6,53.36 256.2,54.99 255.8,54.05 255.4,55.77 255,53.67 254.6,55.11 254.2,56.33 253.8,54.86 253.4,55.57 253,56.83 252.6,59.27 252.2,59.6 251.8,61.78 251.4,64.91 251,65.9 250.6,71.05 250.2,76.27 249.8,85.28 249.4,92.83 249,89.66 248.6,71.38 248.2,59.52 247.8,55.13 247.4,54.62 247,53.05 246.6,55.4 246.2,53.1 245.8,53.8 245.4,55.07 245,53.72 244.6,54.34 244.2,53.67 243.8,53.03 243.4,55.26 243,53.5 242.6,55.21 242.2,54.87 241.8,53.37 241.4,53.37 241,53.85 240.6,53.2 240.2,54.36 239.8,53.77 239.4,54.98 239,53.53 238.6,53.76 238.2,53.79" fill="#aaaaaa"/>
<polyline points="238.4,45.77 238.7,40.17 239,48.94 239.3,46.49 239.6,46.12 239.9,47.93 240.2,47.15 240.5,44.38 240.8,52.63 241.1,45.13 241.4,49.49 241.7,52.1 242,44.62 242.3,46.8 242.6,44.01 242.9,49.72 243.2,45.49 243.5,43.15 243.8,50.53 244.1,49.31 244.4,43.8 244.7,50.12 245,47.1 245.3,53.5 245.6,51.75 245.9,44.81 246.2,45.68 246.5,43.83 246.8,46.91 247.1,46.65 247.4,48.75 247.7,46.93 248,44.58 248.3,51.87 248.6,66.84 248.9,77.1 249.2,87.01 249.5,79.18 249.8,72.7 250.1,68.13 250.4,58.78 250.7,63.28 251,55.83 251.3,56.1 251.6,46.88 251.9,53.18 252.2,55.4 252.5,43.56 252.8,54.27 253.1,50.47 253.4,46.3 253.7,43.3 254,51.38 254.3,48.37 254.6,49.18 254.9,46.37 255.2,44.63 255.5,49.62 255.8,43.95 256.1,49.55 256.4,41.63 256.7,43.87 257,42.22 257.3,50.63 257.6,41.25 257.9,43.1 258.2,48.59 258.5,47.25 258.8,53.25 259.1,52.17 259.4,48.42 259.7,48.63 260,40.94 260.3,43.82 260.6,45.51 260.9,45.97 261.2,42.3 261.5,43.66 261.8,43.91 262.1,49.75 262.4,47.81 262.7,45.49 263,45.66 263.3,47.39 263.6,44.37 263.9,45.69 264.2,41.23 264.5,48.55 264.8,49.44 265.1,47.61 265.4,47.96 265.7,47.62 266,52.75 266.3,47.12 266.6,42.45 266.9,43.29 267.2,48.68 267.5,49.76 267.8,48.86 268.1,49.07 268.4,47.07 268.7,41.94 269,44.32 269.3,40.95 269.6,45.31 269.9,42.32 270.2,46.79 270.5,45.97 270.8,40.52 271.1,48.74 271.4,48.82 271.7,42.22 272,46.93 272.3,48.69 272.6,45.59 272.9,49.11 273.2,47.06 273.5,49.78 273.8,47.05 274.1,45.97 274.4,48.05 274.7,48.88 275,47.24 275.3,45.09 275.6,44.05 275.9,45.32 276.2,44.71 276.5,47.1 276.8,46.99 277.1,46.2 277.4,46.46 277.7,46.99 278,51.28 278.3,50.17 278.6,44.68 278.9,47.76 279.2,45.45 279.5,46.16 279.8,45.71 280.1,44.53 280.4,42.26 280.7,39.5 281,47.07 281.3,50.1 281.6,43.66 281.9,48.01 282.2,45.26 282.5,47.31 282.8,43.96 283.1,45.73 283.4,46.1 283.7,39.5 284,47.11 284.3,46.02 284.6,39.5 284.9,48.44 285.2,46.34 285.5,47.07 285.8,47.55 286.1,45.15 286.4,43.11 286.7,45.06 287,45.11 287.3,53.29 287.6,52.13 287.9,44.92 288.2,45.15 288.5,47.42 288.8,48.17 289.1,44.28 289.4,43.33 289.7,52.41 290,49.69 290.3,41.61 290.6,40.95 290.9,43.86 291.2,47.1 291.5,48.11 291.8,45.36 292.1,41.41 292.4,47.09 292.7,48.28 293,46.41 293.3,44.87 293.6,48.19 293.9,46.23 294.2,42.93 294.5,46.7 294.8,42.39 295.1,49.4 295.4,47.86 295.7,43.31 296,47.06 296.3,50.29 296.6,39.74 296.9,45.97 297.2,51.53 297.5,41.57 297.8,45.88 298.1,41.97 298.4,46.19 298.7,39.5 299,41.35 299.3,44.73 299.6,46.83 299.9,47.58 300.2,47.73 300.5,49.99 300.8,48.58 301.1,48.71 301.4,43.34 301.7,45.91 302,53.5 302.3,53.49 302.6,49 302.9,48.72 303.2,49.5 303.5,45.14 303.8,52.54 304.1,45.23 304.4,46.15 304.7,53.23 305,39.88 305.3,47.54 305.6,41 305.9,44.35 306.2,46.12 306.5,45.3 306.8,46.95 307.1,43.99 307.4,46.08 307.7,42.67 308,45.19 308.3,42.04 308.6,48.47 308.9,42.33 309.2,48.59 309.5,45.1 309.8,45.45 310.1,50.12 310.4,46.75 310.7,40.43 311,47.98 311.3,39.5 311.6,47.25 311.9,45.14 312.2,41.99 312.5,46.65 312.8,45.43 313.1,52.74 313.4,45.02 313.7,52.54 314,50.78 314.3,44.47 314.6,43.82 314.9,50.58 315.2,45.97 315.5,46.91 315.8,45.6 316.1,42.57 316.4,45.22 316.7,43.36 317,41.55 317.3,45.47 317.6,52.07 317.9,51.53 318.2,46.21 318.5,46.83 318.8,48.03 319.1,50.72 319.4,47.42 319.7,44.89 320,45.16 320.3,50.01 320.6,54.25 320.9,49.1 321.2,51.88 321.5,71.67 321.8,82.91 322.1,91.54 322.4,86.41 322.7,75.73 323,65.68 323.3,59.12 323.6,61.56 323.9,55.07 324.2,57.3 324.5,50.4 324.8,51.78 325.1,46.96 325.4,49.48 325.7,48.4 326,51.06 326.3,52.91 326.6,47.62 326.9,45.11 327.2,53.82 327.5,48.51 327.8,49.12 328.1,48.97 328.4,51.55 328.7,50.03 329,48.9 329.3,49.12 329.6,43.88 329.9,44.64 330.2,46.21 330.5,46.82 330.8,46.56 331.1,47.47 331.4,46.56 331.7,45.1 332,41.27 332.3,49.12 332.6,48.32 332.9,43.63 333.2,48.02 333.5,47.69 333.8,46.66 334.1,40.55 334.4,42.57 334.7,44.5 335,51.58 335.3,43.68 335.6,45.31 335.9,42.87 336.2,44.85 336.5,47.51 336.8,39.8 337.1,39.5 337.4,48.53 337.7,46.53 338,44.49 338.3,49.51 338.6,49.52 338.9,39.72 339.2,45.88 339.5,49.96 339.8,44.28 340.1,45.41 340.4,49.46 340.7,45.56 341,42.59 341.3,44.22 341.6,42.18 341.9,48.19 342.2,40.91 342.5,49.62 342.8,41.16 343.1,46.77 343.4,45.04 343.7,55.55 344,70.39 344.3,84.99 344.6,103.59 344.9,88.91 345.2,81.29 345.5,75.03 345.8,70.88 346.1,63.29 346.4,64.59 346.7,59.28 347,59.62 347.3,55.65 347.6,54.8 347.9,49.1 348.2,49.14 348.5,45.55 348.8,48.11 349.1,47.98 349.4,50.81 349.7,43.78 350,54.62 350.3,46.93 350.6,51.17 350.9,50.33 351.2,39.98 351.5,45.96 351.8,51.44 352.1,39.75 352.4,49.08 352.7,43.65 353,45.05 353.3,47.24 353.6,40.53 353.9,47.11 354.2,44.4 354.5,44.06 354.8,48.69 355.1,53.53 355.4,47.53 355.7,48.2 356,46.26 356.3,44.11 356.6,47.25 356.9,51.28 357.2,47.02 357.5,49.27 357.8,45.69 358.1,53.5 358.4,41.13 358.7,48.28 359,48.14 359.3,47.26 359.6,42.83 359.9,42.76 360.2,45.65 360.5,46.72 360.8,42.52" fill="none" stroke="#959595" stroke-width="0.45" stroke-linejoin="round" />
<line x1="247.8" y1="36" x2="247.8" y2="198.5" stroke="#4a4a4a" stroke-width="1.1" stroke-dasharray="3.4,2.4"/>
<line x1="318.9" y1="36" x2="318.9" y2="198.5" stroke="#4a4a4a" stroke-width="1.1" stroke-dasharray="3.4,2.4"/>
<line x1="342.2" y1="36" x2="342.2" y2="198.5" stroke="#4a4a4a" stroke-width="1.1" stroke-dasharray="3.4,2.4"/>
<polyline points="238.2,43.82 238.5,43.95 238.8,44.04 239.1,43.91 239.4,43.77 239.7,43.94 240,44.57 240.3,44.81 240.6,44.5 240.9,44.33 241.2,43.98 241.5,43.78 241.8,44.04 242.1,44.16 242.4,44.26 242.7,43.89 243,43.52 243.3,43.19 243.6,43.06 243.9,43.49 244.2,43.64 244.5,43.79 244.8,43.63 245.1,43.55 245.4,43.21 245.7,42.93 246,43.44 246.3,43.18 246.6,42.7 246.9,42.81 247.2,43.68 247.5,45.55 247.8,49.25 248.1,53.71 248.4,59.91 248.7,68.08 249,77.19 249.3,81.59 249.6,75.52 249.9,70.42 250.2,66.77 250.5,62.87 250.8,59.63 251.1,57.5 251.4,54.87 251.7,52.78 252,51.18 252.3,49.77 252.6,49.02 252.9,48.36 253.2,47.37 253.5,46.86 253.8,46.62 254.1,45.89 254.4,45.92 254.7,46.3 255,45.56 255.3,45.35 255.6,45.25 255.9,44.99 256.2,45.17 256.5,44.36 256.8,43.5 257.1,43.95 257.4,44.01 257.7,43.55 258,44.02 258.3,44.4 258.6,43.77 258.9,43.43 259.2,43.99 259.5,44.45 259.8,44 260.1,43.81 260.4,44.18 260.7,43.43 261,43.57 261.3,43.49 261.6,43.24 261.9,43.63 262.2,44 262.5,43.66 262.8,43.62 263.1,43.37 263.4,43.41 263.7,43.02 264,42.84 264.3,43.34 264.6,43.43 264.9,43.15 265.2,43.57 265.5,44.05 265.8,43.81 266.1,43.56 266.4,43.72 266.7,43.58 267,43.08 267.3,43.13 267.6,43.35 267.9,43.43 268.2,44 268.5,44.23 268.8,43.68 269.1,43.85 269.4,44.71 269.7,44.95 270,44.24 270.3,44.07 270.6,44.12 270.9,43.84 271.2,43.82 271.5,43.91 271.8,43.87 272.1,43.52 272.4,43.78 272.7,43.45 273,43.54 273.3,43.88 273.6,43.76 273.9,43.37 274.2,43.98 274.5,44.19 274.8,43.74 275.1,44.27 275.4,44.35 275.7,43.99 276,44.01 276.3,43.89 276.6,44.45 276.9,44.68 277.2,44.26 277.5,43.96 277.8,44.1 278.1,43.77 278.4,43.43 278.7,43.62 279,43.78 279.3,43.64 279.6,43.68 279.9,43.9 280.2,43.65 280.5,43.56 280.8,43.94 281.1,43.8 281.4,43.88 281.7,43.59 282,43.36 282.3,43.32 282.6,43.42 282.9,43.58 283.2,43.07 283.5,43 283.8,43.45 284.1,43.29 284.4,43.58 284.7,44.17 285,43.96 285.3,43.92 285.6,43.8 285.9,44.14 286.2,43.81 286.5,43.61 286.8,43.83 287.1,43.52 287.4,43.27 287.7,43.17 288,43.16 288.3,43.21 288.6,42.47 288.9,42.93 289.2,43.11 289.5,42.5 289.8,43.05 290.1,43.4 290.4,42.69 290.7,42.85 291,43.92 291.3,44.41 291.6,44.87 291.9,44.54 292.2,44.25 292.5,43.9 292.8,43.92 293.1,44.67 293.4,44.71 293.7,44.04 294,43.48 294.3,43.26 294.6,43.63 294.9,44.02 295.2,44.4 295.5,43.84 295.8,43.67 296.1,43.88 296.4,43.93 296.7,43.72 297,44.53 297.3,44.36 297.6,43.31 297.9,43.29 298.2,44.12 298.5,44.19 298.8,43.57 299.1,43.44 299.4,43.43 299.7,43.78 300,44.6 300.3,44.26 300.6,44.41 300.9,44.49 301.2,43.94 301.5,44.15 301.8,44.34 302.1,43.38 302.4,43.73 302.7,44.32 303,44.27 303.3,44 303.6,43.52 303.9,43.55 304.2,44.42 304.5,44.47 304.8,44.36 305.1,44.04 305.4,43.96 305.7,44.3 306,43.76 306.3,43.18 306.6,43.4 306.9,43.62 307.2,43.94 307.5,43.75 307.8,43.54 308.1,43.18 308.4,43.33 308.7,43.64 309,43.91 309.3,43.76 309.6,43.8 309.9,43.65 310.2,43.95 310.5,43.88 310.8,44.29 311.1,44.23 311.4,43.91 311.7,43.78 312,43.57 312.3,43.69 312.6,43.81 312.9,43.56 313.2,43.27 313.5,43.42 313.8,43.62 314.1,43.59 314.4,43.62 314.7,43.46 315,42.68 315.3,42.74 315.6,42.75 315.9,42.8 316.2,43.34 316.5,43.92 316.8,43.63 317.1,43.29 317.4,43.25 317.7,43.09 318,43.08 318.3,43.6 318.6,43.89 318.9,43.92 319.2,43.73 319.5,43.88 319.8,44.02 320.1,44.78 320.4,46.89 320.7,50.87 321,55.66 321.3,62.35 321.6,70.81 321.9,80.59 322.2,79.73 322.5,73.86 322.8,68.33 323.1,63.92 323.4,60.64 323.7,57.6 324,55.81 324.3,53.52 324.6,51.8 324.9,50.72 325.2,49.8 325.5,49.11 325.8,48.63 326.1,47.43 326.4,47.38 326.7,46.74 327,45.9 327.3,45.18 327.6,45.01 327.9,45.22 328.2,45.12 328.5,44.52 328.8,44 329.1,43.95 329.4,43.54 329.7,43.71 330,44.28 330.3,43.71 330.6,43.14 330.9,43.96 331.2,44.14 331.5,44.05 331.8,43.86 332.1,43.97 332.4,44.49 332.7,44.43 333,44.36 333.3,44.1 333.6,44.03 333.9,44.44 334.2,44.59 334.5,44.12 334.8,43.56 335.1,43.69 335.4,43.6 335.7,43.71 336,43.71 336.3,43.65 336.6,43.76 336.9,43.66 337.2,43.38 337.5,43.58 337.8,43.46 338.1,43.65 338.4,44.1 338.7,43.8 339,44 339.3,44 339.6,43.97 339.9,44.09 340.2,43.99 340.5,43.31 340.8,43.56 341.1,43.77 341.4,43.6 341.7,44.35 342,44.38 342.3,45.69 342.6,50.05 342.9,55.31 343.2,62.51 343.5,70.46 343.8,80.41 344.1,86.33 344.4,79.77 344.7,74.28 345,69.83 345.3,65.33 345.6,62.09 345.9,59.04 346.2,56.83 346.5,54.6 346.8,52.88 347.1,51.37 347.4,50.48 347.7,49.3 348,48.31 348.3,48.18 348.6,47.98 348.9,47.17 349.2,46.58 349.5,46.26 349.8,46.51 350.1,46 350.4,45.75 350.7,45.46 351,45.05 351.3,44.81 351.6,44.38 351.9,44.6 352.2,44.63 352.5,44.12 352.8,43.85 353.1,44.23 353.4,44.57 353.7,43.79 354,43.44 354.3,43.58 354.6,43.69 354.9,43.87 355.2,43.89 355.5,43.51 355.8,43.54 356.1,44.02 356.4,44.78 356.7,44.66 357,44.08 357.3,44.43 357.6,44.23 357.9,43.66 358.2,43.95 358.5,44.17 358.8,43.77 359.1,44.05 359.4,43.99 359.7,43.25 360,43.27 360.3,43.7 360.6,44.03 360.9,44.05" fill="none" stroke="#17a050" stroke-width="1.8" stroke-linejoin="round" />
<line x1="269.01" y1="145" x2="269.01" y2="170.79" stroke="#b8b8b8" stroke-width="0.75" />
<line x1="243.15" y1="145" x2="243.15" y2="150.89" stroke="#b8b8b8" stroke-width="0.75" />
<line x1="332.1" y1="145" x2="332.1" y2="171.86" stroke="#b8b8b8" stroke-width="0.75" />
<line x1="281.77" y1="145" x2="281.77" y2="171.55" stroke="#b8b8b8" stroke-width="0.75" />
<line x1="260.68" y1="145" x2="260.68" y2="163.66" stroke="#b8b8b8" stroke-width="0.75" />
<line x1="281.26" y1="145" x2="281.26" y2="162.41" stroke="#b8b8b8" stroke-width="0.75" />
<line x1="262.8" y1="145" x2="262.8" y2="158.34" stroke="#b8b8b8" stroke-width="0.75" />
<line x1="294.87" y1="145" x2="294.87" y2="163.64" stroke="#b8b8b8" stroke-width="0.75" />
<line x1="263.8" y1="145" x2="263.8" y2="164.35" stroke="#b8b8b8" stroke-width="0.75" />
<line x1="264.63" y1="145" x2="264.63" y2="174.36" stroke="#b8b8b8" stroke-width="0.75" />
<line x1="268.2" y1="145" x2="268.2" y2="150.96" stroke="#b8b8b8" stroke-width="0.75" />
<line x1="271.81" y1="145" x2="271.81" y2="163.34" stroke="#b8b8b8" stroke-width="0.75" />
<line x1="292.99" y1="145" x2="292.99" y2="165.8" stroke="#b8b8b8" stroke-width="0.75" />
<line x1="288.92" y1="145" x2="288.92" y2="163.01" stroke="#b8b8b8" stroke-width="0.75" />
<line x1="356.93" y1="145" x2="356.93" y2="171.93" stroke="#b8b8b8" stroke-width="0.75" />
<line x1="308.17" y1="145" x2="308.17" y2="156.11" stroke="#b8b8b8" stroke-width="0.75" />
<line x1="315.52" y1="145" x2="315.52" y2="163.21" stroke="#b8b8b8" stroke-width="0.75" />
<line x1="296.39" y1="145" x2="296.39" y2="167.45" stroke="#b8b8b8" stroke-width="0.75" />
<line x1="295.31" y1="145" x2="295.31" y2="169.04" stroke="#b8b8b8" stroke-width="0.75" />
<line x1="273.91" y1="145" x2="273.91" y2="156.84" stroke="#b8b8b8" stroke-width="0.75" />
<line x1="349.39" y1="145" x2="349.39" y2="163.63" stroke="#b8b8b8" stroke-width="0.75" />
<line x1="354.55" y1="145" x2="354.55" y2="149.66" stroke="#b8b8b8" stroke-width="0.75" />
<line x1="350.9" y1="145" x2="350.9" y2="149.55" stroke="#b8b8b8" stroke-width="0.75" />
<line x1="329.48" y1="145" x2="329.48" y2="163.64" stroke="#b8b8b8" stroke-width="0.75" />
<line x1="253.69" y1="145" x2="253.69" y2="156.18" stroke="#b8b8b8" stroke-width="0.75" />
<line x1="297.05" y1="145" x2="297.05" y2="163.07" stroke="#b8b8b8" stroke-width="0.75" />
<line x1="298.01" y1="145" x2="298.01" y2="148.73" stroke="#b8b8b8" stroke-width="0.75" />
<line x1="359.34" y1="145" x2="359.34" y2="157.51" stroke="#b8b8b8" stroke-width="0.75" />
<line x1="326.44" y1="145" x2="326.44" y2="173.08" stroke="#b8b8b8" stroke-width="0.75" />
<line x1="356.89" y1="145" x2="356.89" y2="152.96" stroke="#b8b8b8" stroke-width="0.75" />
<line x1="301.04" y1="145" x2="301.04" y2="165.69" stroke="#b8b8b8" stroke-width="0.75" />
<line x1="268.76" y1="145" x2="268.76" y2="151.89" stroke="#b8b8b8" stroke-width="0.75" />
<line x1="309.08" y1="145" x2="309.08" y2="172.39" stroke="#b8b8b8" stroke-width="0.75" />
<line x1="289.66" y1="145" x2="289.66" y2="173.73" stroke="#b8b8b8" stroke-width="0.75" />
<line x1="241.27" y1="145" x2="241.27" y2="173.22" stroke="#b8b8b8" stroke-width="0.75" />
<line x1="265.86" y1="145" x2="265.86" y2="163.2" stroke="#b8b8b8" stroke-width="0.75" />
<line x1="352.69" y1="145" x2="352.69" y2="151.64" stroke="#b8b8b8" stroke-width="0.75" />
<line x1="275.01" y1="145" x2="275.01" y2="149.23" stroke="#b8b8b8" stroke-width="0.75" />
<line x1="291.12" y1="145" x2="291.12" y2="163.55" stroke="#b8b8b8" stroke-width="0.75" />
<line x1="300.84" y1="145" x2="300.84" y2="149.28" stroke="#b8b8b8" stroke-width="0.75" />
<line x1="290.89" y1="145" x2="290.89" y2="159.99" stroke="#b8b8b8" stroke-width="0.75" />
<line x1="352.15" y1="145" x2="352.15" y2="156.84" stroke="#b8b8b8" stroke-width="0.75" />
<line x1="315.66" y1="145" x2="315.66" y2="161.17" stroke="#b8b8b8" stroke-width="0.75" />
<line x1="333.17" y1="145" x2="333.17" y2="164.31" stroke="#b8b8b8" stroke-width="0.75" />
<line x1="359.05" y1="145" x2="359.05" y2="165.2" stroke="#b8b8b8" stroke-width="0.75" />
<line x1="280.35" y1="145" x2="280.35" y2="159.35" stroke="#b8b8b8" stroke-width="0.75" />
<line x1="283.54" y1="145" x2="283.54" y2="173.02" stroke="#b8b8b8" stroke-width="0.75" />
<line x1="292.31" y1="145" x2="292.31" y2="173.47" stroke="#b8b8b8" stroke-width="0.75" />
<line x1="257.19" y1="145" x2="257.19" y2="169.17" stroke="#b8b8b8" stroke-width="0.75" />
<line x1="292.8" y1="145" x2="292.8" y2="154.12" stroke="#b8b8b8" stroke-width="0.75" />
<line x1="310.44" y1="145" x2="310.44" y2="149.61" stroke="#b8b8b8" stroke-width="0.75" />
<line x1="263.18" y1="145" x2="263.18" y2="170.88" stroke="#b8b8b8" stroke-width="0.75" />
<line x1="302.38" y1="145" x2="302.38" y2="157.13" stroke="#b8b8b8" stroke-width="0.75" />
<line x1="256.46" y1="145" x2="256.46" y2="152.33" stroke="#b8b8b8" stroke-width="0.75" />
<line x1="266.82" y1="145" x2="266.82" y2="160.44" stroke="#b8b8b8" stroke-width="0.75" />
<line x1="241.43" y1="145" x2="241.43" y2="153.54" stroke="#b8b8b8" stroke-width="0.75" />
<line x1="290.8" y1="145" x2="290.8" y2="171.83" stroke="#b8b8b8" stroke-width="0.75" />
<line x1="352.14" y1="145" x2="352.14" y2="154.08" stroke="#b8b8b8" stroke-width="0.75" />
<line x1="254.03" y1="145" x2="254.03" y2="170.93" stroke="#b8b8b8" stroke-width="0.75" />
<line x1="268.83" y1="145" x2="268.83" y2="159.7" stroke="#b8b8b8" stroke-width="0.75" />
<line x1="350.88" y1="145" x2="350.88" y2="170.06" stroke="#b8b8b8" stroke-width="0.75" />
<line x1="352.29" y1="145" x2="352.29" y2="161.34" stroke="#b8b8b8" stroke-width="0.75" />
<line x1="262.3" y1="145" x2="262.3" y2="162.55" stroke="#b8b8b8" stroke-width="0.75" />
<line x1="297.8" y1="145" x2="297.8" y2="187.5" stroke="#b5b5b5" stroke-width="0.8" />
<line x1="330.8" y1="145" x2="330.8" y2="176.7" stroke="#b5b5b5" stroke-width="0.8" />
<line x1="356.5" y1="145" x2="356.5" y2="182.6" stroke="#b5b5b5" stroke-width="0.8" />
<line x1="344.5" y1="145" x2="344.5" y2="209" stroke="#b5b5b5" stroke-width="0.8" />
<line x1="250" y1="145" x2="250" y2="196" stroke="#b5b5b5" stroke-width="0.8" />
<line x1="322.6" y1="145" x2="322.6" y2="200" stroke="#b5b5b5" stroke-width="0.8" />
<polygon points="238.2,126.66 238.6,126.6 239,126.95 239.4,126.76 239.8,126.97 240.2,127.93 240.6,127.88 241,126.46 241.4,128.29 241.8,128.2 242.2,128.48 242.6,126.88 243,128.01 243.4,127.63 243.8,127.95 244.2,128.39 244.6,126.58 245,128.25 245.4,128.29 245.8,127.82 246.2,127.28 246.6,127.59 247,126.71 247.4,128.04 247.8,129.49 248.2,135.17 248.6,144.84 249,156.62 249.4,149.05 249.8,143.6 250.2,139.31 250.6,137.73 251,133.88 251.4,132.63 251.8,131.9 252.2,130.02 252.6,130.7 253,130.13 253.4,128.55 253.8,128.66 254.2,128.86 254.6,129.11 255,128.34 255.4,127.7 255.8,126.73 256.2,127.99 256.6,127.98 257,128.02 257.4,127.24 257.8,128.35 258.2,127.75 258.6,127.27 259,126.96 259.4,126.49 259.8,127.98 260.2,127.11 260.6,128.29 261,127.11 261.4,127.08 261.8,128.13 262.2,127.24 262.6,128.57 263,127.65 263.4,128.46 263.8,126.67 264.2,126.5 264.6,126.43 265,128.33 265.4,127.45 265.8,128.01 266.2,127.56 266.6,128.53 267,128.18 267.4,127.45 267.8,126.8 268.2,127.25 268.6,127.26 269,127.19 269.4,127.97 269.8,128.24 270.2,128.23 270.6,126.83 271,126.77 271.4,127.88 271.8,128.01 272.2,128.12 272.6,128.39 273,127.14 273.4,126.55 273.8,127.21 274.2,127.11 274.6,126.64 275,127.89 275.4,127.52 275.8,127.77 276.2,128.31 276.6,127.67 277,128.35 277.4,128.19 277.8,127.56 278.2,127.76 278.6,127.43 279,127.25 279.4,128.01 279.8,127.72 280.2,127.21 280.6,127.84 281,127.58 281.4,126.64 281.8,128.04 282.2,127.49 282.6,128.44 283,128.38 283.4,126.65 283.8,126.99 284.2,127.93 284.6,126.84 285,128.21 285.4,127.88 285.8,128.49 286.2,127.17 286.6,127.91 287,127.72 287.4,127.9 287.8,128.49 288.2,127.18 288.6,126.91 289,128.17 289.4,126.73 289.8,127.61 290.2,128.44 290.6,128.26 291,127.92 291.4,126.43 291.8,128.56 292.2,127.4 292.6,127.04 293,126.55 293.4,126.72 293.8,126.5 294.2,127.63 294.6,127.24 295,127.05 295.4,128.2 295.8,126.58 296.2,127.33 296.6,128.17 297,128.23 297.4,127.96 297.8,127.55 298.2,126.75 298.6,127.27 299,128 299.4,128.12 299.8,127.74 300.2,128.38 300.6,127.64 301,128.26 301.4,128.39 301.8,126.77 302.2,126.72 302.6,128.57 303,127.05 303.4,127.39 303.8,127.33 304.2,128.27 304.6,126.43 305,127.48 305.4,127.42 305.8,126.62 306.2,127.38 306.6,128.32 307,126.51 307.4,126.95 307.8,127.74 308.2,127.6 308.6,128.07 309,127.15 309.4,126.67 309.8,127.21 310.2,128.23 310.6,127.36 311,127.27 311.4,128.12 311.8,127.69 312.2,126.7 312.6,127.24 313,128.4 313.4,126.46 313.8,128.08 314.2,127.08 314.6,128.05 315,126.76 315.4,127.84 315.8,128.29 316.2,126.55 316.6,128.51 317,126.63 317.4,126.43 317.8,128.21 318.2,127.53 318.6,126.48 319,127.84 319.4,127.52 319.8,128.59 320.2,128.55 320.6,130.21 321,135.05 321.4,145.08 321.8,158.02 322.2,149.54 322.6,144.99 323,139.78 323.4,136.89 323.8,133.77 324.2,132.1 324.6,131.56 325,131.29 325.4,130.44 325.8,128.47 326.2,128.89 326.6,128.05 327,127.58 327.4,127.75 327.8,128.31 328.2,128.75 328.6,126.85 329,127.22 329.4,128.18 329.8,127.59 330.2,127.33 330.6,128.22 331,126.48 331.4,128.51 331.8,127.02 332.2,128.28 332.6,128.25 333,128.25 333.4,127.77 333.8,127.83 334.2,126.51 334.6,127.34 335,127.78 335.4,127 335.8,127.9 336.2,127.62 336.6,127.87 337,128.28 337.4,127.14 337.8,127.77 338.2,126.51 338.6,128.15 339,128.19 339.4,127.91 339.8,127.92 340.2,127.63 340.6,127.12 341,128.15 341.4,126.69 341.8,127.68 342.2,127.2 342.6,133.1 343,141.57 343.4,155.36 343.8,157.98 344.2,150.77 344.6,145.48 345,140.61 345.4,137.94 345.8,134.07 346.2,132.81 346.6,130.86 347,131.2 347.4,129.65 347.8,129.84 348.2,129.41 348.6,127.5 349,128.53 349.4,128.74 349.8,128.84 350.2,126.92 350.6,126.85 351,127.56 351.4,128.19 351.8,126.75 352.2,128.67 352.6,128.03 353,126.48 353.4,128.07 353.8,127.37 354.2,126.8 354.6,127.87 355,127.98 355.4,127.77 355.8,126.96 356.2,126.8 356.6,126.54 357,126.77 357.4,127.19 357.8,127.14 358.2,126.55 358.6,128.26 359,126.81 359.4,126.58 359.8,126.86 360.2,127.37 360.6,127.77 361,126.58 361,145.46 360.6,145.54 360.2,146.46 359.8,145.62 359.4,145.23 359,146.78 358.6,145.33 358.2,145.11 357.8,146.81 357.4,145.51 357,146.77 356.6,145.75 356.2,145.79 355.8,144.73 355.4,147.05 355,145.02 354.6,146.58 354.2,145.63 353.8,145.74 353.4,145.05 353,146.33 352.6,144.83 352.2,145.33 351.8,145.74 351.4,146.89 351,145.24 350.6,146.58 350.2,145.74 349.8,146.68 349.4,146.59 349,147.65 348.6,148.47 348.2,147.52 347.8,148.45 347.4,149.35 347,151.81 346.6,153.8 346.2,155.23 345.8,160.05 345.4,163.32 345,169.72 344.6,177.54 344.2,186.25 343.8,198.65 343.4,193.2 343,171.23 342.6,154.01 342.2,147.32 341.8,147.16 341.4,144.84 341,146.23 340.6,147.18 340.2,144.71 339.8,144.86 339.4,145.64 339,145.64 338.6,145.33 338.2,146.41 337.8,146.59 337.4,144.83 337,145.41 336.6,145.55 336.2,147.19 335.8,146.19 335.4,144.76 335,146.83 334.6,146.21 334.2,147 333.8,146.88 333.4,146.93 333,147 332.6,146.92 332.2,146.08 331.8,146.19 331.4,146.09 331,145.39 330.6,145.32 330.2,146.05 329.8,144.98 329.4,146.07 329,146.03 328.6,146.7 328.2,147.5 327.8,146.72 327.4,145.86 327,147.34 326.6,148 326.2,148.51 325.8,148.4 325.4,150.03 325,151.89 324.6,151.72 324.2,155.64 323.8,157.28 323.4,160.7 323,166.36 322.6,174.44 322.2,184.68 321.8,196.86 321.4,173.89 321,157.65 320.6,149.88 320.2,145.36 319.8,145.94 319.4,146.6 319,147 318.6,145.26 318.2,146.17 317.8,144.71 317.4,145.66 317,145.64 316.6,144.81 316.2,144.82 315.8,144.94 315.4,146.36 315,144.73 314.6,145.63 314.2,145.74 313.8,146.22 313.4,145.94 313,145.19 312.6,144.74 312.2,145.16 311.8,145.08 311.4,146.9 311,146.87 310.6,146.93 310.2,145.97 309.8,147.17 309.4,146.07 309,146.79 308.6,146.7 308.2,146.19 307.8,146.33 307.4,146.88 307,146.69 306.6,146.68 306.2,145.04 305.8,146.94 305.4,146.03 305,145.42 304.6,145.97 304.2,145.28 303.8,145.65 303.4,146.99 303,145.58 302.6,145.01 302.2,145.6 301.8,144.9 301.4,145.36 301,147.11 300.6,147.08 300.2,144.79 299.8,146.91 299.4,145.38 299,144.75 298.6,145.23 298.2,146.25 297.8,146.93 297.4,145.13 297,147.11 296.6,146.12 296.2,145.45 295.8,145.35 295.4,145.72 295,146.26 294.6,145.87 294.2,146.29 293.8,145.71 293.4,146.69 293,145.31 292.6,146.46 292.2,145.25 291.8,146.56 291.4,147.08 291,146.26 290.6,144.82 290.2,145.52 289.8,146.26 289.4,145.78 289,145.63 288.6,145.21 288.2,146.82 287.8,146.79 287.4,145.69 287,146.64 286.6,145.35 286.2,146.37 285.8,145.67 285.4,146.38 285,147.09 284.6,144.84 284.2,145.06 283.8,145.33 283.4,146.6 283,146.74 282.6,145.12 282.2,146.58 281.8,146.72 281.4,144.99 281,146.4 280.6,147.02 280.2,146.9 279.8,146.55 279.4,145.36 279,145.05 278.6,147 278.2,147.04 277.8,145.04 277.4,145.74 277,144.93 276.6,145.92 276.2,145.45 275.8,145.17 275.4,146.09 275,146.21 274.6,146.79 274.2,146.29 273.8,145.45 273.4,144.86 273,146.45 272.6,146.02 272.2,144.96 271.8,145.1 271.4,146.09 271,145.53 270.6,145.48 270.2,146.01 269.8,144.8 269.4,146.52 269,144.99 268.6,145.24 268.2,146.61 267.8,147.09 267.4,146.85 267,145.18 266.6,146.35 266.2,146.95 265.8,146.59 265.4,145.79 265,146.43 264.6,145.59 264.2,145.22 263.8,145.54 263.4,145 263,144.75 262.6,146.51 262.2,146.54 261.8,144.9 261.4,145.34 261,145.54 260.6,145.37 260.2,145.28 259.8,145.46 259.4,146.51 259,146.38 258.6,146.8 258.2,146.11 257.8,145.34 257.4,146.58 257,147.09 256.6,144.99 256.2,145.61 255.8,145.06 255.4,145.99 255,147.76 254.6,147.11 254.2,146.17 253.8,148.01 253.4,147.62 253,149.52 252.6,148.93 252.2,149.31 251.8,152.98 251.4,154.8 251,156.5 250.6,160.19 250.2,164.58 249.8,169.77 249.4,178.25 249,190.12 248.6,169.48 248.2,157.37 247.8,147.73 247.4,145.52 247,144.77 246.6,146.54 246.2,146.76 245.8,144.92 245.4,145.3 245,145.63 244.6,145.56 244.2,144.85 243.8,146.52 243.4,145.64 243,145.79 242.6,145.3 242.2,146.29 241.8,146.16 241.4,145.58 241,146.65 240.6,144.92 240.2,145.07 239.8,145.25 239.4,144.7 239,146.2 238.6,147.13 238.2,146.82" fill="#aaaaaa"/>
<polyline points="238.4,141.4 238.7,139.27 239,135.03 239.3,144.05 239.6,141.46 239.9,142.55 240.2,133.44 240.5,137.55 240.8,136.68 241.1,140.68 241.4,143.22 241.7,131.87 242,138.57 242.3,138.06 242.6,141.98 242.9,138.36 243.2,134.07 243.5,137.82 243.8,134.9 244.1,135.79 244.4,138.65 244.7,136.83 245,139.47 245.3,133.22 245.6,146 245.9,142.89 246.2,141 246.5,134 246.8,131 247.1,135.5 247.4,137.69 247.7,147.3 248,148.25 248.3,148.38 248.6,163.51 248.9,175.27 249.2,170.63 249.5,168.62 249.8,160.54 250.1,153.09 250.4,148.03 250.7,149.06 251,150.84 251.3,140.94 251.6,138.68 251.9,145.07 252.2,134.26 252.5,147.87 252.8,139.42 253.1,143.03 253.4,146.56 253.7,134.74 254,135.89 254.3,146.84 254.6,138.19 254.9,138.6 255.2,139.73 255.5,142.53 255.8,143.4 256.1,139.11 256.4,137.52 256.7,138.52 257,139.68 257.3,143.15 257.6,139.05 257.9,144.89 258.2,135.57 258.5,140.39 258.8,144.64 259.1,143 259.4,139.68 259.7,135.45 260,136.04 260.3,137.97 260.6,139.59 260.9,137.64 261.2,133.44 261.5,135.94 261.8,140.3 262.1,141.41 262.4,133.64 262.7,137.24 263,132.68 263.3,136.54 263.6,146 263.9,138.72 264.2,137.3 264.5,136.45 264.8,134.29 265.1,132.04 265.4,138.35 265.7,137.54 266,143.64 266.3,132.81 266.6,140.01 266.9,143.16 267.2,131.7 267.5,140.79 267.8,132.9 268.1,140.32 268.4,143.63 268.7,138.49 269,139.5 269.3,136.09 269.6,139.51 269.9,142.44 270.2,137.86 270.5,138.02 270.8,139.86 271.1,141.36 271.4,132.81 271.7,138.71 272,136.12 272.3,140.23 272.6,142.1 272.9,139.59 273.2,142.99 273.5,135.06 273.8,137.08 274.1,135.06 274.4,138.71 274.7,138.84 275,137.81 275.3,134.29 275.6,138.24 275.9,136.98 276.2,140.6 276.5,137.56 276.8,142.55 277.1,139.31 277.4,132.04 277.7,137.9 278,133.53 278.3,141.87 278.6,143.49 278.9,138.41 279.2,140.05 279.5,133.47 279.8,130.68 280.1,136.57 280.4,137.62 280.7,133.24 281,138.82 281.3,139.59 281.6,140.74 281.9,143.9 282.2,141.32 282.5,137.23 282.8,138.87 283.1,140.6 283.4,134.87 283.7,143.12 284,141.64 284.3,137.72 284.6,136.29 284.9,146 285.2,141.43 285.5,141.78 285.8,144.77 286.1,141.92 286.4,139.24 286.7,140.96 287,135.33 287.3,141 287.6,133.16 287.9,139.99 288.2,140.46 288.5,133.09 288.8,145.2 289.1,134.52 289.4,142.16 289.7,136.68 290,139.61 290.3,136.24 290.6,146 290.9,142.12 291.2,144.84 291.5,141.27 291.8,140.97 292.1,139.07 292.4,137.72 292.7,140.67 293,139.11 293.3,138.03 293.6,133.77 293.9,137.49 294.2,140.67 294.5,136.93 294.8,139.78 295.1,138.07 295.4,134.98 295.7,135.42 296,135.99 296.3,137.56 296.6,137.66 296.9,142.47 297.2,134.79 297.5,131.45 297.8,140.97 298.1,136.99 298.4,138.17 298.7,146 299,143.69 299.3,140.64 299.6,141.88 299.9,139 300.2,141.93 300.5,136.46 300.8,136.11 301.1,136.96 301.4,144.1 301.7,144.02 302,136.48 302.3,142.65 302.6,138.04 302.9,142.35 303.2,137.49 303.5,141.94 303.8,138.22 304.1,137.61 304.4,138.53 304.7,139.16 305,136.58 305.3,133.84 305.6,144.52 305.9,137.24 306.2,132.27 306.5,130.7 306.8,130.5 307.1,136.48 307.4,143.36 307.7,132.92 308,137.5 308.3,132.21 308.6,142.47 308.9,139.9 309.2,139.75 309.5,143.34 309.8,144.37 310.1,142.23 310.4,136.61 310.7,134 311,134.98 311.3,132.51 311.6,144.94 311.9,137.97 312.2,139.08 312.5,139.32 312.8,145.69 313.1,136.67 313.4,142.77 313.7,139.7 314,138.11 314.3,131.93 314.6,141.85 314.9,136.04 315.2,137.03 315.5,139.43 315.8,138.97 316.1,142.57 316.4,136.3 316.7,139.22 317,139.62 317.3,138.73 317.6,141.02 317.9,137.75 318.2,142.86 318.5,136.16 318.8,133.61 319.1,138.5 319.4,142.78 319.7,136.84 320,136.45 320.3,137.59 320.6,141.72 320.9,145.69 321.2,155.36 321.5,159.04 321.8,183.89 322.1,172.97 322.4,161.69 322.7,164.48 323,157.2 323.3,157.5 323.6,145.59 323.9,153.38 324.2,146.01 324.5,137.26 324.8,145.97 325.1,141.38 325.4,138.16 325.7,140.36 326,133.84 326.3,142.3 326.6,139.19 326.9,138.75 327.2,144.44 327.5,139.45 327.8,136.88 328.1,135.76 328.4,138.79 328.7,142.66 329,136.84 329.3,135.2 329.6,142.03 329.9,138.98 330.2,138.66 330.5,146.03 330.8,134.46 331.1,139.39 331.4,132.47 331.7,137.63 332,140.73 332.3,142.61 332.6,134.21 332.9,141.58 333.2,141.4 333.5,138.22 333.8,146.01 334.1,138.65 334.4,135.56 334.7,140.14 335,132.13 335.3,144.11 335.6,142.1 335.9,137.25 336.2,140.8 336.5,140.52 336.8,145.42 337.1,136.49 337.4,134.12 337.7,131.52 338,137.61 338.3,133.15 338.6,138.03 338.9,140.08 339.2,137.09 339.5,135.33 339.8,142.81 340.1,137.94 340.4,139.46 340.7,141.97 341,134.07 341.3,135.41 341.6,146 341.9,138.09 342.2,135.76 342.5,142.53 342.8,148.88 343.1,157.5 343.4,174.72 343.7,184.19 344,175.41 344.3,170.24 344.6,156.56 344.9,152.76 345.2,157.03 345.5,149.7 345.8,153.08 346.1,147.92 346.4,140.34 346.7,145.87 347,139.42 347.3,143.04 347.6,145.76 347.9,148.27 348.2,140.23 348.5,142.56 348.8,140.89 349.1,142.37 349.4,131.28 349.7,137.91 350,140.16 350.3,140.69 350.6,136.33 350.9,141.79 351.2,142.72 351.5,139.06 351.8,137.99 352.1,137.51 352.4,139.22 352.7,142.84 353,143.94 353.3,137.05 353.6,135.43 353.9,135.9 354.2,142.11 354.5,139.44 354.8,139.7 355.1,140.34 355.4,139.97 355.7,138.22 356,135.01 356.3,136.49 356.6,139.07 356.9,140.02 357.2,137.35 357.5,137.19 357.8,143.42 358.1,137.02 358.4,139.42 358.7,137.53 359,135.65 359.3,133.35 359.6,136.77 359.9,135.78 360.2,141.6 360.5,134.64 360.8,137.2" fill="none" stroke="#959595" stroke-width="0.45" stroke-linejoin="round" />
<polyline points="238.2,137.09 238.5,137.69 238.8,137.77 239.1,137.37 239.4,137.16 239.7,137.08 240,137.4 240.3,136.96 240.6,136.59 240.9,137.22 241.2,137.57 241.5,137.18 241.8,136.65 242.1,137.3 242.4,137.72 242.7,137.68 243,137.42 243.3,137.36 243.6,137.33 243.9,137.15 244.2,137.14 244.5,137.37 244.8,137.35 245.1,137.33 245.4,137.12 245.7,136.94 246,137.09 246.3,137.12 246.6,137.29 246.9,137.37 247.2,138.7 247.5,141.28 247.8,144.8 248.1,149.55 248.4,155.87 248.7,163.31 249,172.08 249.3,166.6 249.6,161.85 249.9,157.91 250.2,154.23 250.5,151.34 250.8,149.93 251.1,148.18 251.4,146.05 251.7,144.43 252,142.8 252.3,142.37 252.6,141.12 252.9,139.82 253.2,139.56 253.5,138.71 253.8,138.16 254.1,137.89 254.4,138 254.7,138.06 255,138.27 255.3,138.07 255.6,137.69 255.9,137.99 256.2,138.14 256.5,137.44 256.8,136.7 257.1,137.09 257.4,137.97 257.7,137.42 258,137.54 258.3,137.7 258.6,137.53 258.9,137.26 259.2,137.58 259.5,137.54 259.8,137.4 260.1,137.51 260.4,137.99 260.7,137.59 261,137.68 261.3,137.95 261.6,137.67 261.9,137.09 262.2,137.33 262.5,137.43 262.8,137.42 263.1,137.45 263.4,137.32 263.7,137.61 264,137.71 264.3,136.95 264.6,137.53 264.9,137.99 265.2,137.57 265.5,137.09 265.8,136.67 266.1,136.87 266.4,136.98 266.7,136.18 267,136.5 267.3,137.21 267.6,137.25 267.9,137.24 268.2,137.36 268.5,137.06 268.8,136.69 269.1,136.81 269.4,137.44 269.7,137.31 270,137.16 270.3,137.16 270.6,137.09 270.9,137.29 271.2,136.93 271.5,136.64 271.8,136.92 272.1,137.36 272.4,136.98 272.7,136.92 273,137.02 273.3,136.82 273.6,136.7 273.9,136.95 274.2,136.89 274.5,137.33 274.8,137.48 275.1,137.59 275.4,137.28 275.7,137.16 276,136.81 276.3,136.67 276.6,137 276.9,137.31 277.2,137.06 277.5,137.15 277.8,137.1 278.1,137.13 278.4,137.24 278.7,137.9 279,137.75 279.3,137.22 279.6,137.18 279.9,137.83 280.2,137.54 280.5,137.53 280.8,137.41 281.1,137.32 281.4,137.28 281.7,136.82 282,136.9 282.3,137.9 282.6,138.08 282.9,137.99 283.2,137.85 283.5,137.63 283.8,137.89 284.1,137.91 284.4,138.28 284.7,137.98 285,137.07 285.3,136.95 285.6,136.81 285.9,136.36 286.2,136.97 286.5,137.08 286.8,137.28 287.1,137.82 287.4,137.3 287.7,137.11 288,137.29 288.3,137.28 288.6,137.68 288.9,137.4 289.2,136.85 289.5,137 289.8,137.13 290.1,137.04 290.4,136.86 290.7,136.4 291,136.74 291.3,137.18 291.6,137.65 291.9,138.23 292.2,138.47 292.5,137.92 292.8,138.12 293.1,137.88 293.4,137.44 293.7,137.98 294,137.73 294.3,136.92 294.6,137.11 294.9,137.45 295.2,137.6 295.5,137.38 295.8,137.25 296.1,136.63 296.4,136.79 296.7,137.12 297,137.14 297.3,136.93 297.6,136.92 297.9,137.22 298.2,137.43 298.5,137.28 298.8,137.13 299.1,136.79 299.4,136.63 299.7,136.52 300,136.1 300.3,136.15 300.6,136.65 300.9,136.76 301.2,137.11 301.5,137.01 301.8,136.82 302.1,137.6 302.4,137.22 302.7,137.06 303,137.15 303.3,136.75 303.6,137.19 303.9,136.75 304.2,136.65 304.5,136.94 304.8,136.63 305.1,136.84 305.4,137.03 305.7,136.94 306,137.16 306.3,136.82 306.6,137.3 306.9,137.99 307.2,137.99 307.5,137.31 307.8,136.28 308.1,136.28 308.4,137.07 308.7,137.31 309,137.33 309.3,137.13 309.6,137.26 309.9,137.04 310.2,137.48 310.5,137.78 310.8,137.55 311.1,137.74 311.4,137.68 311.7,137.6 312,138.33 312.3,138.4 312.6,138.03 312.9,138.02 313.2,137.61 313.5,137.79 313.8,137.68 314.1,137.2 314.4,137.51 314.7,137.59 315,137.29 315.3,137.35 315.6,137.13 315.9,137.78 316.2,137.82 316.5,137.82 316.8,137.5 317.1,137.02 317.4,137.18 317.7,137.53 318,137.29 318.3,137.38 318.6,137.36 318.9,137.31 319.2,137.01 319.5,136.86 319.8,137.36 320.1,138.66 320.4,141.89 320.7,145.49 321,150.25 321.3,156.6 321.6,164.24 321.9,168.01 322.2,162.92 322.5,159.08 322.8,156.12 323.1,152.73 323.4,149.49 323.7,147.56 324,145.69 324.3,144.22 324.6,143.52 324.9,142.51 325.2,141.46 325.5,140.74 325.8,140.56 326.1,140.39 326.4,139.83 326.7,139.42 327,138.56 327.3,138.31 327.6,138.29 327.9,137.94 328.2,137.72 328.5,137.3 328.8,136.44 329.1,136.95 329.4,137.3 329.7,137.56 330,137.61 330.3,137.07 330.6,137.1 330.9,137.07 331.2,136.8 331.5,136.75 331.8,136.87 332.1,137.39 332.4,136.99 332.7,137.19 333,136.89 333.3,136.5 333.6,136.6 333.9,136.29 334.2,137.21 334.5,137.9 334.8,137.72 335.1,137.19 335.4,136.85 335.7,137.51 336,137.74 336.3,137.7 336.6,137.33 336.9,137.1 337.2,136.97 337.5,136.79 337.8,136.97 338.1,136.85 338.4,136.82 338.7,136.71 339,136.62 339.3,137.09 339.6,137.24 339.9,137.09 340.2,136.84 340.5,136.6 340.8,137.45 341.1,137.35 341.4,137.1 341.7,137.92 342,140.55 342.3,144.31 342.6,149.08 342.9,156.28 343.2,165.15 343.5,174.96 343.8,174.17 344.1,168.61 344.4,163.51 344.7,159.28 345,155.84 345.3,152.98 345.6,150.7 345.9,148.8 346.2,146.6 346.5,145.34 346.8,143.92 347.1,142.36 347.4,141.16 347.7,140.44 348,139.63 348.3,139.1 348.6,138.55 348.9,138.02 349.2,137.85 349.5,138 349.8,138.15 350.1,138.1 350.4,137.99 350.7,137.56 351,137.59 351.3,137.89 351.6,137.64 351.9,137.15 352.2,137.28 352.5,137.05 352.8,137.13 353.1,137.18 353.4,137.41 353.7,137.64 354,137.69 354.3,137.61 354.6,137.53 354.9,137.53 355.2,137.9 355.5,137.79 355.8,137.77 356.1,137.05 356.4,137.33 356.7,137.17 357,137.22 357.3,136.91 357.6,137.09 357.9,137.3 358.2,137.31 358.5,137.13 358.8,136.93 359.1,137.02 359.4,137.59 359.7,137.13 360,136.6 360.3,137.01 360.6,137.2 360.9,136.78" fill="none" stroke="#e3178c" stroke-width="1.8" stroke-linejoin="round" />
<text x="236.4" y="33.8" font-size="12.6" fill="#17a050" font-weight="bold" text-anchor="start" >Cell 1</text>
<text x="236.4" y="124.1" font-size="12.6" fill="#e3178c" font-weight="bold" text-anchor="start" >Cell 2</text>
<text x="276.2" y="35" font-size="12.6" fill="#231f20" font-weight="bold" text-anchor="start" >d</text>
<text x="291" y="35" font-size="12.6" fill="#231f20" font-weight="bold" text-anchor="start" >=</text>
<text x="304.4" y="35" font-size="12.6" fill="#231f20" font-weight="bold" text-anchor="start" >30.75</text>
<text x="342" y="35" font-size="12.6" fill="#231f20" font-weight="bold" text-anchor="start" >&#956;m</text>
<line x1="270.4" y1="70.8" x2="270.4" y2="93.8" stroke="#231f20" stroke-width="1.1" />
<line x1="270.4" y1="93.8" x2="286" y2="93.8" stroke="#231f20" stroke-width="1.1" />
<text x="0" y="0" font-size="9.2" fill="#231f20" font-weight="bold" text-anchor="middle" dominant-baseline="central" transform="translate(262.9,82.2) rotate(-90)">20 pA</text>
<text x="271.4" y="103.7" font-size="9.2" fill="#231f20" font-weight="bold" text-anchor="start" >2 s</text>
<rect x="372.2" y="35.3" width="10.1" height="48.9" fill="none" stroke="#8fd06a" stroke-width="0.9"/>
<polyline points="367.4,43.37 367.7,42.93 368,43.23 368.3,44.1 368.6,43.48 368.9,43.52 369.2,44.4 369.5,44.03 369.8,43.72 370.1,43.91 370.4,43.61 370.7,44.33 371,43.89 371.3,44.02 371.6,44.47 371.9,44.38 372.2,43.42 372.5,42.44 372.8,43.32 373.1,43.82 373.4,42.91 373.7,42.79 374,42.75 374.3,42.82 374.6,42.98 374.9,42.82 375.2,43.47 375.5,44.46 375.8,48.62 376.1,54.96 376.4,64.86 376.7,76.66 377,75.11 377.3,69.31 377.6,63.9 377.9,59.49 378.2,56.42 378.5,53.07 378.8,51.12 379.1,50.53 379.4,49.04 379.7,47.22 380,46.38 380.3,46.28 380.6,46.14 380.9,45.89 381.2,45.57 381.5,45.18 381.8,44.05 382.1,44.51 382.4,44.99 382.7,44.62 383,44.75 383.3,44.17 383.6,44.12 383.9,44.69 384.2,44.99 384.5,44.41 384.8,44.42 385.1,44.23 385.4,43.69 385.7,43.54 386,43.99 386.3,44.28 386.6,44.38 386.9,45.02 387.2,44.03 387.5,44.19 387.8,45.09 388.1,44.21 388.4,43.19 388.7,43.07 389,42.99 389.3,43.03 389.6,43.96 389.9,44.62 390.2,44.75 390.5,44.16 390.8,44.54 391.1,44.74 391.4,44.48 391.7,44.18 392,43.78 392.3,43.14 392.6,43.81 392.9,44.27 393.2,43.92 393.5,43.79 393.8,44.41 394.1,44.09 394.4,44.34 394.7,45.17 395,44.88 395.3,45.03 395.6,44.18 395.9,43.55 396.2,43.98 396.5,44.38 396.8,44.22 397.1,45.15 397.4,44.31 397.7,44.98 398,44.56 398.3,44.59 398.6,44.68 398.9,43.39 399.2,43.91 399.5,44.06 399.8,43.72 400.1,43.32 400.4,42.96 400.7,43.2 401,43.69 401.3,43.76 401.6,43.04 401.9,44.09 402.2,45.63 402.5,44.74 402.8,44.17 403.1,42.79 403.4,43.62 403.7,44.21 404,44.42 404.3,45.75 404.6,45.12 404.9,44.51 405.2,43.66 405.5,43.62 405.8,44.11 406.1,43.92 406.4,43.24 406.7,43.15 407,43.47 407.3,43.76 407.6,43.78 407.9,44.15 408.2,44.09 408.5,43.94 408.8,44.16 409.1,43.76 409.4,43.53 409.7,43.78 410,44.17 410.3,44.81 410.6,44.68 410.9,44.04 411.2,44.27 411.5,46.48 411.8,45.76 412.1,45.19 412.4,47.06 412.7,45.81 413,44.88 413.3,45.03 413.6,44.66 413.9,44.13 414.2,44.42 414.5,45.59 414.8,44.49 415.1,44.09 415.4,44.71 415.7,45.42 416,44.93 416.3,43.76 416.6,43.95 416.9,45.04 417.2,44.94 417.5,44.35 417.8,44.59 418.1,43.91 418.4,42.5 418.7,43.66 419,44.59 419.3,43.69 419.6,43.52 419.9,44.09 420.2,44.13 420.5,43.95 420.8,43.71 421.1,45.43 421.4,45.51 421.7,45.42 422,45.34 422.3,45.54 422.6,45.04 422.9,45.19 423.2,45.62 423.5,45.07 423.8,44.33 424.1,43.85 424.4,43.38 424.7,43.44 425,43.32 425.3,43.05 425.6,43.09 425.9,42.98 426.2,41.86 426.5,42.87 426.8,43.5 427.1,43.29 427.4,43.03 427.7,43.08 428,42.56 428.3,42.56 428.6,43.18 428.9,43.36 429.2,43.98 429.5,43.74 429.8,43.02 430.1,43.88 430.4,43.55 430.7,43.33 431,43.63 431.3,44.09 431.6,44.24 431.9,44.27 432.2,44.03 432.5,44.22 432.8,44.09 433.1,43.67 433.4,43.63 433.7,46.97 434,54.75 434.3,64.9 434.6,76.92 434.9,77.02 435.2,69.97 435.5,63.55 435.8,58.44 436.1,55.14 436.4,52.72 436.7,51.05 437,49.37 437.3,48.39 437.6,46.88 437.9,45.54 438.2,44.87 438.5,44.36 438.8,44.76 439.1,45.02 439.4,45.48 439.7,45.61 440,45.83 440.3,45.99 440.6,46.81 440.9,45.85 441.2,45.79 441.5,45.42 441.8,44.85 442.1,44.6 442.4,44.1 442.7,44.19 443,43.89 443.3,44.16 443.6,44.5 443.9,44.31 444.2,43.89 444.5,44.13 444.8,44.11 445.1,43.17 445.4,42.96 445.7,43.67 446,44.52 446.3,44.99 446.6,44.13 446.9,43.65 447.2,44.03 447.5,44.72 447.8,44.38 448.1,45.85 448.4,45.06 448.7,43.86 449,43.17 449.3,43.57 449.6,43.43 449.9,43.6 450.2,44.34 450.5,44.37 450.8,43.91 451.1,44.3 451.4,46.36 451.7,51.8 452,60.91 452.3,73.3 452.6,80.83 452.9,72.65 453.2,66.39 453.5,61.9 453.8,58.34 454.1,55.23 454.4,53.48 454.7,51.72 455,49.48 455.3,48.12 455.6,46.23 455.9,45.75 456.2,46.13 456.5,45.17 456.8,44.22 457.1,44.79 457.4,45.11 457.7,44.15 458,45.09 458.3,47.47 458.6,45.78 458.9,45.17 459.2,44.69 459.5,44.51 459.8,44.58 460.1,44.43 460.4,43.63 460.7,43.4 461,43.59 461.3,43.95 461.6,43.74 461.9,44.04 462.2,44.48 462.5,44.01 462.8,43.89 463.1,44.06 463.4,44.7 463.7,44.39 464,43.68" fill="none" stroke="#e3178c" stroke-width="1.1" stroke-linejoin="round" />
<polyline points="367.4,43.03 367.7,43.34 368,44.4 368.3,44.19 368.6,43.9 368.9,43.87 369.2,43.67 369.5,43.94 369.8,44.26 370.1,44.48 370.4,44.06 370.7,43.94 371,43.77 371.3,42.95 371.6,42.82 371.9,43.21 372.2,43.71 372.5,43.75 372.8,44.49 373.1,44.14 373.4,43.31 373.7,43.6 374,43.52 374.3,42.87 374.6,42.74 374.9,43.15 375.2,43.41 375.5,46.17 375.8,51.66 376.1,61.2 376.4,74.52 376.7,80.94 377,72.25 377.3,65.85 377.6,60.75 377.9,57.82 378.2,54.77 378.5,51.36 378.8,49.36 379.1,48.39 379.4,47.79 379.7,46.24 380,44.86 380.3,45.22 380.6,44.5 380.9,44.89 381.2,44.58 381.5,43.61 381.8,43.56 382.1,43.46 382.4,44.43 382.7,44.76 383,44.64 383.3,44.6 383.6,43.35 383.9,42.97 384.2,43.04 384.5,42.8 384.8,43.15 385.1,43 385.4,43.33 385.7,43.09 386,43.65 386.3,44.11 386.6,44.1 386.9,44.08 387.2,43.87 387.5,43.56 387.8,44.11 388.1,43.91 388.4,43.41 388.7,43.97 389,43.64 389.3,43.69 389.6,43.32 389.9,43.92 390.2,44.62 390.5,44.36 390.8,44.18 391.1,43.6 391.4,42.39 391.7,42.67 392,43.06 392.3,44.58 392.6,44.5 392.9,44.1 393.2,44.47 393.5,44.93 393.8,44.66 394.1,44.16 394.4,43.95 394.7,43.37 395,42.8 395.3,42.7 395.6,43.4 395.9,43.69 396.2,42.93 396.5,42.76 396.8,42.68 397.1,42.65 397.4,43.08 397.7,43.6 398,44.14 398.3,43.21 398.6,43.03 398.9,44.15 399.2,43.6 399.5,42.92 399.8,43.29 400.1,43.91 400.4,44.14 400.7,43.47 401,43.59 401.3,43.98 401.6,44.03 401.9,44.39 402.2,44.35 402.5,43.3 402.8,42.55 403.1,42.98 403.4,43.29 403.7,43.52 404,43.99 404.3,44.57 404.6,44.77 404.9,44.62 405.2,43.81 405.5,43.33 405.8,43.56 406.1,43.54 406.4,43.39 406.7,43.18 407,42.89 407.3,43.55 407.6,44.49 407.9,43.55 408.2,42.74 408.5,43.55 408.8,44.18 409.1,44.23 409.4,43.53 409.7,43.66 410,43.99 410.3,44.12 410.6,44.25 410.9,44.09 411.2,44.03 411.5,44.15 411.8,43.73 412.1,43.85 412.4,43.98 412.7,43.21 413,42.94 413.3,42.99 413.6,43.41 413.9,43.81 414.2,43.1 414.5,43.22 414.8,43.66 415.1,43.15 415.4,43.42 415.7,43.42 416,43.11 416.3,43.81 416.6,44.83 416.9,44.21 417.2,44.06 417.5,44.98 417.8,44.32 418.1,44.89 418.4,45.03 418.7,43.89 419,42.96 419.3,43.15 419.6,43.81 419.9,43.65 420.2,42.87 420.5,43.06 420.8,44.01 421.1,44.49 421.4,42.92 421.7,42.36 422,43.65 422.3,42.34 422.6,42.01 422.9,43.41 423.2,44.44 423.5,44.36 423.8,43.66 424.1,43.78 424.4,43.63 424.7,43.46 425,43.57 425.3,43.95 425.6,43.11 425.9,43.1 426.2,43.07 426.5,42.46 426.8,43.19 427.1,43.46 427.4,43.45 427.7,43.67 428,43.9 428.3,43.14 428.6,42.63 428.9,43.51 429.2,44.36 429.5,44.48 429.8,44.07 430.1,44.1 430.4,44.15 430.7,43.22 431,43.37 431.3,43.94 431.6,43.96 431.9,43.35 432.2,42.53 432.5,42.96 432.8,43.26 433.1,43.21 433.4,44.85 433.7,49.94 434,59.52 434.3,73.17 434.6,81.22 434.9,72.75 435.2,66.5 435.5,60.94 435.8,56.15 436.1,53.53 436.4,51.23 436.7,48.77 437,47.76 437.3,47.04 437.6,45.87 437.9,45.02 438.2,44.8 438.5,44.11 438.8,44.17 439.1,43.62 439.4,43.9 439.7,44.3 440,43.76 440.3,43.21 440.6,43.79 440.9,44.23 441.2,44.48 441.5,43.96 441.8,43.7 442.1,44.77 442.4,44.45 442.7,44.33 443,44.88 443.3,43.99 443.6,43.16 443.9,43.46 444.2,43.81 444.5,43.29 444.8,42.76 445.1,43.48 445.4,44.04 445.7,43.56 446,43.88 446.3,44.02 446.6,44.13 446.9,44.17 447.2,44.27 447.5,43.11 447.8,43.76 448.1,44.88 448.4,44.74 448.7,44.98 449,44.33 449.3,42.33 449.6,43.6 449.9,44.71 450.2,43.2 450.5,42.55 450.8,43.56 451.1,43.34 451.4,47.11 451.7,56.95 452,70.83 452.3,88.21 452.6,77.11 452.9,68.69 453.2,62.33 453.5,57.89 453.8,53.8 454.1,51.02 454.4,50.17 454.7,49.3 455,46.84 455.3,45.72 455.6,46.12 455.9,46.63 456.2,45.24 456.5,44.39 456.8,44.55 457.1,44.2 457.4,43.24 457.7,43.34 458,43.7 458.3,43.8 458.6,43.19 458.9,43.61 459.2,44.54 459.5,45.11 459.8,44.69 460.1,45.37 460.4,44.95 460.7,43.96 461,43.67 461.3,44 461.6,44.1 461.9,42.97 462.2,42.51 462.5,43.76 462.8,44.11 463.1,43.28 463.4,43.53 463.7,42.82 464,42.13" fill="none" stroke="#17a050" stroke-width="1.25" stroke-linejoin="round" />
<line x1="400.8" y1="68.6" x2="400.8" y2="90.6" stroke="#231f20" stroke-width="1.1" />
<line x1="403.9" y1="92.5" x2="415.8" y2="92.5" stroke="#231f20" stroke-width="1.1" />
<text x="0" y="0" font-size="9.2" fill="#231f20" font-weight="bold" text-anchor="middle" dominant-baseline="central" transform="translate(395.4,80.8) rotate(-90)">20 pA</text>
<text x="401.8" y="103.6" font-size="9.2" fill="#231f20" font-weight="bold" text-anchor="start" >2 s</text>
<path d="M368.2,119.6 C369.3,119.6 372.95,118.73 374.8,119.6 C376.65,120.47 377.82,123.07 379.3,124.8 C380.78,126.53 381.97,130.68 383.7,130 C385.43,129.32 387.83,121.68 389.7,120.7 C391.57,119.72 393.47,123.85 394.9,124.1 C396.33,124.35 397.32,119.6 398.3,122.2 C399.28,124.8 400.02,132.57 400.8,139.7 C401.58,146.83 402.02,155.25 403,165 C403.98,174.75 405.72,193.15 406.7,198.2 C407.68,203.25 408.28,197.4 408.9,195.3 C409.52,193.2 409.78,187.95 410.4,185.6 C411.02,183.25 411.73,182.18 412.6,181.2 C413.47,180.22 414.72,181.68 415.6,179.7 C416.48,177.72 417.28,172.77 417.9,169.3 C418.52,165.83 418.82,161.87 419.3,158.9 C419.78,155.93 420.18,153.1 420.8,151.5 C421.42,149.9 422.13,149.42 423,149.3 C423.87,149.18 424.38,153.27 426,150.8 C427.62,148.33 431.08,137.1 432.7,134.5 C434.32,131.9 433.97,137.05 435.7,135.2 C437.43,133.35 440.88,124.52 443.1,123.4 C445.32,122.28 447.27,129.37 449,128.5 C450.73,127.63 451.02,119.8 453.5,118.2 C455.98,116.6 462.17,118.78 463.9,118.9" fill="none" stroke="#e3178c" stroke-width="1.1"/>
<path d="M368.2,120.1 C369.55,120.27 374.2,120.07 376.3,121.1 C378.4,122.13 379.32,124.93 380.8,126.3 C382.28,127.67 383.47,130.23 385.2,129.3 C386.93,128.37 389.22,121.82 391.2,120.7 C393.18,119.58 395.82,121.67 397.1,122.6 C398.38,123.53 398.28,122.23 398.9,126.3 C399.52,130.37 400.18,138.88 400.8,147 C401.42,155.12 401.7,164.45 402.6,175 C403.5,185.55 405.15,206.3 406.2,210.3 C407.25,214.3 408.07,202.38 408.9,199 C409.73,195.62 410.52,190.75 411.2,190 C411.88,189.25 412.27,193 413,194.5 C413.73,196 414.67,199.98 415.6,199 C416.53,198.02 417.48,193.05 418.6,188.6 C419.72,184.15 421.32,176.02 422.3,172.3 C423.28,168.58 423.63,167.55 424.5,166.3 C425.37,165.05 426.38,166.28 427.5,164.8 C428.62,163.32 429.83,162.08 431.2,157.4 C432.57,152.72 433.72,142.13 435.7,136.7 C437.68,131.27 440.38,127.4 443.1,124.8 C445.82,122.2 449.78,120.4 452,121.1 C454.22,121.8 454.67,128.87 456.4,129 C458.13,129.13 461.4,123.08 462.4,121.9" fill="none" stroke="#17a050" stroke-width="1.1"/>
<line x1="393.8" y1="213.7" x2="401" y2="211.6" stroke="#17a050" stroke-width="0.9" />
<polygon points="404.2,210.8 400.4,209.6 401.2,213.3" fill="#17a050"/>
<line x1="417.1" y1="205" x2="411" y2="201.5" stroke="#e3178c" stroke-width="0.9" />
<polygon points="408.6,200.2 412.4,200.4 410.6,203.4" fill="#e3178c"/>
<line x1="435.6" y1="173.7" x2="435.6" y2="186" stroke="#231f20" stroke-width="1.1" />
<line x1="437.1" y1="187.8" x2="449" y2="187.8" stroke="#231f20" stroke-width="1.1" />
<text x="0" y="0" font-size="9.2" fill="#231f20" font-weight="bold" text-anchor="middle" dominant-baseline="central" transform="translate(428,178.2) rotate(-90)">5 pA</text>
<text x="428.4" y="199" font-size="9.5" fill="#231f20" font-weight="bold" text-anchor="start" >200 ms</text>
<line x1="242.4" y1="254.6" x2="242.4" y2="367.9" stroke="#3a3a3a" stroke-width="1.1" />
<line x1="241.9" y1="367.3" x2="368.9" y2="367.3" stroke="#3a3a3a" stroke-width="1.1" />
<line x1="242.4" y1="254.4" x2="244.4" y2="254.4" stroke="#3a3a3a" stroke-width="0.9" />
<line x1="242.4" y1="276.98" x2="244.4" y2="276.98" stroke="#3a3a3a" stroke-width="0.9" />
<line x1="242.4" y1="299.56" x2="244.4" y2="299.56" stroke="#3a3a3a" stroke-width="0.9" />
<line x1="242.4" y1="322.14" x2="244.4" y2="322.14" stroke="#3a3a3a" stroke-width="0.9" />
<line x1="242.4" y1="344.72" x2="244.4" y2="344.72" stroke="#3a3a3a" stroke-width="0.9" />
<line x1="242.4" y1="254.6" x2="244.4" y2="254.6" stroke="#3a3a3a" stroke-width="0.9" />
<text x="238.4" y="259.3" font-size="9.5" fill="#231f20" font-weight="bold" text-anchor="end" >1</text>
<text x="238.4" y="281.88" font-size="9.5" fill="#231f20" font-weight="bold" text-anchor="end" >0.8</text>
<text x="238.4" y="304.46" font-size="9.5" fill="#231f20" font-weight="bold" text-anchor="end" >0.6</text>
<text x="238.4" y="327.04" font-size="9.5" fill="#231f20" font-weight="bold" text-anchor="end" >0.4</text>
<text x="238.4" y="349.62" font-size="9.5" fill="#231f20" font-weight="bold" text-anchor="end" >0.2</text>
<text x="238.4" y="372.2" font-size="9.5" fill="#231f20" font-weight="bold" text-anchor="end" >0</text>
<text x="242.4" y="380.1" font-size="9.3" fill="#231f20" font-weight="bold" text-anchor="middle" >-1</text>
<line x1="273.9" y1="367.3" x2="273.9" y2="365.3" stroke="#3a3a3a" stroke-width="0.9" />
<text x="273.9" y="380.1" font-size="9.3" fill="#231f20" font-weight="bold" text-anchor="middle" >-0.5</text>
<line x1="305.4" y1="367.3" x2="305.4" y2="365.3" stroke="#3a3a3a" stroke-width="0.9" />
<text x="305.4" y="380.1" font-size="9.3" fill="#231f20" font-weight="bold" text-anchor="middle" >0</text>
<line x1="336.9" y1="367.3" x2="336.9" y2="365.3" stroke="#3a3a3a" stroke-width="0.9" />
<text x="336.9" y="380.1" font-size="9.3" fill="#231f20" font-weight="bold" text-anchor="middle" >0.5</text>
<text x="368.4" y="380.1" font-size="9.3" fill="#231f20" font-weight="bold" text-anchor="middle" >1</text>
<text x="304.8" y="398.4" font-size="12.8" fill="#231f20" font-weight="bold" text-anchor="middle" >Lag time (s)</text>
<text x="0" y="0" font-size="12.9" fill="#231f20" font-weight="bold" text-anchor="middle" dominant-baseline="central" transform="translate(215.4,310.3) rotate(-90)">Correlation</text>
<line x1="243.4" y1="324.8" x2="369.4" y2="324.8" stroke="#bdbdbd" stroke-width="0.9" stroke-dasharray="4,3"/>
<polyline points="256.42,367.29 256.57,367.25 256.73,367.2 256.89,367.16 257.05,367.11 257.2,367.07 257.36,367.02 257.52,366.98 257.68,366.93 257.83,366.88 257.99,366.83 258.15,366.77 258.31,366.72 258.46,366.67 258.62,366.61 258.78,366.56 258.94,366.5 259.09,366.44 259.25,366.38 259.41,366.32 259.57,366.25 259.72,366.19 259.88,366.13 260.04,366.06 260.2,365.99 260.35,365.92 260.51,365.85 260.67,365.78 260.83,365.7 260.98,365.63 261.14,365.55 261.3,365.47 261.46,365.39 261.61,365.31 261.77,365.23 261.93,365.14 262.09,365.06 262.25,364.97 262.4,364.88 262.56,364.79 262.72,364.7 262.88,364.6 263.03,364.5 263.19,364.4 263.35,364.3 263.5,364.2 263.66,364.1 263.82,363.99 263.98,363.88 264.13,363.77 264.29,363.66 264.45,363.55 264.61,363.43 264.76,363.31 264.92,363.19 265.08,363.07 265.24,362.95 265.39,362.82 265.55,362.69 265.71,362.56 265.87,362.43 266.02,362.29 266.18,362.16 266.34,362.02 266.5,361.87 266.65,361.73 266.81,361.58 266.97,361.43 267.13,361.28 267.28,361.13 267.44,360.97 267.6,360.81 267.76,360.65 267.91,360.48 268.07,360.32 268.23,360.15 268.39,359.97 268.54,359.8 268.7,359.62 268.86,359.44 269.02,359.26 269.17,359.07 269.33,358.89 269.49,358.69 269.65,358.5 269.8,358.3 269.96,358.1 270.12,357.9 270.28,357.7 270.44,357.49 270.59,357.28 270.75,357.06 270.91,356.85 271.06,356.63 271.22,356.4 271.38,356.18 271.54,355.95 271.69,355.72 271.85,355.48 272.01,355.25 272.17,355 272.32,354.76 272.48,354.51 272.64,354.26 272.8,354.01 272.95,353.75 273.11,353.49 273.27,353.23 273.43,352.96 273.58,352.69 273.74,352.42 273.9,352.15 274.06,351.87 274.21,351.59 274.37,351.3 274.53,351.01 274.69,350.72 274.84,350.43 275,350.13 275.16,349.83 275.32,349.52 275.47,349.21 275.63,348.9 275.79,348.59 275.95,348.27 276.1,347.95 276.26,347.63 276.42,347.3 276.58,346.97 276.73,346.64 276.89,346.3 277.05,345.96 277.21,345.62 277.37,345.27 277.52,344.92 277.68,344.57 277.84,344.21 278,343.85 278.15,343.49 278.31,343.13 278.47,342.76 278.62,342.39 278.78,342.01 278.94,341.64 279.1,341.26 279.25,340.87 279.41,340.49 279.57,340.1 279.73,339.71 279.88,339.31 280.04,338.91 280.2,338.51 280.36,338.11 280.51,337.7 280.67,337.3 280.83,336.88 280.99,336.47 281.14,336.05 281.3,335.63 281.46,335.21 281.62,334.79 281.77,334.36 281.93,333.93 282.09,333.5 282.25,333.07 282.4,332.63 282.56,332.19 282.72,331.75 282.88,331.31 283.03,330.86 283.19,330.42 283.35,329.97 283.51,329.51 283.66,329.06 283.82,328.61 283.98,328.15 284.14,327.69 284.29,327.23 284.45,326.77 284.61,326.31 284.77,325.84 284.92,325.37 285.08,324.91 285.24,324.44 285.4,323.97 285.56,323.5 285.71,323.02 285.87,322.55 286.03,322.07 286.19,321.6 286.34,321.12 286.5,320.65 286.66,320.17 286.81,319.69 286.97,319.21 287.13,318.73 287.29,318.25 287.44,317.77 287.6,317.29 287.76,316.81 287.92,316.33 288.07,315.85 288.23,315.36 288.39,314.88 288.55,314.4 288.7,313.92 288.86,313.44 289.02,312.96 289.18,312.48 289.33,312.01 289.49,311.53 289.65,311.05 289.81,310.57 289.96,310.1 290.12,309.63 290.28,309.15 290.44,308.68 290.59,308.21 290.75,307.74 290.91,307.28 291.07,306.81 291.22,306.35 291.38,305.88 291.54,305.42 291.7,304.96 291.85,304.51 292.01,304.05 292.17,303.6 292.33,303.15 292.48,302.71 292.64,302.26 292.8,301.82 292.96,301.38 293.12,300.94 293.27,300.51 293.43,300.08 293.59,299.65 293.75,299.22 293.9,298.8 294.06,298.39 294.22,297.97 294.38,297.56 294.53,297.15 294.69,296.75 294.85,296.35 295,295.95 295.16,295.56 295.32,295.17 295.48,294.79 295.63,294.41 295.79,294.03 295.95,293.66 296.11,293.29 296.26,292.93 296.42,292.57 296.58,292.22 296.74,291.87 296.89,291.53 297.05,291.19 297.21,290.85 297.37,290.53 297.52,290.2 297.68,289.88 297.84,289.57 298,289.26 298.15,288.96 298.31,288.67 298.47,288.38 298.63,288.09 298.78,287.81 298.94,287.54 299.1,287.27 299.26,287.01 299.41,286.75 299.57,286.5 299.73,286.26 299.89,286.02 300.04,285.79 300.2,285.57 300.36,285.35 300.52,285.14 300.67,284.93 300.83,284.73 300.99,284.54 301.15,284.35 301.31,284.17 301.46,284 301.62,283.83 301.78,283.68 301.94,283.52 302.09,283.38 302.25,283.24 302.41,283.11 302.56,282.98 302.72,282.86 302.88,282.75 303.04,282.65 303.19,282.55 303.35,282.46 303.51,282.38 303.67,282.31 303.82,282.24 303.98,282.18 304.14,282.12 304.3,282.08 304.45,282.04 304.61,282 304.77,281.98 304.93,281.96 305.08,281.95 305.24,281.95 305.4,281.95 305.56,281.96 305.71,281.98 305.87,282 306.03,282.04 306.19,282.08 306.34,282.12 306.5,282.17 306.66,282.23 306.82,282.3 306.97,282.37 307.13,282.46 307.29,282.54 307.45,282.64 307.6,282.74 307.76,282.85 307.92,282.96 308.08,283.08 308.23,283.21 308.39,283.35 308.55,283.49 308.71,283.64 308.86,283.79 309.02,283.96 309.18,284.12 309.34,284.3 309.49,284.48 309.65,284.67 309.81,284.86 309.97,285.06 310.12,285.27 310.28,285.48 310.44,285.7 310.6,285.93 310.75,286.16 310.91,286.4 311.07,286.64 311.23,286.89 311.38,287.14 311.54,287.4 311.7,287.67 311.86,287.94 312.01,288.22 312.17,288.5 312.33,288.79 312.49,289.09 312.64,289.39 312.8,289.69 312.96,290 313.12,290.32 313.27,290.64 313.43,290.96 313.59,291.29 313.75,291.63 313.9,291.97 314.06,292.31 314.22,292.66 314.38,293.02 314.53,293.38 314.69,293.74 314.85,294.11 315.01,294.48 315.16,294.85 315.32,295.23 315.48,295.62 315.64,296 315.79,296.39 315.95,296.79 316.11,297.19 316.27,297.59 316.42,297.99 316.58,298.4 316.74,298.82 316.9,299.23 317.06,299.65 317.21,300.07 317.37,300.5 317.53,300.92 317.69,301.35 317.84,301.79 318,302.22 318.16,302.66 318.31,303.1 318.47,303.54 318.63,303.99 318.79,304.44 318.94,304.89 319.1,305.34 319.26,305.79 319.42,306.25 319.57,306.7 319.73,307.16 319.89,307.62 320.05,308.08 320.2,308.55 320.36,309.01 320.52,309.48 320.68,309.94 320.83,310.41 320.99,310.88 321.15,311.35 321.31,311.82 321.46,312.29 321.62,312.76 321.78,313.24 321.94,313.71 322.09,314.18 322.25,314.66 322.41,315.13 322.57,315.6 322.72,316.08 322.88,316.55 323.04,317.03 323.2,317.5 323.35,317.97 323.51,318.45 323.67,318.92 323.83,319.39 323.98,319.86 324.14,320.34 324.3,320.81 324.46,321.28 324.61,321.75 324.77,322.22 324.93,322.68 325.09,323.15 325.24,323.62 325.4,324.08 325.56,324.54 325.72,325 325.88,325.47 326.03,325.93 326.19,326.38 326.35,326.84 326.5,327.29 326.66,327.75 326.82,328.2 326.98,328.65 327.13,329.1 327.29,329.54 327.45,329.99 327.61,330.43 327.76,330.87 327.92,331.31 328.08,331.75 328.24,332.18 328.39,332.61 328.55,333.04 328.71,333.47 328.87,333.9 329.02,334.32 329.18,334.74 329.34,335.16 329.5,335.58 329.65,335.99 329.81,336.4 329.97,336.81 330.13,337.22 330.28,337.62 330.44,338.02 330.6,338.42 330.76,338.81 330.91,339.21 331.07,339.6 331.23,339.98 331.39,340.37 331.54,340.75 331.7,341.13 331.86,341.5 332.02,341.88 332.17,342.25 332.33,342.61 332.49,342.98 332.65,343.34 332.81,343.7 332.96,344.05 333.12,344.4 333.28,344.75 333.44,345.1 333.59,345.44 333.75,345.78 333.91,346.12 334.06,346.45 334.22,346.78 334.38,347.11 334.54,347.43 334.69,347.75 334.85,348.07 335.01,348.39 335.17,348.7 335.32,349.01 335.48,349.31 335.64,349.61 335.8,349.91 335.95,350.21 336.11,350.5 336.27,350.79 336.43,351.08 336.58,351.36 336.74,351.64 336.9,351.92 337.06,352.19 337.21,352.47 337.37,352.73 337.53,353 337.69,353.26 337.84,353.52 338,353.77 338.16,354.03 338.32,354.28 338.47,354.52 338.63,354.77 338.79,355.01 338.95,355.25 339.11,355.48 339.26,355.71 339.42,355.94 339.58,356.17 339.73,356.39 339.89,356.61 340.05,356.83 340.21,357.04 340.36,357.25 340.52,357.46 340.68,357.66 340.84,357.87 341,358.07 341.15,358.26 341.31,358.46 341.47,358.65 341.62,358.84 341.78,359.03 341.94,359.21 342.1,359.39 342.25,359.57 342.41,359.74 342.57,359.92 342.73,360.09 342.88,360.26 343.04,360.42 343.2,360.58 343.36,360.74 343.51,360.9 343.67,361.06 343.83,361.21 343.99,361.36 344.14,361.51 344.3,361.66 344.46,361.8 344.62,361.94 344.77,362.08 344.93,362.22 345.09,362.35 345.25,362.49 345.4,362.62 345.56,362.74 345.72,362.87 345.88,362.99 346.03,363.12 346.19,363.24 346.35,363.35 346.51,363.47 346.66,363.58 346.82,363.69 346.98,363.8 347.14,363.91 347.29,364.02 347.45,364.12 347.61,364.22 347.77,364.32 347.92,364.42 348.08,364.52 348.24,364.61 348.4,364.71 348.55,364.8 348.71,364.89 348.87,364.98 349.03,365.06 349.19,365.15 349.34,365.23 349.5,365.31 349.66,365.39 349.81,365.47 349.97,365.55 350.13,365.63 350.29,365.7 350.44,365.77 350.6,365.85 350.76,365.92 350.92,365.98 351.07,366.05 351.23,366.12 351.39,366.18 351.55,366.24 351.7,366.31 351.86,366.37 352.02,366.43 352.18,366.49 352.33,366.54 352.49,366.6 352.65,366.65 352.81,366.71 352.96,366.76 353.12,366.81 353.28,366.86 353.44,366.91 353.59,366.96 353.75,367.01 353.91,367.05 354.07,367.1 354.22,367.14 354.38,367.19 354.54,367.23 354.7,367.27" fill="none" stroke="#2d56b5" stroke-width="1.3" stroke-linejoin="round" />
<line x1="305.24" y1="250.6" x2="305.24" y2="367.3" stroke="#6284c8" stroke-width="1.1" stroke-dasharray="11.5,11.2"/>
<line x1="292.8" y1="260.1" x2="300.5" y2="260.1" stroke="#231f20" stroke-width="0.9" />
<polygon points="304.0,260.1 299.6,257.9 299.6,262.3" fill="#231f20"/>
<line x1="317.6" y1="260.1" x2="310.2" y2="260.1" stroke="#231f20" stroke-width="0.9" />
<polygon points="306.6,260.1 311.0,257.9 311.0,262.3" fill="#231f20"/>
<text x="319.8" y="263.1" font-size="9.5" fill="#231f20" font-weight="bold" text-anchor="start" >-2.6 ms</text>
<line x1="497.78" y1="48" x2="497.78" y2="57.81" stroke="#bcbcbc" stroke-width="0.7" />
<line x1="546.16" y1="48" x2="546.16" y2="62.25" stroke="#bcbcbc" stroke-width="0.7" />
<line x1="519" y1="48" x2="519" y2="59.81" stroke="#bcbcbc" stroke-width="0.7" />
<line x1="553.3" y1="48" x2="553.3" y2="59.63" stroke="#bcbcbc" stroke-width="0.7" />
<line x1="499.72" y1="48" x2="499.72" y2="57.62" stroke="#bcbcbc" stroke-width="0.7" />
<line x1="484.54" y1="48" x2="484.54" y2="56.36" stroke="#bcbcbc" stroke-width="0.7" />
<line x1="484.36" y1="48" x2="484.36" y2="63.55" stroke="#bcbcbc" stroke-width="0.7" />
<line x1="519.16" y1="48" x2="519.16" y2="54.22" stroke="#bcbcbc" stroke-width="0.7" />
<line x1="585.43" y1="48" x2="585.43" y2="56.62" stroke="#bcbcbc" stroke-width="0.7" />
<line x1="538.86" y1="48" x2="538.86" y2="62.28" stroke="#bcbcbc" stroke-width="0.7" />
<line x1="540.2" y1="48" x2="540.2" y2="56.1" stroke="#bcbcbc" stroke-width="0.7" />
<line x1="565.79" y1="48" x2="565.79" y2="54.92" stroke="#bcbcbc" stroke-width="0.7" />
<line x1="496" y1="48" x2="496" y2="60.33" stroke="#bcbcbc" stroke-width="0.7" />
<line x1="537.19" y1="48" x2="537.19" y2="63.97" stroke="#bcbcbc" stroke-width="0.7" />
<line x1="542.97" y1="48" x2="542.97" y2="62.65" stroke="#bcbcbc" stroke-width="0.7" />
<line x1="483.1" y1="48" x2="483.1" y2="51.3" stroke="#bcbcbc" stroke-width="0.7" />
<line x1="519" y1="47" x2="519" y2="63.4" stroke="#b5b5b5" stroke-width="0.8" />
<line x1="522" y1="47" x2="522" y2="60.4" stroke="#b5b5b5" stroke-width="0.8" />
<line x1="551.8" y1="47" x2="551.8" y2="56.4" stroke="#b5b5b5" stroke-width="0.8" />
<line x1="584.6" y1="47" x2="584.6" y2="62.5" stroke="#b5b5b5" stroke-width="0.8" />
<line x1="489.3" y1="47" x2="489.3" y2="123.3" stroke="#b5b5b5" stroke-width="0.8" />
<line x1="506.1" y1="47" x2="506.1" y2="129.4" stroke="#b5b5b5" stroke-width="0.8" />
<line x1="577.5" y1="47" x2="577.5" y2="97" stroke="#b5b5b5" stroke-width="0.8" />
<polygon points="476.7,38.97 477.1,40.04 477.5,39.25 477.9,39.54 478.3,39 478.7,38.96 479.1,38.93 479.5,38.82 479.9,38.28 480.3,39.69 480.7,38.88 481.1,40.22 481.5,39.5 481.9,38.54 482.3,38.85 482.7,38.6 483.1,39.86 483.5,38.76 483.9,39.43 484.3,39.15 484.7,39.01 485.1,40.11 485.5,39.33 485.9,38.88 486.3,38.58 486.7,38.86 487.1,38.62 487.5,39.66 487.9,39.84 488.3,41.51 488.7,50.65 489.1,66.74 489.5,67.7 489.9,62.52 490.3,59.84 490.7,55.38 491.1,53.75 491.5,50.83 491.9,50.12 492.3,48.46 492.7,46.37 493.1,45.79 493.5,45.1 493.9,43.84 494.3,42.58 494.7,41.68 495.1,42.86 495.5,40.71 495.9,40.6 496.3,41.58 496.7,39.72 497.1,39.71 497.5,40.03 497.9,39.39 498.3,39.01 498.7,40.52 499.1,39.1 499.5,40.65 499.9,38.68 500.3,39.12 500.7,39.72 501.1,38.64 501.5,39.44 501.9,39.43 502.3,39.66 502.7,40.35 503.1,39.2 503.5,40.28 503.9,38.75 504.3,39.7 504.7,39.19 505.1,42.82 505.5,55.03 505.9,78.76 506.3,79.55 506.7,73.95 507.1,69.55 507.5,65.45 507.9,61.2 508.3,58.97 508.7,55.33 509.1,54.22 509.5,52.23 509.9,48.56 510.3,48.42 510.7,47.64 511.1,44.78 511.5,45.37 511.9,44.24 512.3,43.42 512.7,42.3 513.1,42.82 513.5,41.26 513.9,40.81 514.3,40.86 514.7,42 515.1,40.48 515.5,39.71 515.9,40.1 516.3,40.76 516.7,40.32 517.1,40.42 517.5,40.57 517.9,39.31 518.3,39.37 518.7,40.43 519.1,39.34 519.5,39.58 519.9,40.25 520.3,39.77 520.7,40.37 521.1,38.37 521.5,39.68 521.9,39.42 522.3,39.19 522.7,38.93 523.1,39.09 523.5,40.05 523.9,39.3 524.3,38.72 524.7,39.76 525.1,40.03 525.5,39.12 525.9,38.51 526.3,39.86 526.7,39.74 527.1,39.74 527.5,38.24 527.9,38.47 528.3,40.34 528.7,39.43 529.1,38.78 529.5,38.31 529.9,39.25 530.3,38.92 530.7,38.55 531.1,39.61 531.5,38.6 531.9,40.29 532.3,38.71 532.7,40.16 533.1,38.98 533.5,38.84 533.9,39.87 534.3,39.31 534.7,38.51 535.1,40.05 535.5,39.41 535.9,39.45 536.3,39.03 536.7,40.02 537.1,39.55 537.5,38.36 537.9,40.15 538.3,39.45 538.7,38.8 539.1,38.29 539.5,38.29 539.9,38.47 540.3,38.77 540.7,39.36 541.1,38.7 541.5,39.93 541.9,39.36 542.3,39.14 542.7,39.14 543.1,38.73 543.5,39.38 543.9,38.71 544.3,38.91 544.7,39.32 545.1,39.6 545.5,38.92 545.9,39.79 546.3,38.99 546.7,40.21 547.1,38.53 547.5,39.47 547.9,38.98 548.3,39.2 548.7,38.45 549.1,38.94 549.5,38.62 549.9,39.69 550.3,39.91 550.7,39.93 551.1,40.21 551.5,39.04 551.9,39.61 552.3,40.3 552.7,39.3 553.1,39.34 553.5,39.64 553.9,38.27 554.3,40.07 554.7,39.12 555.1,39.86 555.5,38.49 555.9,39.28 556.3,39.45 556.7,39.9 557.1,39.51 557.5,39.57 557.9,40.23 558.3,38.8 558.7,39.19 559.1,40.14 559.5,39.2 559.9,39.5 560.3,39.31 560.7,40.34 561.1,39.69 561.5,39.9 561.9,38.27 562.3,39.07 562.7,39.84 563.1,38.57 563.5,39.92 563.9,40.23 564.3,39.87 564.7,39.79 565.1,38.81 565.5,38.47 565.9,40.26 566.3,39.13 566.7,40.18 567.1,39.67 567.5,40.25 567.9,38.26 568.3,39.96 568.7,39.83 569.1,39.44 569.5,38.56 569.9,38.65 570.3,40.24 570.7,39.06 571.1,39.86 571.5,40.35 571.9,38.7 572.3,38.35 572.7,38.28 573.1,39.15 573.5,40.01 573.9,39.96 574.3,39.5 574.7,38.21 575.1,38.74 575.5,42.75 575.9,55.43 576.3,76.49 576.7,70.44 577.1,66.54 577.5,62 577.9,58.49 578.3,55.32 578.7,53.92 579.1,50.67 579.5,48.56 579.9,47.3 580.3,45.93 580.7,45.04 581.1,44.18 581.5,43.05 581.9,43.27 582.3,41.66 582.7,42.84 583.1,42.38 583.5,41.18 583.9,41.41 584.3,40.03 584.7,39.99 585.1,41.17 585.5,40.06 585.9,40.53 586.3,40.58 586.7,40.24 587.1,39.62 587.5,39.39 587.9,38.63 588.3,40.36 588.7,39.94 589.1,38.52 589.5,40.19 589.9,38.96 590.3,40.18 590.7,38.62 591.1,38.33 591.5,40.16 591.9,40.21 592.3,39.33 592.7,40.25 593.1,38.43 593.5,38.56 593.9,40.36 594.3,40.29 594.7,39.75 595.1,38.95 595.5,39.78 595.9,38.21 596.3,38.99 596.7,40.08 597.1,38.71 597.5,38.49 597.9,39.29 597.9,46.84 597.5,49.03 597.1,47.32 596.7,48.67 596.3,48.77 595.9,47.66 595.5,49.04 595.1,48.23 594.7,47.19 594.3,49.18 593.9,47.74 593.5,48.18 593.1,47.91 592.7,48.72 592.3,48.36 591.9,48.67 591.5,48.88 591.1,47.11 590.7,48.2 590.3,48.97 589.9,47.55 589.5,48.55 589.1,47.6 588.7,47.59 588.3,48.58 587.9,49.36 587.5,49.2 587.1,47.6 586.7,49.1 586.3,48.6 585.9,49.94 585.5,48.08 585.1,49.58 584.7,48.32 584.3,49.39 583.9,50.45 583.5,51.18 583.1,50.13 582.7,50.78 582.3,53.07 581.9,52.54 581.5,53.51 581.1,54.76 580.7,54.84 580.3,56.16 579.9,58.16 579.5,61.35 579.1,62.7 578.7,66.86 578.3,70.42 577.9,73.95 577.5,77.7 577.1,84.54 576.7,89.7 576.3,97.59 575.9,69.71 575.5,52.88 575.1,46.71 574.7,48.93 574.3,48.13 573.9,47.84 573.5,48.74 573.1,48.73 572.7,49.1 572.3,48.37 571.9,48.9 571.5,48.76 571.1,48.24 570.7,48.83 570.3,47.56 569.9,47.57 569.5,48.07 569.1,47.5 568.7,46.78 568.3,47.86 567.9,48 567.5,48.57 567.1,47.46 566.7,48.85 566.3,47.98 565.9,46.95 565.5,49.13 565.1,46.93 564.7,48.05 564.3,47.78 563.9,46.88 563.5,48.07 563.1,47.45 562.7,47.86 562.3,48.19 561.9,47.86 561.5,47.51 561.1,47.09 560.7,49.1 560.3,46.93 559.9,47.91 559.5,48.1 559.1,48.32 558.7,46.85 558.3,49.13 557.9,47.41 557.5,47.4 557.1,47.91 556.7,48.14 556.3,48.16 555.9,48.04 555.5,48.37 555.1,48.01 554.7,46.96 554.3,47.93 553.9,48.66 553.5,48.17 553.1,48.34 552.7,47.49 552.3,46.76 551.9,48.9 551.5,47.19 551.1,48.13 550.7,47.31 550.3,48.14 549.9,47.17 549.5,48.87 549.1,47.67 548.7,47.79 548.3,46.76 547.9,46.86 547.5,48.76 547.1,47.78 546.7,49.07 546.3,48.86 545.9,47.85 545.5,46.81 545.1,47.45 544.7,47.53 544.3,47.37 543.9,46.75 543.5,48.29 543.1,49.17 542.7,47.73 542.3,47.11 541.9,48.59 541.5,46.8 541.1,47.53 540.7,47.82 540.3,49.04 539.9,48.76 539.5,49.02 539.1,47.97 538.7,49.17 538.3,48.65 537.9,47.79 537.5,48.24 537.1,47.22 536.7,46.72 536.3,48.74 535.9,46.8 535.5,49.13 535.1,47.95 534.7,48.48 534.3,47.75 533.9,48.87 533.5,48.03 533.1,47.54 532.7,47.68 532.3,48.01 531.9,47.54 531.5,49.19 531.1,48.92 530.7,47.46 530.3,47.3 529.9,48.29 529.5,47.45 529.1,48.09 528.7,47.65 528.3,47.35 527.9,47.14 527.5,47.52 527.1,48.57 526.7,47.09 526.3,48.84 525.9,48.9 525.5,47.63 525.1,48.53 524.7,48.94 524.3,48.87 523.9,48.2 523.5,47.2 523.1,48.69 522.7,49.06 522.3,47.69 521.9,47.32 521.5,48.74 521.1,47.18 520.7,47.83 520.3,47.52 519.9,48.87 519.5,48.67 519.1,49.22 518.7,47.47 518.3,49.29 517.9,49.01 517.5,48.62 517.1,49.7 516.7,49.72 516.3,48.83 515.9,49.67 515.5,50.6 515.1,50.65 514.7,51.01 514.3,52.56 513.9,52.3 513.5,53.7 513.1,54.15 512.7,53.55 512.3,56.28 511.9,56.92 511.5,56.86 511.1,60.53 510.7,62.31 510.3,64.94 509.9,66.1 509.5,68.87 509.1,72.99 508.7,78.67 508.3,82.91 507.9,88.87 507.5,94.97 507.1,104.15 506.7,112.83 506.3,122.25 505.9,118.69 505.5,75.62 505.1,52.67 504.7,47.87 504.3,49.3 503.9,49.27 503.5,49.13 503.1,48.04 502.7,48.1 502.3,49.51 501.9,49.48 501.5,49.4 501.1,48.86 500.7,48.3 500.3,48.09 499.9,49.35 499.5,47.78 499.1,49.71 498.7,48.45 498.3,49.11 497.9,48.94 497.5,50.26 497.1,49.75 496.7,51.17 496.3,51.05 495.9,53.22 495.5,53.95 495.1,55.37 494.7,55.15 494.3,57.27 493.9,58.47 493.5,60.94 493.1,62.86 492.7,66.07 492.3,69.22 491.9,72.96 491.5,78.27 491.1,83.43 490.7,89.62 490.3,96.4 489.9,105.9 489.5,116.1 489.1,113.55 488.7,75.48 488.3,51.75 487.9,48.75 487.5,48.25 487.1,46.78 486.7,48.24 486.3,46.73 485.9,46.94 485.5,47.32 485.1,48.07 484.7,48.66 484.3,49.11 483.9,47.86 483.5,47.39 483.1,47.18 482.7,47.91 482.3,48.22 481.9,47 481.5,47.26 481.1,47.11 480.7,47.16 480.3,48.42 479.9,47.33 479.5,47.94 479.1,47.11 478.7,48.24 478.3,48.66 477.9,46.93 477.5,47.16 477.1,48.42 476.7,47.52" fill="#a3a3a3"/>
<polyline points="476.9,42.04 477.2,48.48 477.5,49 477.8,45.24 478.1,44.12 478.4,46.79 478.7,42.37 479,44.1 479.3,41.74 479.6,45.43 479.9,44.98 480.2,43.73 480.5,43.25 480.8,41.58 481.1,42.91 481.4,46.87 481.7,43.82 482,46.93 482.3,42.83 482.6,44.35 482.9,43.62 483.2,44 483.5,45.99 483.8,40.55 484.1,45.93 484.4,45.84 484.7,44.51 485,44.65 485.3,44.08 485.6,45.84 485.9,44.62 486.2,42.87 486.5,44.8 486.8,46.34 487.1,45.22 487.4,44.56 487.7,44.9 488,43.55 488.3,43.62 488.6,40.88 488.9,44.15 489.2,46.4 489.5,43.76 489.8,42.76 490.1,46.23 490.4,44.82 490.7,44.78 491,45.41 491.3,45.85 491.6,44.42 491.9,42.91 492.2,47.85 492.5,44.61 492.8,43.02 493.1,44.86 493.4,46.79 493.7,41.79 494,47.02 494.3,44.25 494.6,48.33 494.9,45.78 495.2,44.3 495.5,46.91 495.8,46.94 496.1,43.84 496.4,44.95 496.7,43.52 497,46.26 497.3,41.82 497.6,44.17 497.9,40.43 498.2,45.64 498.5,40.25 498.8,42.49 499.1,45.01 499.4,43.83 499.7,43.66 500,42.66 500.3,43.61 500.6,41.16 500.9,45.12 501.2,46.05 501.5,45.96 501.8,44.44 502.1,46.84 502.4,45.39 502.7,46.34 503,45.26 503.3,44.57 503.6,43.06 503.9,40 504.2,45.74 504.5,44.29 504.8,48.3 505.1,40.73 505.4,46.11 505.7,42.7 506,44.5 506.3,42.82 506.6,45.17 506.9,44.45 507.2,46.18 507.5,44.79 507.8,45.42 508.1,46.94 508.4,45.5 508.7,44.26 509,46.87 509.3,44.3 509.6,45.29 509.9,43.9 510.2,43.25 510.5,40 510.8,45.83 511.1,42.32 511.4,45.91 511.7,47.95 512,42 512.3,46.18 512.6,44.33 512.9,45.38 513.2,42.24 513.5,44.57 513.8,44.81 514.1,47.24 514.4,48.59 514.7,45.11 515,43.82 515.3,48.74 515.6,44.32 515.9,44.41 516.2,44.71 516.5,45.4 516.8,45.87 517.1,43.43 517.4,44.31 517.7,48.1 518,47.57 518.3,45.37 518.6,45.04 518.9,44.09 519.2,46.48 519.5,43.55 519.8,44.76 520.1,43.66 520.4,43.34 520.7,44.6 521,44.54 521.3,43.43 521.6,44.41 521.9,44.66 522.2,43.64 522.5,43.29 522.8,44.27 523.1,45.86 523.4,46.64 523.7,44.88 524,44.02 524.3,44.47 524.6,48.16 524.9,46.27 525.2,42.72 525.5,44.43 525.8,43.53 526.1,43.84 526.4,41.33 526.7,44.59 527,41.95 527.3,43.41 527.6,47.42 527.9,46.43 528.2,42.88 528.5,42.57 528.8,42.8 529.1,40.95 529.4,42.67 529.7,44.02 530,42.54 530.3,45.97 530.6,44.44 530.9,43.52 531.2,47.86 531.5,45.88 531.8,44.67 532.1,48.05 532.4,47.04 532.7,43.19 533,45.15 533.3,43.7 533.6,41.8 533.9,48.15 534.2,47.39 534.5,42.12 534.8,45.47 535.1,41.41 535.4,46.58 535.7,44.44 536,43.98 536.3,46.94 536.6,44.56 536.9,44.04 537.2,46.28 537.5,43.96 537.8,46.2 538.1,44.54 538.4,46.12 538.7,45.74 539,46.05 539.3,42.61 539.6,48.14 539.9,44.23 540.2,47.91 540.5,43.4 540.8,44.02 541.1,44.04 541.4,46.75 541.7,43.72 542,45.34 542.3,41.54 542.6,43.62 542.9,44.97 543.2,44.33 543.5,40.94 543.8,45.5 544.1,42.69 544.4,48.26 544.7,44.17 545,48.88 545.3,45.81 545.6,45.42 545.9,43.62 546.2,44.31 546.5,45.41 546.8,40.79 547.1,46.45 547.4,42.29 547.7,44.04 548,40 548.3,45.41 548.6,45.98 548.9,45.08 549.2,45.16 549.5,43.82 549.8,44.83 550.1,46.87 550.4,43.72 550.7,45.51 551,45.94 551.3,44.08 551.6,45 551.9,44.96 552.2,43.58 552.5,49 552.8,43.7 553.1,47.84 553.4,46.6 553.7,40.61 554,45.02 554.3,46.53 554.6,46.11 554.9,42.79 555.2,45.04 555.5,42.22 555.8,42.53 556.1,44.07 556.4,44.9 556.7,47.64 557,45.23 557.3,46.59 557.6,42.21 557.9,42.3 558.2,43.59 558.5,47.93 558.8,41.94 559.1,41.47 559.4,44.39 559.7,46.84 560,41.37 560.3,44.04 560.6,41.9 560.9,47.34 561.2,45.87 561.5,45.06 561.8,44.44 562.1,44.07 562.4,44.8 562.7,43.27 563,42.82 563.3,42.37 563.6,44.55 563.9,42.98 564.2,46.23 564.5,40.44 564.8,45.63 565.1,45.56 565.4,46.89 565.7,44.04 566,41.61 566.3,42.73 566.6,46.73 566.9,43.93 567.2,43.72 567.5,43.39 567.8,44.4 568.1,44.08 568.4,41.49 568.7,43.36 569,46.48 569.3,47.34 569.6,44.29 569.9,43.52 570.2,47.16 570.5,44.18 570.8,42.23 571.1,44.28 571.4,45.87 571.7,47.55 572,43.57 572.3,45.57 572.6,43.88 572.9,46.74 573.2,45.02 573.5,45.03 573.8,42.61 574.1,43.9 574.4,43.89 574.7,40 575,46.19 575.3,44.5 575.6,44.11 575.9,43.82 576.2,44.57 576.5,44.99 576.8,41.98 577.1,44.76 577.4,44.74 577.7,44.57 578,41.63 578.3,44.25 578.6,42.02 578.9,45.2 579.2,47.08 579.5,46.21 579.8,43.86 580.1,43.46 580.4,43.42 580.7,45.2 581,43.22 581.3,43.47 581.6,40 581.9,42.86 582.2,42.99 582.5,43.47 582.8,46.88 583.1,41.88 583.4,41.93 583.7,45.68 584,42.6 584.3,44.2 584.6,44.85 584.9,44.54 585.2,43 585.5,46.3 585.8,47.43 586.1,42.56 586.4,43.98 586.7,46.34 587,44.11 587.3,42.57 587.6,43.68 587.9,46.13 588.2,42.58 588.5,45.01 588.8,45.25 589.1,43.24 589.4,45.61 589.7,45.81 590,46.45 590.3,46.32 590.6,41.61 590.9,46.25 591.2,45.64 591.5,46.41 591.8,42.86 592.1,46.27 592.4,45.24 592.7,42.26 593,46.99 593.3,43 593.6,42.54 593.9,45.28 594.2,43.34 594.5,45.22 594.8,44.04 595.1,45.06 595.4,46.1 595.7,44.45 596,46.2 596.3,46.16 596.6,42.89 596.9,46.18 597.2,45.72 597.5,44.78" fill="none" stroke="#969696" stroke-width="0.45" stroke-linejoin="round" />
<line x1="487.6" y1="36" x2="487.6" y2="189" stroke="#4a4a4a" stroke-width="1.1" stroke-dasharray="3.4,2.4"/>
<line x1="505.3" y1="36" x2="505.3" y2="189" stroke="#4a4a4a" stroke-width="1.1" stroke-dasharray="3.4,2.4"/>
<line x1="574.8" y1="36" x2="574.8" y2="189" stroke="#4a4a4a" stroke-width="1.1" stroke-dasharray="3.4,2.4"/>
<polyline points="476.7,44.53 477.1,44.52 477.5,44.48 477.9,44.53 478.3,44.49 478.7,44.55 479.1,44.38 479.5,44.28 479.9,44.57 480.3,44.62 480.7,44.79 481.1,44.91 481.5,44.86 481.9,44.92 482.3,44.43 482.7,44.2 483.1,44.33 483.5,44.19 483.9,44.32 484.3,44.4 484.7,44.16 485.1,44.2 485.5,44.56 485.9,44.74 486.3,44.98 486.7,44.81 487.1,44.83 487.5,44.55 487.9,46.06 488.3,54.08 488.7,67.9 489.1,80.96 489.5,76.64 489.9,72.84 490.3,69.54 490.7,66.5 491.1,63.93 491.5,61.52 491.9,59.27 492.3,57.72 492.7,55.82 493.1,54.58 493.5,53.37 493.9,52.15 494.3,51.43 494.7,50.68 495.1,49.85 495.5,49.37 495.9,48.69 496.3,48.31 496.7,47.86 497.1,47.46 497.5,47.09 497.9,46.38 498.3,46.04 498.7,45.86 499.1,45.36 499.5,45.06 499.9,44.68 500.3,44.41 500.7,44.38 501.1,43.99 501.5,44.2 501.9,43.94 502.3,43.9 502.7,43.94 503.1,44.01 503.5,44.26 503.9,44.16 504.3,43.75 504.7,44.29 505.1,50.78 505.5,65.71 505.9,89.36 506.3,92.3 506.7,86.61 507.1,81.99 507.5,77.85 507.9,74.55 508.3,71.49 508.7,68.33 509.1,65.83 509.5,63.29 509.9,60.98 510.3,59.49 510.7,57.66 511.1,56.14 511.5,54.53 511.9,53.23 512.3,52.36 512.7,51.46 513.1,50.75 513.5,50.22 513.9,49.74 514.3,48.93 514.7,48.32 515.1,47.95 515.5,47.48 515.9,47.16 516.3,47.02 516.7,47.02 517.1,46.65 517.5,46.24 517.9,46.28 518.3,46.38 518.7,46.18 519.1,46.14 519.5,45.76 519.9,45.5 520.3,45.08 520.7,45.06 521.1,44.85 521.5,44.67 521.9,44.63 522.3,44.59 522.7,44.57 523.1,44.49 523.5,44.18 523.9,44.13 524.3,44.11 524.7,44.25 525.1,44.5 525.5,44.49 525.9,44.63 526.3,44.57 526.7,44.7 527.1,44.84 527.5,45 527.9,44.95 528.3,44.73 528.7,44.66 529.1,44.52 529.5,44.43 529.9,44.23 530.3,44.37 530.7,44.51 531.1,44.39 531.5,44.36 531.9,44.32 532.3,44.06 532.7,44.21 533.1,43.91 533.5,44.09 533.9,43.9 534.3,43.78 534.7,43.73 535.1,43.82 535.5,44.08 535.9,44.33 536.3,44.14 536.7,44.15 537.1,43.83 537.5,44.11 537.9,44.05 538.3,43.91 538.7,44.07 539.1,43.75 539.5,43.78 539.9,43.9 540.3,44.11 540.7,44.47 541.1,44.04 541.5,44.01 541.9,44.19 542.3,44.04 542.7,44.23 543.1,44.19 543.5,43.97 543.9,43.66 544.3,43.59 544.7,43.74 545.1,44.01 545.5,44.3 545.9,44.32 546.3,44.4 546.7,44.22 547.1,44.44 547.5,44.76 547.9,44.74 548.3,44.89 548.7,44.64 549.1,44.44 549.5,44.49 549.9,44.62 550.3,44.5 550.7,44.37 551.1,44.61 551.5,44.53 551.9,44.35 552.3,44.73 552.7,44.98 553.1,44.94 553.5,44.64 553.9,44.8 554.3,44.76 554.7,44.36 555.1,44.31 555.5,44.39 555.9,44.16 556.3,43.89 556.7,43.88 557.1,43.81 557.5,43.99 557.9,44.07 558.3,44.11 558.7,44.18 559.1,44.2 559.5,44.2 559.9,44.12 560.3,44.22 560.7,44.52 561.1,44.38 561.5,44.34 561.9,44.27 562.3,44.29 562.7,44.31 563.1,44.41 563.5,44.45 563.9,44.34 564.3,44.1 564.7,44.17 565.1,44.03 565.5,44.2 565.9,44.22 566.3,44.04 566.7,43.97 567.1,43.92 567.5,44.01 567.9,44.04 568.3,44.07 568.7,44.42 569.1,44.43 569.5,44.53 569.9,44.56 570.3,44.47 570.7,44.25 571.1,44.16 571.5,44.07 571.9,44.02 572.3,43.55 572.7,43.41 573.1,43.32 573.5,43.46 573.9,43.28 574.3,43.48 574.7,43.83 575.1,44.97 575.5,52.08 575.9,66.19 576.3,87.49 576.7,82.44 577.1,77.9 577.5,74.2 577.9,70.87 578.3,67.44 578.7,64.71 579.1,62.05 579.5,60.6 579.9,58.8 580.3,56.99 580.7,55.69 581.1,54.42 581.5,53.28 581.9,52.18 582.3,51.22 582.7,50.76 583.1,49.59 583.5,48.99 583.9,48.5 584.3,47.8 584.7,47.2 585.1,46.54 585.5,46.35 585.9,46.06 586.3,45.86 586.7,45.78 587.1,45.52 587.5,45.19 587.9,45.08 588.3,45 588.7,45.3 589.1,45.44 589.5,45.52 589.9,45.17 590.3,44.92 590.7,44.91 591.1,44.93 591.5,45.05 591.9,45.07 592.3,44.71 592.7,44.38 593.1,44.3 593.5,44.27 593.9,44.49 594.3,44.33 594.7,44.4 595.1,44.11 595.5,44.12 595.9,44.18 596.3,44.17 596.7,44 597.1,44.11 597.5,44.04" fill="none" stroke="#e8242a" stroke-width="1.6" stroke-linejoin="round" />
<line x1="565.83" y1="152" x2="565.83" y2="172.99" stroke="#bcbcbc" stroke-width="0.7" />
<line x1="511.65" y1="152" x2="511.65" y2="180.86" stroke="#bcbcbc" stroke-width="0.7" />
<line x1="536.85" y1="152" x2="536.85" y2="172.25" stroke="#bcbcbc" stroke-width="0.7" />
<line x1="596.18" y1="152" x2="596.18" y2="169.52" stroke="#bcbcbc" stroke-width="0.7" />
<line x1="557.13" y1="152" x2="557.13" y2="170.7" stroke="#bcbcbc" stroke-width="0.7" />
<line x1="558.09" y1="152" x2="558.09" y2="158.94" stroke="#bcbcbc" stroke-width="0.7" />
<line x1="484.66" y1="152" x2="484.66" y2="179.34" stroke="#bcbcbc" stroke-width="0.7" />
<line x1="567.8" y1="152" x2="567.8" y2="158.41" stroke="#bcbcbc" stroke-width="0.7" />
<line x1="581.44" y1="152" x2="581.44" y2="172.87" stroke="#bcbcbc" stroke-width="0.7" />
<line x1="550.24" y1="152" x2="550.24" y2="175.32" stroke="#bcbcbc" stroke-width="0.7" />
<line x1="588.45" y1="152" x2="588.45" y2="163.16" stroke="#bcbcbc" stroke-width="0.7" />
<line x1="484.66" y1="152" x2="484.66" y2="173.3" stroke="#bcbcbc" stroke-width="0.7" />
<line x1="515.12" y1="152" x2="515.12" y2="174.43" stroke="#bcbcbc" stroke-width="0.7" />
<line x1="559.33" y1="152" x2="559.33" y2="173.24" stroke="#bcbcbc" stroke-width="0.7" />
<line x1="496.76" y1="152" x2="496.76" y2="159.88" stroke="#bcbcbc" stroke-width="0.7" />
<line x1="539.9" y1="152" x2="539.9" y2="159.51" stroke="#bcbcbc" stroke-width="0.7" />
<line x1="537.96" y1="152" x2="537.96" y2="162.23" stroke="#bcbcbc" stroke-width="0.7" />
<line x1="595.3" y1="152" x2="595.3" y2="177.62" stroke="#bcbcbc" stroke-width="0.7" />
<line x1="571.87" y1="152" x2="571.87" y2="178.43" stroke="#bcbcbc" stroke-width="0.7" />
<line x1="484.1" y1="150" x2="484.1" y2="174.3" stroke="#b5b5b5" stroke-width="0.8" />
<line x1="530.8" y1="150" x2="530.8" y2="163.2" stroke="#b5b5b5" stroke-width="0.8" />
<line x1="540.5" y1="150" x2="540.5" y2="181.7" stroke="#b5b5b5" stroke-width="0.8" />
<line x1="545.7" y1="150" x2="545.7" y2="164.7" stroke="#b5b5b5" stroke-width="0.8" />
<line x1="554.6" y1="150" x2="554.6" y2="168.4" stroke="#b5b5b5" stroke-width="0.8" />
<line x1="489.6" y1="150" x2="489.6" y2="196" stroke="#b5b5b5" stroke-width="0.8" />
<line x1="493" y1="150" x2="493" y2="190" stroke="#b5b5b5" stroke-width="0.8" />
<line x1="507" y1="150" x2="507" y2="214" stroke="#b5b5b5" stroke-width="0.8" />
<line x1="509.5" y1="150" x2="509.5" y2="200" stroke="#b5b5b5" stroke-width="0.8" />
<line x1="576.9" y1="150" x2="576.9" y2="209.4" stroke="#b5b5b5" stroke-width="0.8" />
<line x1="580.9" y1="150" x2="580.9" y2="214" stroke="#b5b5b5" stroke-width="0.8" />
<polygon points="476.7,143.77 477.1,143.95 477.5,142.71 477.9,143.15 478.3,144.41 478.7,143.17 479.1,144.59 479.5,143.64 479.9,143.7 480.3,142.87 480.7,144.48 481.1,143.5 481.5,143.09 481.9,142.97 482.3,142.96 482.7,144.31 483.1,143.41 483.5,143.9 483.9,143.36 484.3,144.64 484.7,143.73 485.1,143.62 485.5,144.68 485.9,144.39 486.3,144.76 486.7,144.29 487.1,143.1 487.5,143.62 487.9,144.34 488.3,143.11 488.7,143.58 489.1,142.88 489.5,143.68 489.9,146.56 490.3,151.84 490.7,162.4 491.1,169.94 491.5,167.11 491.9,164.43 492.3,161.81 492.7,158.81 493.1,156.21 493.5,156.21 493.9,153.74 494.3,152.29 494.7,150.15 495.1,150.74 495.5,149.94 495.9,149.05 496.3,147.82 496.7,147.28 497.1,147.58 497.5,147.4 497.9,146.29 498.3,146.07 498.7,146.24 499.1,144.9 499.5,144.33 499.9,145.42 500.3,144.97 500.7,144.23 501.1,145.21 501.5,144.92 501.9,143.24 502.3,144.21 502.7,144.58 503.1,144.97 503.5,144.48 503.9,143.4 504.3,143.17 504.7,144.93 505.1,144.67 505.5,143.69 505.9,143.75 506.3,147.14 506.7,152.98 507.1,161.75 507.5,170.83 507.9,168.52 508.3,164.39 508.7,160.85 509.1,158.76 509.5,156.88 509.9,156.24 510.3,154.09 510.7,153.4 511.1,151.41 511.5,151.5 511.9,149.96 512.3,150.14 512.7,149.08 513.1,147.85 513.5,148.41 513.9,146.53 514.3,146.45 514.7,145.85 515.1,144.83 515.5,145.17 515.9,144.41 516.3,144.3 516.7,144.13 517.1,144.52 517.5,144.79 517.9,144.69 518.3,144.74 518.7,143.66 519.1,143.81 519.5,143.38 519.9,145.03 520.3,143.33 520.7,144.32 521.1,143.98 521.5,143.02 521.9,144.65 522.3,143.91 522.7,144 523.1,144.4 523.5,143.4 523.9,143.57 524.3,143.02 524.7,144.62 525.1,143.52 525.5,144.53 525.9,144.53 526.3,143.54 526.7,143.96 527.1,143.16 527.5,143.69 527.9,143.32 528.3,144.67 528.7,144.1 529.1,144.6 529.5,143.17 529.9,143.07 530.3,142.62 530.7,143.9 531.1,143.26 531.5,143.21 531.9,143.6 532.3,143.86 532.7,144.26 533.1,144.55 533.5,143.03 533.9,143.69 534.3,144.63 534.7,143.3 535.1,143.82 535.5,143.58 535.9,144.25 536.3,144.2 536.7,143.48 537.1,143.19 537.5,143.99 537.9,144.66 538.3,143.48 538.7,143.7 539.1,143.14 539.5,144.55 539.9,142.72 540.3,143.44 540.7,142.8 541.1,143.57 541.5,143.92 541.9,142.84 542.3,144.07 542.7,143.19 543.1,143.06 543.5,143.34 543.9,144.64 544.3,144.54 544.7,143.26 545.1,142.67 545.5,142.82 545.9,143.6 546.3,142.66 546.7,144.11 547.1,143.92 547.5,143.51 547.9,142.93 548.3,144.7 548.7,143.41 549.1,143.14 549.5,144.77 549.9,144.25 550.3,143.79 550.7,143.37 551.1,144.38 551.5,144.14 551.9,144.55 552.3,144.75 552.7,143.88 553.1,144.42 553.5,144.61 553.9,143.05 554.3,143.98 554.7,144.47 555.1,144.36 555.5,144.23 555.9,143.61 556.3,144.5 556.7,143.68 557.1,143.25 557.5,143.58 557.9,144.41 558.3,142.77 558.7,142.63 559.1,142.74 559.5,142.89 559.9,143.11 560.3,142.9 560.7,142.64 561.1,143.19 561.5,143.93 561.9,144.24 562.3,143.64 562.7,144.64 563.1,142.7 563.5,144.54 563.9,142.71 564.3,143.92 564.7,143.05 565.1,144.18 565.5,144.24 565.9,144.39 566.3,143.25 566.7,142.95 567.1,144.27 567.5,144.11 567.9,143.6 568.3,143.55 568.7,143.7 569.1,144.7 569.5,142.88 569.9,143.91 570.3,144.49 570.7,142.82 571.1,144.23 571.5,144.4 571.9,143.15 572.3,143.36 572.7,143.54 573.1,144.78 573.5,144.6 573.9,144.64 574.3,143.41 574.7,144.55 575.1,143.69 575.5,143.91 575.9,145.43 576.3,151.72 576.7,161.86 577.1,172.19 577.5,167.23 577.9,165.13 578.3,161.05 578.7,159.49 579.1,155.69 579.5,154.57 579.9,153.75 580.3,151.72 580.7,150.99 581.1,150.09 581.5,148.38 581.9,146.9 582.3,147.28 582.7,146.83 583.1,145.67 583.5,145 583.9,145.06 584.3,145.75 584.7,144.51 585.1,145.38 585.5,144.27 585.9,145.1 586.3,144.56 586.7,145.2 587.1,143.54 587.5,144.67 587.9,143.91 588.3,143.32 588.7,143.2 589.1,143.34 589.5,144.26 589.9,144.61 590.3,143.39 590.7,143.45 591.1,142.95 591.5,143.84 591.9,142.9 592.3,143.34 592.7,144.64 593.1,143.78 593.5,143.31 593.9,144.28 594.3,142.62 594.7,144.24 595.1,144.39 595.5,143.68 595.9,143.08 596.3,143.1 596.7,144.59 597.1,144.18 597.5,144.75 597.9,143.03 597.9,151.44 597.5,152.49 597.1,151.93 596.7,151.19 596.3,151.1 595.9,152.93 595.5,150.75 595.1,151.5 594.7,152.02 594.3,151.69 593.9,151.83 593.5,151.2 593.1,151.26 592.7,152.42 592.3,151.36 591.9,151.49 591.5,151.29 591.1,151.69 590.7,152.2 590.3,151.12 589.9,151.1 589.5,153.19 589.1,152.06 588.7,153.17 588.3,151.12 587.9,152.07 587.5,152.03 587.1,151.74 586.7,153.79 586.3,153.61 585.9,152.84 585.5,153.24 585.1,154.66 584.7,154.29 584.3,155.42 583.9,155.43 583.5,154.56 583.1,157.32 582.7,156.47 582.3,158.48 581.9,158.12 581.5,160.61 581.1,161.53 580.7,163.7 580.3,165.53 579.9,170.09 579.5,172.23 579.1,174.87 578.7,179.18 578.3,186 577.9,190.98 577.5,199.45 577.1,206.35 576.7,186.8 576.3,166.34 575.9,154.78 575.5,151.08 575.1,152.74 574.7,152.04 574.3,152.17 573.9,152.8 573.5,151.83 573.1,152 572.7,152.95 572.3,150.7 571.9,152.34 571.5,151.58 571.1,152.87 570.7,150.67 570.3,150.99 569.9,151.3 569.5,151.16 569.1,150.91 568.7,151.95 568.3,151.99 567.9,150.65 567.5,150.95 567.1,151.51 566.7,151.83 566.3,151.93 565.9,150.62 565.5,152.76 565.1,151.97 564.7,152.86 564.3,151.11 563.9,151.51 563.5,152.6 563.1,151.98 562.7,151.04 562.3,152.86 561.9,151.08 561.5,152.53 561.1,151.21 560.7,152.61 560.3,152.93 559.9,152.75 559.5,152.28 559.1,150.63 558.7,150.8 558.3,150.97 557.9,151.54 557.5,152.13 557.1,151.35 556.7,151.79 556.3,151.02 555.9,151.65 555.5,152.23 555.1,151.28 554.7,152.48 554.3,151.2 553.9,151.88 553.5,152.72 553.1,152.2 552.7,151.77 552.3,150.53 551.9,150.52 551.5,152.83 551.1,150.83 550.7,152.45 550.3,151.97 549.9,150.69 549.5,152.02 549.1,151.11 548.7,151.92 548.3,151.64 547.9,152.21 547.5,151.3 547.1,151.12 546.7,151.28 546.3,152.17 545.9,151.98 545.5,150.56 545.1,152.92 544.7,152.24 544.3,152.63 543.9,152.03 543.5,152.81 543.1,152.24 542.7,152.47 542.3,151.89 541.9,152.77 541.5,151.33 541.1,151.39 540.7,150.73 540.3,151.36 539.9,151.52 539.5,153 539.1,151.48 538.7,151.98 538.3,152.1 537.9,150.62 537.5,152.12 537.1,152.94 536.7,152.74 536.3,150.92 535.9,151.58 535.5,151.97 535.1,151.09 534.7,152.45 534.3,151.19 533.9,152.84 533.5,152.9 533.1,152.08 532.7,152.84 532.3,152.59 531.9,152.16 531.5,152.72 531.1,152.27 530.7,152.98 530.3,151.7 529.9,151.59 529.5,152.58 529.1,152.07 528.7,152 528.3,152.45 527.9,151.95 527.5,150.77 527.1,152.14 526.7,151.56 526.3,151.7 525.9,151.66 525.5,152.38 525.1,153.01 524.7,152.64 524.3,153.15 523.9,151.63 523.5,150.79 523.1,151.56 522.7,151.26 522.3,152.8 521.9,152.45 521.5,152.35 521.1,151.68 520.7,151.48 520.3,151.54 519.9,152.77 519.5,151.56 519.1,151.55 518.7,153.94 518.3,152.4 517.9,153.38 517.5,154.13 517.1,153.45 516.7,154.55 516.3,154.33 515.9,153.93 515.5,154.38 515.1,156.28 514.7,155.38 514.3,157.23 513.9,156.38 513.5,157.23 513.1,157.84 512.7,158.22 512.3,159.59 511.9,160.88 511.5,163.48 511.1,163.94 510.7,165.4 510.3,168.64 509.9,171.66 509.5,174.73 509.1,177.84 508.7,180.57 508.3,184.42 507.9,189.67 507.5,194.05 507.1,181.25 506.7,166.44 506.3,155.58 505.9,151.52 505.5,151.43 505.1,153.12 504.7,151.22 504.3,151.16 503.9,151.49 503.5,151.03 503.1,152.35 502.7,152.85 502.3,152.52 501.9,153.58 501.5,151.99 501.1,152.97 500.7,152.47 500.3,154.23 499.9,153.12 499.5,153.08 499.1,153.33 498.7,154.07 498.3,154.06 497.9,154.86 497.5,155.72 497.1,157.18 496.7,156.72 496.3,156.89 495.9,157.85 495.5,160.53 495.1,160.99 494.7,162.82 494.3,163.73 493.9,165.44 493.5,168.04 493.1,170.88 492.7,174.28 492.3,179.37 491.9,183.26 491.5,186.52 491.1,191.86 490.7,178.45 490.3,164.95 489.9,155.29 489.5,152.65 489.1,152.04 488.7,152.75 488.3,151.04 487.9,152.52 487.5,152.02 487.1,151.65 486.7,151.47 486.3,152.55 485.9,152.33 485.5,152.13 485.1,151.99 484.7,152.58 484.3,152.67 483.9,152.27 483.5,152.89 483.1,152.7 482.7,152.3 482.3,151.12 481.9,152.8 481.5,151.66 481.1,151.85 480.7,151.07 480.3,151.04 479.9,151.49 479.5,151.2 479.1,152.47 478.7,150.64 478.3,152.67 477.9,151.79 477.5,151.53 477.1,151.04 476.7,151.95" fill="#a3a3a3"/>
<polyline points="476.7,147.67 477.1,147.58 477.5,147.52 477.9,147.37 478.3,147.55 478.7,147.58 479.1,147.86 479.5,147.9 479.9,148.08 480.3,148.09 480.7,148.18 481.1,148.21 481.5,148.33 481.9,147.9 482.3,147.8 482.7,147.65 483.1,147.46 483.5,147.4 483.9,147.51 484.3,147.68 484.7,147.7 485.1,147.78 485.5,148.27 485.9,148.48 486.3,148.33 486.7,148.51 487.1,148.69 487.5,148.64 487.9,148.4 488.3,148.39 488.7,148.37 489.1,148.82 489.5,151.76 489.9,157.46 490.3,165.53 490.7,176.34 491.1,176.72 491.5,173.62 491.9,170.66 492.3,168.01 492.7,165.8 493.1,163.9 493.5,161.88 493.9,160.54 494.3,158.77 494.7,157.36 495.1,155.98 495.5,155.25 495.9,154.46 496.3,153.62 496.7,153.04 497.1,152.68 497.5,152.02 497.9,151.68 498.3,151.23 498.7,150.97 499.1,150.54 499.5,150.18 499.9,149.93 500.3,149.67 500.7,149.52 501.1,149.58 501.5,149.47 501.9,149.22 502.3,148.95 502.7,148.51 503.1,148.59 503.5,148.58 503.9,148.31 504.3,148.08 504.7,147.95 505.1,147.86 505.5,148.11 505.9,150 506.3,154.45 506.7,161.41 507.1,170.65 507.5,178.46 507.9,175.16 508.3,171.69 508.7,168.99 509.1,166.48 509.5,164.38 509.9,162.63 510.3,160.56 510.7,158.89 511.1,157.82 511.5,156.43 511.9,155.76 512.3,154.9 512.7,154.13 513.1,153.49 513.5,152.93 513.9,152.74 514.3,152.61 514.7,152.09 515.1,151.71 515.5,151.2 515.9,150.77 516.3,150.53 516.7,150.31 517.1,150.27 517.5,149.99 517.9,149.77 518.3,149.73 518.7,149.69 519.1,149.68 519.5,149.64 519.9,149.46 520.3,149.17 520.7,148.87 521.1,148.66 521.5,148.48 521.9,148.19 522.3,148.08 522.7,147.92 523.1,147.59 523.5,147.58 523.9,147.93 524.3,148.01 524.7,148.18 525.1,148.27 525.5,148.38 525.9,148.3 526.3,148.31 526.7,148.6 527.1,148.43 527.5,148.2 527.9,148.11 528.3,148.19 528.7,148.09 529.1,148 529.5,148 529.9,147.99 530.3,147.56 530.7,147.62 531.1,147.76 531.5,147.79 531.9,147.59 532.3,148 532.7,148.01 533.1,147.94 533.5,147.98 533.9,148.33 534.3,148.66 534.7,148.39 535.1,148.38 535.5,148.49 535.9,148.05 536.3,147.99 536.7,147.89 537.1,147.93 537.5,147.65 537.9,147.38 538.3,147.73 538.7,147.73 539.1,147.61 539.5,147.73 539.9,148.01 540.3,148.34 540.7,148.47 541.1,148.7 541.5,148.69 541.9,148.33 542.3,148.25 542.7,148.15 543.1,148.26 543.5,148.06 543.9,147.98 544.3,147.77 544.7,147.44 545.1,147.42 545.5,147.6 545.9,147.71 546.3,147.4 546.7,146.95 547.1,146.88 547.5,146.76 547.9,146.81 548.3,147.13 548.7,147.28 549.1,147 549.5,146.83 549.9,147.37 550.3,147.71 550.7,147.58 551.1,147.77 551.5,147.84 551.9,147.79 552.3,147.8 552.7,148.13 553.1,148.19 553.5,148.19 553.9,148.01 554.3,148.22 554.7,148.13 555.1,147.97 555.5,148.01 555.9,148.07 556.3,147.91 556.7,147.88 557.1,147.67 557.5,147.72 557.9,147.75 558.3,148.07 558.7,148.37 559.1,148.51 559.5,148.46 559.9,148.49 560.3,148.47 560.7,148.4 561.1,148.69 561.5,148.52 561.9,148.13 562.3,147.87 562.7,147.83 563.1,147.66 563.5,147.71 563.9,147.8 564.3,148.13 564.7,147.77 565.1,147.86 565.5,147.86 565.9,147.89 566.3,148.08 566.7,148.23 567.1,148.18 567.5,148.22 567.9,148.04 568.3,148.35 568.7,148.25 569.1,148.41 569.5,148.43 569.9,148.22 570.3,148.12 570.7,148.09 571.1,148.04 571.5,148.17 571.9,147.95 572.3,147.96 572.7,147.94 573.1,147.87 573.5,147.98 573.9,148.1 574.3,147.88 574.7,147.78 575.1,147.51 575.5,149.31 575.9,154.33 576.3,162.2 576.7,173.51 577.1,178.27 577.5,174.51 577.9,171.73 578.3,169.13 578.7,166.87 579.1,164.71 579.5,162.78 579.9,161.23 580.3,159.75 580.7,158.34 581.1,157.33 581.5,156.31 581.9,155.41 582.3,154.48 582.7,153.57 583.1,152.86 583.5,152.48 583.9,152.1 584.3,151.79 584.7,151.19 585.1,150.8 585.5,150.44 585.9,150.1 586.3,150.15 586.7,149.79 587.1,149.57 587.5,149.34 587.9,149.19 588.3,149.07 588.7,148.83 589.1,148.75 589.5,148.77 589.9,148.42 590.3,148.59 590.7,148.5 591.1,148.5 591.5,148.46 591.9,148.75 592.3,148.77 592.7,148.7 593.1,148.75 593.5,148.59 593.9,148.2 594.3,148.1 594.7,148.18 595.1,148.16 595.5,147.85 595.9,147.77 596.3,147.71 596.7,147.64 597.1,147.82 597.5,148.06" fill="none" stroke="#27aebf" stroke-width="1.6" stroke-linejoin="round" />
<text x="476.2" y="33.8" font-size="12.6" fill="#e8242a" font-weight="bold" text-anchor="start" >Cell 1</text>
<text x="476.2" y="137.8" font-size="12.6" fill="#27aebf" font-weight="bold" text-anchor="start" >Cell 2</text>
<text x="513.8" y="35" font-size="12.6" fill="#231f20" font-weight="bold" text-anchor="start" >d</text>
<text x="524.8" y="35" font-size="12.6" fill="#231f20" font-weight="bold" text-anchor="start" >=</text>
<text x="536.2" y="35" font-size="12.6" fill="#231f20" font-weight="bold" text-anchor="start" >524.93</text>
<text x="579" y="35" font-size="12.6" fill="#231f20" font-weight="bold" text-anchor="start" >&#956;m</text>
<line x1="527.6" y1="78.2" x2="527.6" y2="89.8" stroke="#231f20" stroke-width="1.1" />
<line x1="532" y1="93" x2="551.9" y2="93" stroke="#231f20" stroke-width="1.1" />
<text x="0" y="0" font-size="9.2" fill="#231f20" font-weight="bold" text-anchor="middle" dominant-baseline="central" transform="translate(519.2,84) rotate(-90)">20 pA</text>
<text x="535.5" y="102.7" font-size="9.2" fill="#231f20" font-weight="bold" text-anchor="start" >2 s</text>
<rect x="613.1" y="37.1" width="12.5" height="48.3" fill="none" stroke="#8fd06a" stroke-width="0.9"/>
<polyline points="606.7,45.08 607,44.81 607.3,44.7 607.6,45.07 607.9,45.05 608.2,44.89 608.5,44.94 608.8,45.08 609.1,44.82 609.4,45.22 609.7,45.23 610,45.03 610.3,45 610.6,45.17 610.9,45.3 611.2,45.24 611.5,44.91 611.8,44.98 612.1,45.24 612.4,45.01 612.7,45.2 613,44.97 613.3,45.03 613.6,45.31 613.9,44.76 614.2,44.61 614.5,45.14 614.8,45.56 615.1,45.44 615.4,45.17 615.7,45 616,45.06 616.3,45.29 616.6,47 616.9,55.33 617.2,70.47 617.5,82.8 617.8,76.52 618.1,70.68 618.4,66.53 618.7,63.1 619,59.41 619.3,56.65 619.6,54.62 619.9,53.27 620.2,51.9 620.5,51.27 620.8,50.68 621.1,49.5 621.4,48.46 621.7,48.08 622,47.27 622.3,46.37 622.6,45.82 622.9,45.92 623.2,45.84 623.5,46 623.8,45.69 624.1,45.53 624.4,45.64 624.7,45.46 625,45.35 625.3,45.52 625.6,45.37 625.9,44.95 626.2,45.02 626.5,44.93 626.8,44.81 627.1,44.85 627.4,44.91 627.7,45.34 628,45.45 628.3,45.2 628.6,44.91 628.9,44.84 629.2,44.9 629.5,40.46 629.8,39.83 630.1,44.74 630.4,64.06 630.7,88.72 631,92.94 631.3,85.41 631.6,79.17 631.9,73.68 632.2,69.17 632.5,65.48 632.8,61.68 633.1,58.83 633.4,56.77 633.7,54.99 634,53.49 634.3,52.14 634.6,50.74 634.9,50.05 635.2,49.06 635.5,48.54 635.8,47.95 636.1,47.44 636.4,47.33 636.7,46.99 637,46.59 637.3,46.31 637.6,45.87 637.9,45.7 638.2,45.59 638.5,45.19 638.8,44.91 639.1,44.85 639.4,44.95 639.7,45.14 640,45.44 640.3,45.31 640.6,45.61 640.9,45.67 641.2,45.32 641.5,45.27 641.8,45.1 642.1,44.72 642.4,44.7 642.7,44.96 643,44.81 643.3,44.07 643.6,44.12 643.9,44.97 644.2,44.75 644.5,44.28 644.8,44.36 645.1,44.49 645.4,44.7 645.7,44.35 646,44.42 646.3,44.45 646.6,44.24 646.9,44.29 647.2,44.17 647.5,44.38 647.8,44.26 648.1,44.33 648.4,44.45 648.7,44.62 649,44.38 649.3,44.08 649.6,44.28 649.9,44.43 650.2,44.63 650.5,44.7 650.8,44.57 651.1,45.01 651.4,44.75 651.7,44.59 652,45.02 652.3,44.79 652.6,44.91 652.9,44.75 653.2,44.94 653.5,44.8 653.8,44.22 654.1,44.59 654.4,44.97 654.7,45.23 655,44.94 655.3,44.82 655.6,45 655.9,44.86 656.2,45.07 656.5,45.1 656.8,44.9 657.1,45.32 657.4,44.94 657.7,44.89 658,45.33 658.3,45.45 658.6,45.3 658.9,44.79 659.2,44.77 659.5,44.63 659.8,45 660.1,45.01 660.4,44.35 660.7,44.66 661,44.94 661.3,44.45 661.6,44.65 661.9,44.88 662.2,44.72 662.5,44.96 662.8,44.78 663.1,44.91 663.4,45.28 663.7,45.17 664,44.9 664.3,44.9 664.6,45.16 664.9,45.33 665.2,45.11 665.5,45.12 665.8,45.26 666.1,45.06 666.4,45 666.7,45.22 667,44.97 667.3,45.1 667.6,45.3 667.9,45.22 668.2,45.02 668.5,44.46 668.8,44.55 669.1,44.94 669.4,44.91 669.7,45.07 670,44.7 670.3,44.63 670.6,44.78 670.9,44.35 671.2,44.43 671.5,44.48 671.8,44.25 672.1,43.97 672.4,43.97 672.7,44.45 673,45 673.3,45.24 673.6,45.05 673.9,44.92 674.2,45.06 674.5,45.36 674.8,45.63 675.1,46.01 675.4,46.11 675.7,45.48 676,45.53 676.3,45.27 676.6,44.57 676.9,44.73 677.2,44.85 677.5,44.65 677.8,44.99 678.1,44.82 678.4,44.86 678.7,44.86 679,45.03 679.3,45.21 679.6,45.17 679.9,45.02 680.2,44.47 680.5,44.41 680.8,44.59 681.1,44.24 681.4,44.96 681.7,44.98 682,44.27 682.3,44.47 682.6,44.83 682.9,44.53 683.2,44.56 683.5,44.99 683.8,45.29 684.1,45.22 684.4,45.39 684.7,45.25 685,45.16 685.3,45.16 685.6,45.27 685.9,45.46 686.2,40.47 686.5,40.78 686.8,42.49 687.1,55.83 687.4,73.79 687.7,87.59 688,79.9 688.3,73.78 688.6,69.15 688.9,64.87 689.2,60.88 689.5,57.97 689.8,55.49 690.1,53.57 690.4,52.23 690.7,50.86 691,49.79 691.3,48.8 691.6,47.87 691.9,47.62 692.2,47.93 692.5,47.15 692.8,46.39 693.1,46.8 693.4,46.49 693.7,46.16 694,46.07 694.3,45.68 694.6,45.54 694.9,45.52 695.2,45.41 695.5,45.11 695.8,45.21 696.1,44.87 696.4,44.56 696.7,44.92 697,44.9 697.3,44.52 697.6,44.5 697.9,44.52 698.2,45.12 698.5,45.34 698.8,44.88 699.1,44.77 699.4,45.02 699.7,45.21 700,45.18 700.3,44.95 700.6,44.97 700.9,45.04 701.2,44.85 701.5,44.84 701.8,44.98 702.1,44.72 702.4,45.05 702.7,45.26 703,44.61 703.3,44.75 703.6,44.62 703.9,44.41 704.2,44.39 704.5,44.84 704.8,45.08 705.1,44.98" fill="none" stroke="#e8242a" stroke-width="1.1" stroke-linejoin="round" />
<polyline points="606.7,44.8 607,44.73 607.3,44.56 607.6,44.74 607.9,44.67 608.2,44.49 608.5,44.85 608.8,45.07 609.1,44.65 609.4,44.98 609.7,45.33 610,44.64 610.3,44.42 610.6,44.8 610.9,44.72 611.2,44.78 611.5,45.24 611.8,45.33 612.1,45.44 612.4,45.5 612.7,45.04 613,45.21 613.3,45.32 613.6,45.25 613.9,45.65 614.2,45.3 614.5,45.03 614.8,44.92 615.1,45.12 615.4,45.43 615.7,45.29 616,45.24 616.3,45.43 616.6,44.68 616.9,44.53 617.2,45.55 617.5,49.44 617.8,56.56 618.1,67.1 618.4,74.88 618.7,70.95 619,67.49 619.3,64.49 619.6,61.64 619.9,59.19 620.2,57.5 620.5,56.17 620.8,54.85 621.1,53.39 621.4,52.84 621.7,51.71 622,50.46 622.3,49.91 622.6,48.97 622.9,49.11 623.2,48.51 623.5,47.98 623.8,47.51 624.1,47.27 624.4,47.6 624.7,46.71 625,45.95 625.3,46 625.6,45.49 625.9,45.23 626.2,45.23 626.5,45.31 626.8,45.2 627.1,44.71 627.4,44.77 627.7,45.22 628,45.35 628.3,45.24 628.6,44.95 628.9,45.05 629.2,45.35 629.5,45.18 629.8,45.07 630.1,45.74 630.4,50.21 630.7,57.86 631,69.74 631.3,78.96 631.6,74.93 631.9,71.62 632.2,68.36 632.5,65.37 632.8,62.94 633.1,60.55 633.4,58.99 633.7,57.11 634,55.41 634.3,54.07 634.6,53.01 634.9,51.86 635.2,50.74 635.5,49.81 635.8,49.47 636.1,48.54 636.4,48.11 636.7,47.39 637,46.91 637.3,47.07 637.6,46.99 637.9,46.21 638.2,45.61 638.5,45.4 638.8,45.53 639.1,45.72 639.4,45.34 639.7,45.18 640,45.21 640.3,45.08 640.6,45.37 640.9,44.8 641.2,44.58 641.5,44.68 641.8,44.53 642.1,44.69 642.4,44.55 642.7,44.77 643,44.88 643.3,44.6 643.6,44.63 643.9,44.78 644.2,44.96 644.5,45.03 644.8,44.64 645.1,45.03 645.4,44.78 645.7,44.96 646,44.91 646.3,44.48 646.6,44.82 646.9,45.38 647.2,45.26 647.5,45.33 647.8,45.06 648.1,44.78 648.4,44.76 648.7,44.89 649,44.86 649.3,45.1 649.6,45.16 649.9,45.05 650.2,44.81 650.5,44.78 650.8,44.63 651.1,44.68 651.4,44.75 651.7,44.67 652,44.62 652.3,44.53 652.6,44.92 652.9,45.32 653.2,44.75 653.5,44.28 653.8,44.85 654.1,44.7 654.4,44.35 654.7,44.34 655,44.47 655.3,44.21 655.6,44.83 655.9,45.24 656.2,45.16 656.5,44.96 656.8,44.56 657.1,44.8 657.4,44.99 657.7,45.03 658,45.29 658.3,44.93 658.6,45.01 658.9,45.28 659.2,45.2 659.5,44.88 659.8,44.59 660.1,44.74 660.4,44.88 660.7,44.95 661,44.8 661.3,44.93 661.6,45.26 661.9,44.85 662.2,44.43 662.5,44.56 662.8,44.66 663.1,44.76 663.4,44.56 663.7,44.66 664,44.37 664.3,44.43 664.6,44.93 664.9,44.48 665.2,43.73 665.5,43.95 665.8,44.34 666.1,44.62 666.4,44.74 666.7,44.87 667,45.53 667.3,45.32 667.6,44.93 667.9,45.01 668.2,44.83 668.5,44.82 668.8,44.86 669.1,44.26 669.4,44.32 669.7,44.55 670,44.93 670.3,44.93 670.6,44.91 670.9,44.5 671.2,44.62 671.5,44.64 671.8,45.07 672.1,44.73 672.4,44.64 672.7,45.07 673,45.15 673.3,44.97 673.6,44.77 673.9,44.42 674.2,44.37 674.5,44.68 674.8,45.17 675.1,44.93 675.4,44.77 675.7,44.27 676,44.21 676.3,44.47 676.6,44.69 676.9,44.61 677.2,44.69 677.5,44.7 677.8,44.55 678.1,44.46 678.4,44.39 678.7,44.56 679,44.03 679.3,44.23 679.6,44.86 679.9,44.76 680.2,44.53 680.5,44.42 680.8,44.3 681.1,44.69 681.4,44.69 681.7,44.91 682,44.99 682.3,44.78 682.6,44.3 682.9,44.44 683.2,45.01 683.5,44.63 683.8,44.36 684.1,44.18 684.4,44.2 684.7,44.43 685,44.76 685.3,44.7 685.6,44.72 685.9,44.73 686.2,45.23 686.5,45.32 686.8,45.69 687.1,48.21 687.4,54.36 687.7,64.54 688,78.56 688.3,74.44 688.6,70.57 688.9,67.21 689.2,64.25 689.5,61.49 689.8,59.23 690.1,57.48 690.4,55.94 690.7,54.36 691,52.83 691.3,52.06 691.6,51.43 691.9,50.85 692.2,49.78 692.5,49.14 692.8,48.83 693.1,48.19 693.4,47.73 693.7,47.45 694,46.92 694.3,46.39 694.6,46.09 694.9,46.06 695.2,45.82 695.5,45.99 695.8,45.71 696.1,45.03 696.4,45.01 696.7,45.37 697,45.64 697.3,45.26 697.6,45.18 697.9,45.28 698.2,45.31 698.5,45.25 698.8,45.24 699.1,45.57 699.4,45.35 699.7,44.67 700,44.99 700.3,45.12 700.6,45.16 700.9,44.97 701.2,44.52 701.5,44.61 701.8,44.66 702.1,44.68 702.4,44.67 702.7,44.65 703,45.33 703.3,44.97 703.6,44.57 703.9,44.37 704.2,44.68 704.5,44.83 704.8,44.47 705.1,44.6" fill="none" stroke="#27aebf" stroke-width="1.4" stroke-linejoin="round" />
<line x1="651.7" y1="78.2" x2="651.7" y2="89.6" stroke="#231f20" stroke-width="1.1" />
<line x1="656.4" y1="92.7" x2="672.7" y2="92.7" stroke="#231f20" stroke-width="1.1" />
<text x="0" y="0" font-size="9.2" fill="#231f20" font-weight="bold" text-anchor="middle" dominant-baseline="central" transform="translate(642.8,85.2) rotate(-90)">20 pA</text>
<text x="656.6" y="103" font-size="9.2" fill="#231f20" font-weight="bold" text-anchor="start" >2 s</text>
<path d="M607.6,120.6 C608.88,120.67 613.27,121.23 615.3,121 C617.33,120.77 618.53,119.13 619.8,119.2 C621.07,119.27 621.88,120.67 622.9,121.4 C623.92,122.13 624.88,124.12 625.9,123.6 C626.92,123.08 628.1,117.65 629,118.3 C629.9,118.95 630.67,122.92 631.3,127.5 C631.93,132.08 632.27,139.55 632.8,145.8 C633.33,152.05 633.92,156.8 634.5,165 C635.08,173.2 635.72,186.55 636.3,195 C636.88,203.45 637.35,215.7 638,215.7 C638.65,215.7 639.48,201.63 640.2,195 C640.92,188.37 641.63,181.4 642.3,175.9 C642.97,170.4 643.62,165.73 644.2,162 C644.78,158.27 644.78,156.2 645.8,153.5 C646.82,150.8 648.53,148.87 650.3,145.8 C652.07,142.73 654.12,137.65 656.4,135.1 C658.68,132.55 661.2,131.77 664,130.5 C666.8,129.23 669.63,128.57 673.2,127.5 C676.77,126.43 680.07,124.92 685.4,124.1 C690.73,123.28 701.9,122.85 705.2,122.6" fill="none" stroke="#e8383c" stroke-width="1.1"/>
<path d="M607.6,119.8 C610.92,119.8 623.82,119.93 627.5,119.8 C631.18,119.67 628.18,118.73 629.7,119 C631.22,119.27 634.93,119.98 636.6,121.4 C638.27,122.82 638.82,124.45 639.7,127.5 C640.58,130.55 641.27,134.37 641.9,139.7 C642.53,145.03 642.9,152.78 643.5,159.5 C644.1,166.22 644.83,173.87 645.5,180 C646.17,186.13 646.83,195.3 647.5,196.3 C648.17,197.3 648.92,189.12 649.5,186 C650.08,182.88 650.35,182.02 651,177.6 C651.65,173.18 652.37,164.35 653.4,159.5 C654.43,154.65 655.8,150.03 657.2,148.5 C658.6,146.97 659.63,152.28 661.8,150.3 C663.97,148.32 667.15,140.67 670.2,136.6 C673.25,132.53 677.43,127.3 680.1,125.9 C682.77,124.5 684.05,128.95 686.2,128.2 C688.35,127.45 690.58,122.53 693,121.4 C695.42,120.27 698.67,121.2 700.7,121.4 C702.73,121.6 704.45,122.4 705.2,122.6" fill="none" stroke="#27aebf" stroke-width="1.1"/>
<line x1="627.6" y1="220" x2="633.4" y2="217.6" stroke="#e8242a" stroke-width="0.9" />
<polygon points="636.6,216.4 632.6,215.4 633.8,219.2" fill="#e8242a"/>
<line x1="653.6" y1="206.2" x2="650.9" y2="201.4" stroke="#27aebf" stroke-width="0.9" />
<polygon points="649.2,198.4 649.1,202.6 652.5,200.8" fill="#27aebf"/>
<line x1="681.2" y1="157.8" x2="681.2" y2="164.7" stroke="#231f20" stroke-width="1.1" />
<line x1="684.7" y1="171.1" x2="697.6" y2="171.1" stroke="#231f20" stroke-width="1.1" />
<text x="0" y="0" font-size="9.2" fill="#231f20" font-weight="bold" text-anchor="middle" dominant-baseline="central" transform="translate(673,162.6) rotate(-90)">5 pA</text>
<text x="673.8" y="182.8" font-size="9.2" fill="#231f20" font-weight="bold" text-anchor="start" >200 ms</text>
<line x1="412.2" y1="254.6" x2="412.2" y2="367.9" stroke="#3a3a3a" stroke-width="1.1" />
<line x1="411.7" y1="367.3" x2="537.9" y2="367.3" stroke="#3a3a3a" stroke-width="1.1" />
<line x1="412.2" y1="254.4" x2="414.2" y2="254.4" stroke="#3a3a3a" stroke-width="0.9" />
<line x1="412.2" y1="276.98" x2="414.2" y2="276.98" stroke="#3a3a3a" stroke-width="0.9" />
<line x1="412.2" y1="299.56" x2="414.2" y2="299.56" stroke="#3a3a3a" stroke-width="0.9" />
<line x1="412.2" y1="322.14" x2="414.2" y2="322.14" stroke="#3a3a3a" stroke-width="0.9" />
<line x1="412.2" y1="344.72" x2="414.2" y2="344.72" stroke="#3a3a3a" stroke-width="0.9" />
<line x1="412.2" y1="254.6" x2="414.2" y2="254.6" stroke="#3a3a3a" stroke-width="0.9" />
<text x="408.2" y="259.3" font-size="9.5" fill="#231f20" font-weight="bold" text-anchor="end" >1</text>
<text x="408.2" y="281.88" font-size="9.5" fill="#231f20" font-weight="bold" text-anchor="end" >0.8</text>
<text x="408.2" y="304.46" font-size="9.5" fill="#231f20" font-weight="bold" text-anchor="end" >0.6</text>
<text x="408.2" y="327.04" font-size="9.5" fill="#231f20" font-weight="bold" text-anchor="end" >0.4</text>
<text x="408.2" y="349.62" font-size="9.5" fill="#231f20" font-weight="bold" text-anchor="end" >0.2</text>
<text x="408.2" y="372.2" font-size="9.5" fill="#231f20" font-weight="bold" text-anchor="end" >0</text>
<text x="412.2" y="380.1" font-size="9.3" fill="#231f20" font-weight="bold" text-anchor="middle" >-1</text>
<line x1="443.5" y1="367.3" x2="443.5" y2="365.3" stroke="#3a3a3a" stroke-width="0.9" />
<text x="443.5" y="380.1" font-size="9.3" fill="#231f20" font-weight="bold" text-anchor="middle" >-0.5</text>
<line x1="474.8" y1="367.3" x2="474.8" y2="365.3" stroke="#3a3a3a" stroke-width="0.9" />
<text x="474.8" y="380.1" font-size="9.3" fill="#231f20" font-weight="bold" text-anchor="middle" >0</text>
<line x1="506.1" y1="367.3" x2="506.1" y2="365.3" stroke="#3a3a3a" stroke-width="0.9" />
<text x="506.1" y="380.1" font-size="9.3" fill="#231f20" font-weight="bold" text-anchor="middle" >0.5</text>
<text x="537.4" y="380.1" font-size="9.3" fill="#231f20" font-weight="bold" text-anchor="middle" >1</text>
<text x="474.2" y="398.4" font-size="12.8" fill="#231f20" font-weight="bold" text-anchor="middle" >Lag time (s)</text>
<text x="0" y="0" font-size="12.9" fill="#231f20" font-weight="bold" text-anchor="middle" dominant-baseline="central" transform="translate(385.2,310.3) rotate(-90)">Correlation</text>
<line x1="413.2" y1="339.2" x2="538.4" y2="339.2" stroke="#bdbdbd" stroke-width="0.9" stroke-dasharray="4,3"/>
<polyline points="429.88,367.29 430.04,367.21 430.2,367.13 430.35,367.05 430.51,366.98 430.67,366.89 430.82,366.81 430.98,366.73 431.14,366.65 431.29,366.56 431.45,366.47 431.61,366.38 431.76,366.3 431.92,366.2 432.08,366.11 432.23,366.02 432.39,365.92 432.55,365.83 432.7,365.73 432.86,365.63 433.01,365.53 433.17,365.43 433.33,365.32 433.48,365.22 433.64,365.11 433.8,365 433.95,364.89 434.11,364.78 434.27,364.66 434.42,364.55 434.58,364.43 434.74,364.31 434.89,364.19 435.05,364.07 435.21,363.95 435.36,363.82 435.52,363.69 435.68,363.56 435.83,363.43 435.99,363.3 436.14,363.16 436.3,363.03 436.46,362.89 436.61,362.75 436.77,362.61 436.93,362.46 437.08,362.31 437.24,362.16 437.4,362.01 437.55,361.86 437.71,361.7 437.87,361.55 438.02,361.39 438.18,361.22 438.34,361.06 438.49,360.89 438.65,360.72 438.81,360.55 438.96,360.38 439.12,360.2 439.27,360.02 439.43,359.84 439.59,359.66 439.74,359.47 439.9,359.29 440.06,359.1 440.21,358.9 440.37,358.71 440.53,358.51 440.68,358.31 440.84,358.1 441,357.89 441.15,357.68 441.31,357.47 441.47,357.26 441.62,357.04 441.78,356.82 441.94,356.59 442.09,356.37 442.25,356.14 442.4,355.91 442.56,355.67 442.72,355.43 442.87,355.19 443.03,354.95 443.19,354.7 443.34,354.45 443.5,354.19 443.66,353.93 443.81,353.67 443.97,353.41 444.13,353.14 444.28,352.87 444.44,352.6 444.6,352.32 444.75,352.04 444.91,351.75 445.06,351.47 445.22,351.18 445.38,350.88 445.53,350.58 445.69,350.28 445.85,349.97 446,349.66 446.16,349.35 446.32,349.03 446.47,348.71 446.63,348.39 446.79,348.06 446.94,347.73 447.1,347.39 447.26,347.05 447.41,346.71 447.57,346.36 447.73,346.01 447.88,345.65 448.04,345.29 448.19,344.93 448.35,344.56 448.51,344.19 448.66,343.81 448.82,343.43 448.98,343.05 449.13,342.66 449.29,342.27 449.45,341.87 449.6,341.47 449.76,341.06 449.92,340.65 450.07,340.24 450.23,339.82 450.39,339.39 450.54,338.97 450.7,338.53 450.86,338.1 451.01,337.66 451.17,337.21 451.32,336.76 451.48,336.3 451.64,335.84 451.79,335.38 451.95,334.91 452.11,334.44 452.26,333.96 452.42,333.48 452.58,332.99 452.73,332.5 452.89,332 453.05,331.5 453.2,331 453.36,330.48 453.52,329.97 453.67,329.45 453.83,328.92 453.99,328.4 454.14,327.86 454.3,327.32 454.46,326.78 454.61,326.23 454.77,325.68 454.92,325.12 455.08,324.56 455.24,323.99 455.39,323.42 455.55,322.85 455.71,322.27 455.86,321.68 456.02,321.09 456.18,320.5 456.33,319.9 456.49,319.3 456.65,318.69 456.8,318.08 456.96,317.46 457.12,316.84 457.27,316.22 457.43,315.59 457.59,314.95 457.74,314.32 457.9,313.68 458.05,313.03 458.21,312.38 458.37,311.73 458.52,311.07 458.68,310.41 458.84,309.75 458.99,309.08 459.15,308.41 459.31,307.73 459.46,307.05 459.62,306.37 459.78,305.69 459.93,305 460.09,304.31 460.25,303.62 460.4,302.92 460.56,302.22 460.72,301.52 460.87,300.82 461.03,300.11 461.18,299.41 461.34,298.7 461.5,297.99 461.65,297.28 461.81,296.56 461.97,295.85 462.12,295.13 462.28,294.42 462.44,293.7 462.59,292.99 462.75,292.27 462.91,291.56 463.06,290.85 463.22,290.13 463.38,289.42 463.53,288.71 463.69,288.01 463.85,287.3 464,286.6 464.16,285.9 464.31,285.21 464.47,284.52 464.63,283.83 464.78,283.16 464.94,282.48 465.1,281.82 465.25,281.16 465.41,280.51 465.57,279.87 465.72,279.24 465.88,278.62 466.04,278.02 466.19,277.43 466.35,276.85 466.51,276.29 466.66,275.75 466.82,275.23 466.98,274.74 467.13,274.27 467.29,273.83 467.44,273.43 467.6,273.06 467.76,272.73 467.91,272.46 468.07,272.24 468.23,272.07 468.38,271.97 468.54,271.91 468.7,271.9 468.85,271.91 469.01,271.95 469.17,272.04 469.32,272.18 469.48,272.38 469.64,272.63 469.79,272.93 469.95,273.28 470.11,273.66 470.26,274.07 470.42,274.52 470.57,274.99 470.73,275.48 470.89,275.99 471.04,276.53 471.2,277.08 471.36,277.64 471.51,278.22 471.67,278.82 471.83,279.42 471.98,280.04 472.14,280.66 472.3,281.29 472.45,281.93 472.61,282.58 472.77,283.23 472.92,283.89 473.08,284.56 473.24,285.23 473.39,285.9 473.55,286.58 473.7,287.26 473.86,287.94 474.02,288.63 474.17,289.32 474.33,290 474.49,290.7 474.64,291.39 474.8,292.08 474.96,292.77 475.11,293.47 475.27,294.16 475.43,294.86 475.58,295.55 475.74,296.24 475.9,296.93 476.05,297.62 476.21,298.31 476.37,299 476.52,299.69 476.68,300.37 476.83,301.06 476.99,301.74 477.15,302.42 477.3,303.09 477.46,303.77 477.62,304.44 477.77,305.11 477.93,305.77 478.09,306.44 478.24,307.1 478.4,307.76 478.56,308.41 478.71,309.06 478.87,309.71 479.03,310.35 479.18,311 479.34,311.63 479.5,312.27 479.65,312.9 479.81,313.52 479.96,314.15 480.12,314.77 480.28,315.38 480.43,315.99 480.59,316.6 480.75,317.2 480.9,317.8 481.06,318.4 481.22,318.99 481.37,319.57 481.53,320.16 481.69,320.74 481.84,321.31 482,321.88 482.16,322.45 482.31,323.01 482.47,323.56 482.62,324.12 482.78,324.67 482.94,325.21 483.09,325.75 483.25,326.28 483.41,326.82 483.56,327.34 483.72,327.86 483.88,328.38 484.03,328.9 484.19,329.4 484.35,329.91 484.5,330.41 484.66,330.9 484.82,331.4 484.97,331.88 485.13,332.37 485.29,332.84 485.44,333.32 485.6,333.79 485.75,334.25 485.91,334.71 486.07,335.17 486.22,335.62 486.38,336.07 486.54,336.51 486.69,336.95 486.85,337.39 487.01,337.82 487.16,338.24 487.32,338.67 487.48,339.08 487.63,339.5 487.79,339.91 487.95,340.31 488.1,340.71 488.26,341.11 488.42,341.5 488.57,341.89 488.73,342.28 488.88,342.66 489.04,343.04 489.2,343.41 489.35,343.78 489.51,344.14 489.67,344.51 489.82,344.86 489.98,345.22 490.14,345.57 490.29,345.91 490.45,346.25 490.61,346.59 490.76,346.93 490.92,347.26 491.08,347.59 491.23,347.91 491.39,348.23 491.55,348.55 491.7,348.86 491.86,349.17 492.02,349.47 492.17,349.78 492.33,350.07 492.48,350.37 492.64,350.66 492.8,350.95 492.95,351.24 493.11,351.52 493.27,351.8 493.42,352.07 493.58,352.34 493.74,352.61 493.89,352.88 494.05,353.14 494.21,353.4 494.36,353.66 494.52,353.91 494.68,354.16 494.83,354.41 494.99,354.65 495.14,354.89 495.3,355.13 495.46,355.36 495.61,355.6 495.77,355.83 495.93,356.05 496.08,356.28 496.24,356.5 496.4,356.72 496.55,356.93 496.71,357.14 496.87,357.35 497.02,357.56 497.18,357.77 497.34,357.97 497.49,358.17 497.65,358.36 497.81,358.56 497.96,358.75 498.12,358.94 498.28,359.13 498.43,359.31 498.59,359.49 498.74,359.67 498.9,359.85 499.06,360.03 499.21,360.2 499.37,360.37 499.53,360.54 499.68,360.71 499.84,360.87 500,361.03 500.15,361.19 500.31,361.35 500.47,361.51 500.62,361.66 500.78,361.81 500.94,361.96 501.09,362.11 501.25,362.25 501.41,362.4 501.56,362.54 501.72,362.68 501.87,362.81 502.03,362.95 502.19,363.08 502.34,363.22 502.5,363.35 502.66,363.47 502.81,363.6 502.97,363.73 503.13,363.85 503.28,363.97 503.44,364.09 503.6,364.21 503.75,364.33 503.91,364.44 504.07,364.55 504.22,364.67 504.38,364.78 504.54,364.88 504.69,364.99 504.85,365.1 505,365.2 505.16,365.3 505.32,365.4 505.47,365.5 505.63,365.6 505.79,365.7 505.94,365.79 506.1,365.89 506.26,365.98 506.41,366.07 506.57,366.16 506.73,366.25 506.88,366.34 507.04,366.43 507.2,366.51 507.35,366.59 507.51,366.68 507.67,366.76 507.82,366.84 507.98,366.92 508.13,366.99 508.29,367.07 508.45,367.15 508.6,367.22 508.76,367.29" fill="none" stroke="#2d56b5" stroke-width="1.3" stroke-linejoin="round" />
<line x1="474.8" y1="249" x2="474.8" y2="367.3" stroke="#c4c4c4" stroke-width="1.0" stroke-dasharray="11.8,10.8"/>
<line x1="468.72" y1="249" x2="468.72" y2="367.3" stroke="#3d63bf" stroke-width="1.1" stroke-dasharray="11.8,10.8"/>
<line x1="456.2" y1="259.3" x2="464" y2="259.3" stroke="#231f20" stroke-width="0.9" />
<polygon points="467.6,259.3 463.2,257.1 463.2,261.5" fill="#231f20"/>
<line x1="486" y1="259.3" x2="479" y2="259.3" stroke="#231f20" stroke-width="0.9" />
<polygon points="475.4,259.3 479.8,257.1 479.8,261.5" fill="#231f20"/>
<text x="490.6" y="263" font-size="9.5" fill="#231f20" font-weight="bold" text-anchor="start" >-97.2 ms</text>
<line x1="578.6" y1="254.4" x2="578.6" y2="367.5" stroke="#3a3a3a" stroke-width="1.1" />
<line x1="578.1" y1="367" x2="696" y2="367" stroke="#3a3a3a" stroke-width="1.1" />
<line x1="578.6" y1="348.3" x2="580.6" y2="348.3" stroke="#3a3a3a" stroke-width="0.9" />
<line x1="578.6" y1="329.6" x2="580.6" y2="329.6" stroke="#3a3a3a" stroke-width="0.9" />
<line x1="578.6" y1="310.9" x2="580.6" y2="310.9" stroke="#3a3a3a" stroke-width="0.9" />
<line x1="578.6" y1="292.2" x2="580.6" y2="292.2" stroke="#3a3a3a" stroke-width="0.9" />
<line x1="578.6" y1="273.5" x2="580.6" y2="273.5" stroke="#3a3a3a" stroke-width="0.9" />
<line x1="578.6" y1="254.8" x2="580.6" y2="254.8" stroke="#3a3a3a" stroke-width="0.9" />
<line x1="597.76" y1="367" x2="597.76" y2="365" stroke="#3a3a3a" stroke-width="0.9" />
<line x1="616.92" y1="367" x2="616.92" y2="365" stroke="#3a3a3a" stroke-width="0.9" />
<line x1="636.08" y1="367" x2="636.08" y2="365" stroke="#3a3a3a" stroke-width="0.9" />
<line x1="655.24" y1="367" x2="655.24" y2="365" stroke="#3a3a3a" stroke-width="0.9" />
<line x1="674.4" y1="367" x2="674.4" y2="365" stroke="#3a3a3a" stroke-width="0.9" />
<line x1="693.56" y1="367" x2="693.56" y2="365" stroke="#3a3a3a" stroke-width="0.9" />
<text x="573.2" y="258.7" font-size="10.0" fill="#231f20" font-weight="bold" text-anchor="end" >0.3</text>
<text x="573.2" y="296.1" font-size="10.0" fill="#231f20" font-weight="bold" text-anchor="end" >0.2</text>
<text x="573.2" y="333.5" font-size="10.0" fill="#231f20" font-weight="bold" text-anchor="end" >0.1</text>
<text x="573.2" y="370.9" font-size="10.0" fill="#231f20" font-weight="bold" text-anchor="end" >0</text>
<text x="578.6" y="381" font-size="10.2" fill="#231f20" font-weight="bold" text-anchor="middle" >0</text>
<text x="616.92" y="381" font-size="10.2" fill="#231f20" font-weight="bold" text-anchor="middle" >200</text>
<text x="655.24" y="381" font-size="10.2" fill="#231f20" font-weight="bold" text-anchor="middle" >400</text>
<text x="693.56" y="381" font-size="10.2" fill="#231f20" font-weight="bold" text-anchor="middle" >600</text>
<text x="635.9" y="398.6" font-size="12.9" fill="#231f20" font-weight="bold" text-anchor="middle" >Distance (&#956;m)</text>
<text x="0" y="0" font-size="12.9" fill="#231f20" font-weight="bold" text-anchor="middle" dominant-baseline="central" transform="translate(549.6,312.6) rotate(-90)">Lag time (s)</text>
<circle cx="583.6" cy="362.8" r="1.3" fill="none" stroke="#505050" stroke-width="0.7"/>
<circle cx="585.4" cy="365" r="1.3" fill="none" stroke="#505050" stroke-width="0.7"/>
<circle cx="588.7" cy="348.3" r="1.3" fill="none" stroke="#505050" stroke-width="0.7"/>
<circle cx="598.4" cy="331.9" r="1.3" fill="none" stroke="#505050" stroke-width="0.7"/>
<circle cx="600.2" cy="355" r="1.3" fill="none" stroke="#505050" stroke-width="0.7"/>
<circle cx="599.9" cy="357.2" r="1.3" fill="none" stroke="#505050" stroke-width="0.7"/>
<circle cx="607.3" cy="356.3" r="1.3" fill="none" stroke="#505050" stroke-width="0.7"/>
<circle cx="617.8" cy="360.9" r="1.3" fill="none" stroke="#505050" stroke-width="0.7"/>
<circle cx="619.1" cy="347" r="1.3" fill="none" stroke="#505050" stroke-width="0.7"/>
<circle cx="623.4" cy="344.6" r="1.3" fill="none" stroke="#505050" stroke-width="0.7"/>
<circle cx="627.3" cy="326.1" r="1.3" fill="none" stroke="#505050" stroke-width="0.7"/>
<circle cx="628" cy="338.3" r="1.3" fill="none" stroke="#505050" stroke-width="0.7"/>
<circle cx="630.8" cy="337.4" r="1.3" fill="none" stroke="#505050" stroke-width="0.7"/>
<circle cx="634.1" cy="346.5" r="1.3" fill="none" stroke="#505050" stroke-width="0.7"/>
<circle cx="635" cy="348" r="1.3" fill="none" stroke="#505050" stroke-width="0.7"/>
<circle cx="638.6" cy="349.8" r="1.3" fill="none" stroke="#505050" stroke-width="0.7"/>
<circle cx="640.6" cy="328" r="1.3" fill="none" stroke="#505050" stroke-width="0.7"/>
<circle cx="641.3" cy="365" r="1.3" fill="none" stroke="#505050" stroke-width="0.7"/>
<circle cx="643.2" cy="344.3" r="1.3" fill="none" stroke="#505050" stroke-width="0.7"/>
<circle cx="644.7" cy="365.6" r="1.3" fill="none" stroke="#505050" stroke-width="0.7"/>
<circle cx="645.6" cy="339.6" r="1.3" fill="none" stroke="#505050" stroke-width="0.7"/>
<circle cx="646.1" cy="360.9" r="1.3" fill="none" stroke="#505050" stroke-width="0.7"/>
<circle cx="650.2" cy="348.3" r="1.3" fill="none" stroke="#505050" stroke-width="0.7"/>
<circle cx="650.6" cy="315.6" r="1.3" fill="none" stroke="#505050" stroke-width="0.7"/>
<circle cx="654.3" cy="345.2" r="1.3" fill="none" stroke="#505050" stroke-width="0.7"/>
<circle cx="656.3" cy="321.5" r="1.3" fill="none" stroke="#505050" stroke-width="0.7"/>
<circle cx="658" cy="348.3" r="1.3" fill="none" stroke="#505050" stroke-width="0.7"/>
<circle cx="661.7" cy="331.7" r="1.3" fill="none" stroke="#505050" stroke-width="0.7"/>
<circle cx="678.9" cy="331.7" r="1.3" fill="none" stroke="#505050" stroke-width="0.7"/>
<circle cx="681.1" cy="321.5" r="1.3" fill="none" stroke="#505050" stroke-width="0.7"/>
<circle cx="687.3" cy="348.3" r="1.3" fill="none" stroke="#505050" stroke-width="0.7"/>
<circle cx="688.6" cy="342.8" r="1.3" fill="none" stroke="#505050" stroke-width="0.7"/>
<circle cx="693.7" cy="326.1" r="1.3" fill="none" stroke="#505050" stroke-width="0.7"/>
<circle cx="643.4" cy="268.1" r="1.3" fill="none" stroke="#505050" stroke-width="0.7"/>
<circle cx="636.3" cy="279.1" r="1.3" fill="none" stroke="#505050" stroke-width="0.7"/>
<circle cx="687.3" cy="284.3" r="1.3" fill="none" stroke="#505050" stroke-width="0.7"/>
<circle cx="666.3" cy="294.1" r="1.3" fill="none" stroke="#505050" stroke-width="0.7"/>
<circle cx="581.5" cy="365.5" r="1.3" fill="none" stroke="#505050" stroke-width="0.7"/>
<circle cx="653" cy="366" r="1.3" fill="none" stroke="#505050" stroke-width="0.7"/>
<line x1="583.6" y1="357.2" x2="693.7" y2="318.9" stroke="#e0383a" stroke-width="1.3" />
<text x="583.2" y="307.9" font-size="9.8" fill="#231f20" font-weight="bold"><tspan font-style="italic">R</tspan> = 0.44, <tspan font-style="italic">P</tspan>  = 0.0055</text>
<text x="2.2" y="15.8" font-size="18.5" fill="#231f20" font-weight="bold" text-anchor="start" >A</text>
<text x="2.4" y="243" font-size="18.5" fill="#231f20" font-weight="bold" text-anchor="start" >B</text>
<text x="224" y="15.6" font-size="18.5" fill="#231f20" font-weight="bold" text-anchor="start" >C</text>
<text x="356.6" y="19.8" font-size="18.5" fill="#231f20" font-weight="bold" text-anchor="start" >D</text>
<text x="357.4" y="112.7" font-size="18.5" fill="#231f20" font-weight="bold" text-anchor="start" >E</text>
<text x="216.8" y="241.6" font-size="18.5" fill="#231f20" font-weight="bold" text-anchor="start" >F</text>
<text x="459.2" y="15.6" font-size="18.5" fill="#231f20" font-weight="bold" text-anchor="start" >G</text>
<text x="597" y="19.6" font-size="18.5" fill="#231f20" font-weight="bold" text-anchor="start" >H</text>
<text x="600.5" y="114.5" font-size="18.5" fill="#231f20" font-weight="bold" text-anchor="start" >I</text>
<text x="375.5" y="242.1" font-size="18.5" fill="#231f20" font-weight="bold" text-anchor="start" >J</text>
<text x="529.6" y="243.1" font-size="18.5" fill="#231f20" font-weight="bold" text-anchor="start" >K</text>
</svg></body></html>
